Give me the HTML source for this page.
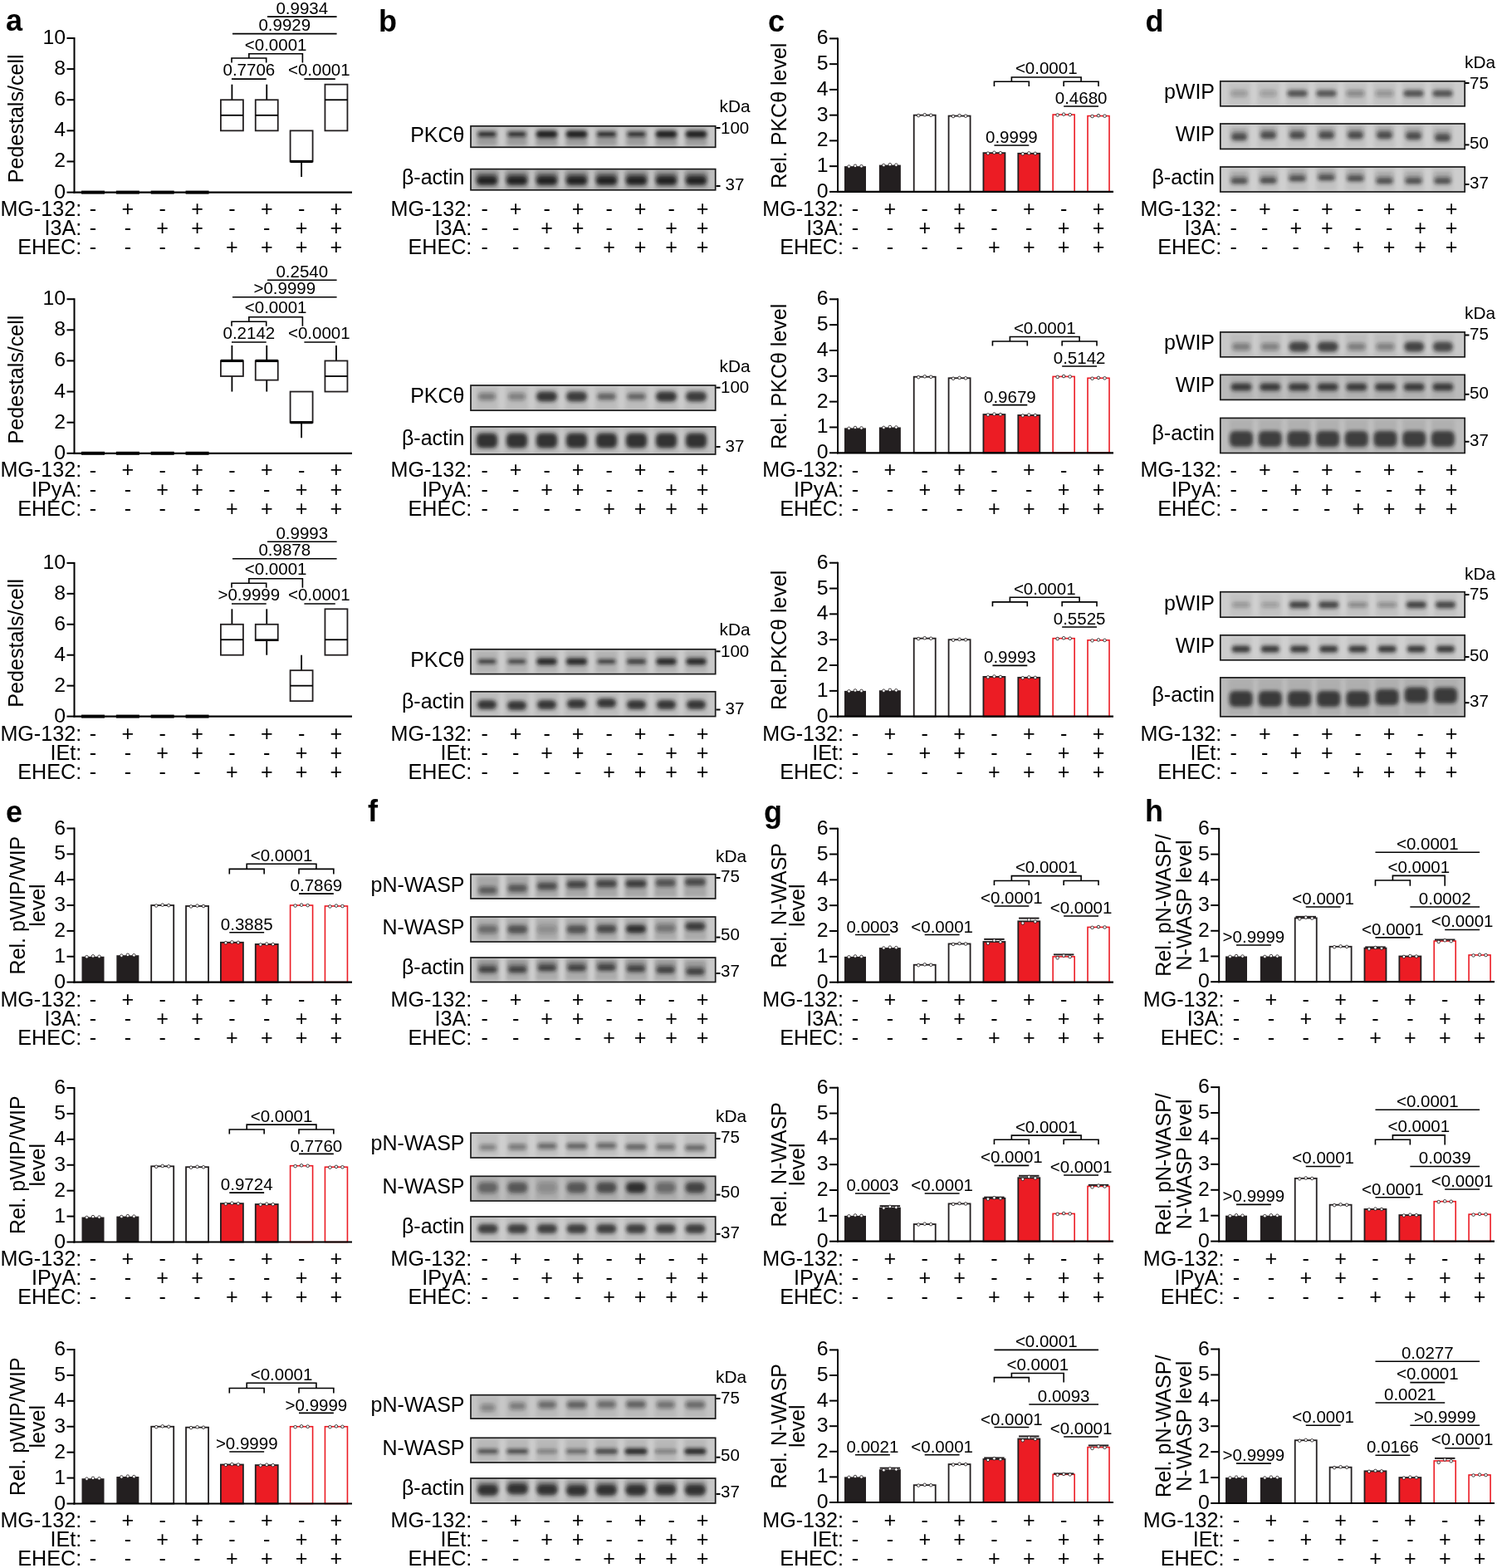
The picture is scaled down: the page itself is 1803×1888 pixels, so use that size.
<!DOCTYPE html>
<html><head><meta charset="utf-8"><title>Figure</title>
<style>html,body{margin:0;padding:0;background:#fff;}svg{display:block;}</style>
</head><body>
<svg width="1803" height="1888" viewBox="0 0 1803 1888" font-family='"Liberation Sans", Arial, Helvetica, sans-serif'>
<defs><filter id="bl" x="-20%" y="-60%" width="140%" height="220%"><feGaussianBlur stdDeviation="1.9"/></filter><filter id="bl2" x="-20%" y="-60%" width="140%" height="220%"><feGaussianBlur stdDeviation="2.4"/></filter><filter id="bl3" x="-5%" y="-20%" width="110%" height="140%"><feGaussianBlur stdDeviation="2"/></filter><filter id="bl4" x="-20%" y="-60%" width="140%" height="220%"><feGaussianBlur stdDeviation="2.2"/></filter></defs>
<rect width="1803" height="1888" fill="#fff"/>
<text x="7" y="37" font-size="36" font-weight="bold">a</text>
<text x="456" y="38" font-size="36" font-weight="bold">b</text>
<text x="925" y="38" font-size="36" font-weight="bold">c</text>
<text x="1379.5" y="38" font-size="36" font-weight="bold">d</text>
<text x="7" y="990" font-size="36" font-weight="bold">e</text>
<text x="443" y="989" font-size="36" font-weight="bold">f</text>
<text x="920" y="990" font-size="36" font-weight="bold">g</text>
<text x="1379" y="989" font-size="36" font-weight="bold">h</text>
<line x1="98" y1="231.6" x2="126" y2="231.6" stroke="#000" stroke-width="4"/>
<line x1="139.85" y1="231.6" x2="167.85" y2="231.6" stroke="#000" stroke-width="4"/>
<line x1="181.7" y1="231.6" x2="209.7" y2="231.6" stroke="#000" stroke-width="4"/>
<line x1="223.55" y1="231.6" x2="251.55" y2="231.6" stroke="#000" stroke-width="4"/>
<line x1="80.5" y1="231.6" x2="89.5" y2="231.6" stroke="#000" stroke-width="2"/>
<text x="79" y="238.6" font-size="24.8" text-anchor="end">0</text>
<line x1="80.5" y1="194.48" x2="89.5" y2="194.48" stroke="#000" stroke-width="2"/>
<text x="79" y="201.48" font-size="24.8" text-anchor="end">2</text>
<line x1="80.5" y1="157.36" x2="89.5" y2="157.36" stroke="#000" stroke-width="2"/>
<text x="79" y="164.36" font-size="24.8" text-anchor="end">4</text>
<line x1="80.5" y1="120.24" x2="89.5" y2="120.24" stroke="#000" stroke-width="2"/>
<text x="79" y="127.24" font-size="24.8" text-anchor="end">6</text>
<line x1="80.5" y1="83.12" x2="89.5" y2="83.12" stroke="#000" stroke-width="2"/>
<text x="79" y="90.12" font-size="24.8" text-anchor="end">8</text>
<line x1="80.5" y1="46" x2="89.5" y2="46" stroke="#000" stroke-width="2"/>
<text x="79" y="53" font-size="24.8" text-anchor="end">10</text>
<line x1="89.5" y1="45" x2="89.5" y2="232.6" stroke="#000" stroke-width="2"/>
<line x1="88.5" y1="231.6" x2="424" y2="231.6" stroke="#000" stroke-width="2.2"/>
<line x1="279.4" y1="120.24" x2="279.4" y2="101.68" stroke="#000" stroke-width="1.8"/>
<rect x="265.9" y="120.24" width="27" height="37.12" fill="#fff" stroke="#231f20" stroke-width="1.8"/>
<line x1="265.9" y1="138.8" x2="292.9" y2="138.8" stroke="#000" stroke-width="1.8"/>
<line x1="321.25" y1="120.24" x2="321.25" y2="101.68" stroke="#000" stroke-width="1.8"/>
<rect x="307.75" y="120.24" width="27" height="37.12" fill="#fff" stroke="#231f20" stroke-width="1.8"/>
<line x1="307.75" y1="138.8" x2="334.75" y2="138.8" stroke="#000" stroke-width="1.8"/>
<line x1="363.1" y1="194.48" x2="363.1" y2="213.04" stroke="#000" stroke-width="1.8"/>
<rect x="349.6" y="157.36" width="27" height="37.12" fill="#fff" stroke="#231f20" stroke-width="1.8"/>
<line x1="349.6" y1="194.48" x2="376.6" y2="194.48" stroke="#000" stroke-width="3.2"/>
<rect x="391.45" y="101.68" width="27" height="55.68" fill="#fff" stroke="#231f20" stroke-width="1.8"/>
<line x1="391.45" y1="120.24" x2="418.45" y2="120.24" stroke="#000" stroke-width="1.8"/>
<text transform="translate(28.3 142.8) rotate(-90)" text-anchor="middle" font-size="25.1">Pedestals/cell</text>
<text x="98.2" y="259.6" font-size="25.15" text-anchor="end">MG-132:</text>
<text x="112" y="259.9" font-size="25.15" text-anchor="middle">-</text>
<text x="153.85" y="259.6" font-size="25.15" text-anchor="middle">+</text>
<text x="195.7" y="259.9" font-size="25.15" text-anchor="middle">-</text>
<text x="237.55" y="259.6" font-size="25.15" text-anchor="middle">+</text>
<text x="279.4" y="259.9" font-size="25.15" text-anchor="middle">-</text>
<text x="321.25" y="259.6" font-size="25.15" text-anchor="middle">+</text>
<text x="363.1" y="259.9" font-size="25.15" text-anchor="middle">-</text>
<text x="404.95" y="259.6" font-size="25.15" text-anchor="middle">+</text>
<text x="98.2" y="282.6" font-size="25.15" text-anchor="end">I3A:</text>
<text x="112" y="282.9" font-size="25.15" text-anchor="middle">-</text>
<text x="153.85" y="282.9" font-size="25.15" text-anchor="middle">-</text>
<text x="195.7" y="282.6" font-size="25.15" text-anchor="middle">+</text>
<text x="237.55" y="282.6" font-size="25.15" text-anchor="middle">+</text>
<text x="279.4" y="282.9" font-size="25.15" text-anchor="middle">-</text>
<text x="321.25" y="282.9" font-size="25.15" text-anchor="middle">-</text>
<text x="363.1" y="282.6" font-size="25.15" text-anchor="middle">+</text>
<text x="404.95" y="282.6" font-size="25.15" text-anchor="middle">+</text>
<text x="98.2" y="305.9" font-size="25.15" text-anchor="end">EHEC:</text>
<text x="112" y="306.2" font-size="25.15" text-anchor="middle">-</text>
<text x="153.85" y="306.2" font-size="25.15" text-anchor="middle">-</text>
<text x="195.7" y="306.2" font-size="25.15" text-anchor="middle">-</text>
<text x="237.55" y="306.2" font-size="25.15" text-anchor="middle">-</text>
<text x="279.4" y="305.9" font-size="25.15" text-anchor="middle">+</text>
<text x="321.25" y="305.9" font-size="25.15" text-anchor="middle">+</text>
<text x="363.1" y="305.9" font-size="25.15" text-anchor="middle">+</text>
<text x="404.95" y="305.9" font-size="25.15" text-anchor="middle">+</text>
<line x1="322" y1="20.1" x2="405.6" y2="20.1" stroke="#000" stroke-width="1.6"/>
<text x="363.8" y="17" font-size="20.5" text-anchor="middle">0.9934</text>
<line x1="280" y1="40.6" x2="405.6" y2="40.6" stroke="#000" stroke-width="1.6"/>
<text x="342.8" y="37.4" font-size="20.5" text-anchor="middle">0.9929</text>
<path d="M279 75.5 V70 H320.7 V75.5" stroke="#000" stroke-width="1.6" fill="none"/>
<path d="M299.85 70 V64.76 H364.4 V75.5" stroke="#000" stroke-width="1.6" fill="none"/>
<text x="332.12" y="60.6" font-size="20.5" text-anchor="middle">&lt;0.0001</text>
<line x1="279" y1="95.1" x2="320.7" y2="95.1" stroke="#000" stroke-width="1.6"/>
<text x="299.85" y="91.2" font-size="20.5" text-anchor="middle">0.7706</text>
<line x1="366.4" y1="95.1" x2="403.8" y2="95.1" stroke="#000" stroke-width="1.6"/>
<text x="384.3" y="91.2" font-size="20.5" text-anchor="middle">&lt;0.0001</text>
<line x1="98" y1="545.8" x2="126" y2="545.8" stroke="#000" stroke-width="4"/>
<line x1="139.85" y1="545.8" x2="167.85" y2="545.8" stroke="#000" stroke-width="4"/>
<line x1="181.7" y1="545.8" x2="209.7" y2="545.8" stroke="#000" stroke-width="4"/>
<line x1="223.55" y1="545.8" x2="251.55" y2="545.8" stroke="#000" stroke-width="4"/>
<line x1="80.5" y1="545.8" x2="89.5" y2="545.8" stroke="#000" stroke-width="2"/>
<text x="79" y="552.8" font-size="24.8" text-anchor="end">0</text>
<line x1="80.5" y1="508.68" x2="89.5" y2="508.68" stroke="#000" stroke-width="2"/>
<text x="79" y="515.68" font-size="24.8" text-anchor="end">2</text>
<line x1="80.5" y1="471.56" x2="89.5" y2="471.56" stroke="#000" stroke-width="2"/>
<text x="79" y="478.56" font-size="24.8" text-anchor="end">4</text>
<line x1="80.5" y1="434.44" x2="89.5" y2="434.44" stroke="#000" stroke-width="2"/>
<text x="79" y="441.44" font-size="24.8" text-anchor="end">6</text>
<line x1="80.5" y1="397.32" x2="89.5" y2="397.32" stroke="#000" stroke-width="2"/>
<text x="79" y="404.32" font-size="24.8" text-anchor="end">8</text>
<line x1="80.5" y1="360.2" x2="89.5" y2="360.2" stroke="#000" stroke-width="2"/>
<text x="79" y="367.2" font-size="24.8" text-anchor="end">10</text>
<line x1="89.5" y1="359.2" x2="89.5" y2="546.8" stroke="#000" stroke-width="2"/>
<line x1="88.5" y1="545.8" x2="424" y2="545.8" stroke="#000" stroke-width="2.2"/>
<line x1="279.4" y1="434.44" x2="279.4" y2="415.88" stroke="#000" stroke-width="1.8"/>
<line x1="279.4" y1="453" x2="279.4" y2="471.56" stroke="#000" stroke-width="1.8"/>
<rect x="265.9" y="434.44" width="27" height="18.56" fill="#fff" stroke="#231f20" stroke-width="1.8"/>
<line x1="265.9" y1="434.44" x2="292.9" y2="434.44" stroke="#000" stroke-width="3.2"/>
<line x1="321.25" y1="434.44" x2="321.25" y2="415.88" stroke="#000" stroke-width="1.8"/>
<line x1="321.25" y1="457.64" x2="321.25" y2="471.56" stroke="#000" stroke-width="1.8"/>
<rect x="307.75" y="434.44" width="27" height="23.2" fill="#fff" stroke="#231f20" stroke-width="1.8"/>
<line x1="307.75" y1="434.44" x2="334.75" y2="434.44" stroke="#000" stroke-width="3.2"/>
<line x1="363.1" y1="508.68" x2="363.1" y2="527.24" stroke="#000" stroke-width="1.8"/>
<rect x="349.6" y="471.56" width="27" height="37.12" fill="#fff" stroke="#231f20" stroke-width="1.8"/>
<line x1="349.6" y1="508.68" x2="376.6" y2="508.68" stroke="#000" stroke-width="3.2"/>
<line x1="404.95" y1="434.44" x2="404.95" y2="415.88" stroke="#000" stroke-width="1.8"/>
<rect x="391.45" y="434.44" width="27" height="37.12" fill="#fff" stroke="#231f20" stroke-width="1.8"/>
<line x1="391.45" y1="453" x2="418.45" y2="453" stroke="#000" stroke-width="1.8"/>
<text transform="translate(28.3 457) rotate(-90)" text-anchor="middle" font-size="25.1">Pedestals/cell</text>
<text x="98.2" y="574.3" font-size="25.15" text-anchor="end">MG-132:</text>
<text x="112" y="574.6" font-size="25.15" text-anchor="middle">-</text>
<text x="153.85" y="574.3" font-size="25.15" text-anchor="middle">+</text>
<text x="195.7" y="574.6" font-size="25.15" text-anchor="middle">-</text>
<text x="237.55" y="574.3" font-size="25.15" text-anchor="middle">+</text>
<text x="279.4" y="574.6" font-size="25.15" text-anchor="middle">-</text>
<text x="321.25" y="574.3" font-size="25.15" text-anchor="middle">+</text>
<text x="363.1" y="574.6" font-size="25.15" text-anchor="middle">-</text>
<text x="404.95" y="574.3" font-size="25.15" text-anchor="middle">+</text>
<text x="98.2" y="597.5" font-size="25.15" text-anchor="end">IPyA:</text>
<text x="112" y="597.8" font-size="25.15" text-anchor="middle">-</text>
<text x="153.85" y="597.8" font-size="25.15" text-anchor="middle">-</text>
<text x="195.7" y="597.5" font-size="25.15" text-anchor="middle">+</text>
<text x="237.55" y="597.5" font-size="25.15" text-anchor="middle">+</text>
<text x="279.4" y="597.8" font-size="25.15" text-anchor="middle">-</text>
<text x="321.25" y="597.8" font-size="25.15" text-anchor="middle">-</text>
<text x="363.1" y="597.5" font-size="25.15" text-anchor="middle">+</text>
<text x="404.95" y="597.5" font-size="25.15" text-anchor="middle">+</text>
<text x="98.2" y="620.8" font-size="25.15" text-anchor="end">EHEC:</text>
<text x="112" y="621.1" font-size="25.15" text-anchor="middle">-</text>
<text x="153.85" y="621.1" font-size="25.15" text-anchor="middle">-</text>
<text x="195.7" y="621.1" font-size="25.15" text-anchor="middle">-</text>
<text x="237.55" y="621.1" font-size="25.15" text-anchor="middle">-</text>
<text x="279.4" y="620.8" font-size="25.15" text-anchor="middle">+</text>
<text x="321.25" y="620.8" font-size="25.15" text-anchor="middle">+</text>
<text x="363.1" y="620.8" font-size="25.15" text-anchor="middle">+</text>
<text x="404.95" y="620.8" font-size="25.15" text-anchor="middle">+</text>
<line x1="322" y1="337.3" x2="405.6" y2="337.3" stroke="#000" stroke-width="1.6"/>
<text x="363.8" y="333.5" font-size="20.5" text-anchor="middle">0.2540</text>
<line x1="280" y1="357.8" x2="405.6" y2="357.8" stroke="#000" stroke-width="1.6"/>
<text x="342.8" y="353.9" font-size="20.5" text-anchor="middle">&gt;0.9999</text>
<path d="M279 392.7 V387.2 H320.7 V392.7" stroke="#000" stroke-width="1.6" fill="none"/>
<path d="M299.85 387.2 V381.68 H364.4 V392.7" stroke="#000" stroke-width="1.6" fill="none"/>
<text x="332.12" y="377.1" font-size="20.5" text-anchor="middle">&lt;0.0001</text>
<line x1="279" y1="411.95" x2="320.7" y2="411.95" stroke="#000" stroke-width="1.6"/>
<text x="299.85" y="407.7" font-size="20.5" text-anchor="middle">0.2142</text>
<line x1="366.4" y1="411.95" x2="403.8" y2="411.95" stroke="#000" stroke-width="1.6"/>
<text x="384.3" y="407.7" font-size="20.5" text-anchor="middle">&lt;0.0001</text>
<line x1="98" y1="862.6" x2="126" y2="862.6" stroke="#000" stroke-width="4"/>
<line x1="139.85" y1="862.6" x2="167.85" y2="862.6" stroke="#000" stroke-width="4"/>
<line x1="181.7" y1="862.6" x2="209.7" y2="862.6" stroke="#000" stroke-width="4"/>
<line x1="223.55" y1="862.6" x2="251.55" y2="862.6" stroke="#000" stroke-width="4"/>
<line x1="80.5" y1="862.6" x2="89.5" y2="862.6" stroke="#000" stroke-width="2"/>
<text x="79" y="869.6" font-size="24.8" text-anchor="end">0</text>
<line x1="80.5" y1="825.66" x2="89.5" y2="825.66" stroke="#000" stroke-width="2"/>
<text x="79" y="832.66" font-size="24.8" text-anchor="end">2</text>
<line x1="80.5" y1="788.72" x2="89.5" y2="788.72" stroke="#000" stroke-width="2"/>
<text x="79" y="795.72" font-size="24.8" text-anchor="end">4</text>
<line x1="80.5" y1="751.78" x2="89.5" y2="751.78" stroke="#000" stroke-width="2"/>
<text x="79" y="758.78" font-size="24.8" text-anchor="end">6</text>
<line x1="80.5" y1="714.84" x2="89.5" y2="714.84" stroke="#000" stroke-width="2"/>
<text x="79" y="721.84" font-size="24.8" text-anchor="end">8</text>
<line x1="80.5" y1="677.9" x2="89.5" y2="677.9" stroke="#000" stroke-width="2"/>
<text x="79" y="684.9" font-size="24.8" text-anchor="end">10</text>
<line x1="89.5" y1="676.9" x2="89.5" y2="863.6" stroke="#000" stroke-width="2"/>
<line x1="88.5" y1="862.6" x2="424" y2="862.6" stroke="#000" stroke-width="2.2"/>
<line x1="279.4" y1="751.78" x2="279.4" y2="733.31" stroke="#000" stroke-width="1.8"/>
<rect x="265.9" y="751.78" width="27" height="36.94" fill="#fff" stroke="#231f20" stroke-width="1.8"/>
<line x1="265.9" y1="770.25" x2="292.9" y2="770.25" stroke="#000" stroke-width="1.8"/>
<line x1="321.25" y1="751.78" x2="321.25" y2="733.31" stroke="#000" stroke-width="1.8"/>
<line x1="321.25" y1="771.17" x2="321.25" y2="788.72" stroke="#000" stroke-width="1.8"/>
<rect x="307.75" y="751.78" width="27" height="19.39" fill="#fff" stroke="#231f20" stroke-width="1.8"/>
<line x1="307.75" y1="770.25" x2="334.75" y2="770.25" stroke="#000" stroke-width="1.8"/>
<line x1="363.1" y1="807.19" x2="363.1" y2="788.72" stroke="#000" stroke-width="1.8"/>
<rect x="349.6" y="807.19" width="27" height="36.94" fill="#fff" stroke="#231f20" stroke-width="1.8"/>
<line x1="349.6" y1="825.66" x2="376.6" y2="825.66" stroke="#000" stroke-width="1.8"/>
<rect x="391.45" y="733.31" width="27" height="55.41" fill="#fff" stroke="#231f20" stroke-width="1.8"/>
<line x1="391.45" y1="770.25" x2="418.45" y2="770.25" stroke="#000" stroke-width="1.8"/>
<text transform="translate(28.3 774.25) rotate(-90)" text-anchor="middle" font-size="25.1">Pedestals/cell</text>
<text x="98.2" y="891.8" font-size="25.15" text-anchor="end">MG-132:</text>
<text x="112" y="892.1" font-size="25.15" text-anchor="middle">-</text>
<text x="153.85" y="891.8" font-size="25.15" text-anchor="middle">+</text>
<text x="195.7" y="892.1" font-size="25.15" text-anchor="middle">-</text>
<text x="237.55" y="891.8" font-size="25.15" text-anchor="middle">+</text>
<text x="279.4" y="892.1" font-size="25.15" text-anchor="middle">-</text>
<text x="321.25" y="891.8" font-size="25.15" text-anchor="middle">+</text>
<text x="363.1" y="892.1" font-size="25.15" text-anchor="middle">-</text>
<text x="404.95" y="891.8" font-size="25.15" text-anchor="middle">+</text>
<text x="98.2" y="914.8" font-size="25.15" text-anchor="end">IEt:</text>
<text x="112" y="915.1" font-size="25.15" text-anchor="middle">-</text>
<text x="153.85" y="915.1" font-size="25.15" text-anchor="middle">-</text>
<text x="195.7" y="914.8" font-size="25.15" text-anchor="middle">+</text>
<text x="237.55" y="914.8" font-size="25.15" text-anchor="middle">+</text>
<text x="279.4" y="915.1" font-size="25.15" text-anchor="middle">-</text>
<text x="321.25" y="915.1" font-size="25.15" text-anchor="middle">-</text>
<text x="363.1" y="914.8" font-size="25.15" text-anchor="middle">+</text>
<text x="404.95" y="914.8" font-size="25.15" text-anchor="middle">+</text>
<text x="98.2" y="937.9" font-size="25.15" text-anchor="end">EHEC:</text>
<text x="112" y="938.2" font-size="25.15" text-anchor="middle">-</text>
<text x="153.85" y="938.2" font-size="25.15" text-anchor="middle">-</text>
<text x="195.7" y="938.2" font-size="25.15" text-anchor="middle">-</text>
<text x="237.55" y="938.2" font-size="25.15" text-anchor="middle">-</text>
<text x="279.4" y="937.9" font-size="25.15" text-anchor="middle">+</text>
<text x="321.25" y="937.9" font-size="25.15" text-anchor="middle">+</text>
<text x="363.1" y="937.9" font-size="25.15" text-anchor="middle">+</text>
<text x="404.95" y="937.9" font-size="25.15" text-anchor="middle">+</text>
<line x1="322" y1="652.3" x2="405.6" y2="652.3" stroke="#000" stroke-width="1.6"/>
<text x="363.8" y="648.5" font-size="20.5" text-anchor="middle">0.9993</text>
<line x1="280" y1="672.8" x2="405.6" y2="672.8" stroke="#000" stroke-width="1.6"/>
<text x="342.8" y="668.9" font-size="20.5" text-anchor="middle">0.9878</text>
<path d="M279 707.7 V702.2 H320.7 V707.7" stroke="#000" stroke-width="1.6" fill="none"/>
<path d="M299.85 702.2 V696.68 H364.4 V707.7" stroke="#000" stroke-width="1.6" fill="none"/>
<text x="332.12" y="692.1" font-size="20.5" text-anchor="middle">&lt;0.0001</text>
<line x1="279" y1="726.95" x2="320.7" y2="726.95" stroke="#000" stroke-width="1.6"/>
<text x="299.85" y="722.7" font-size="20.5" text-anchor="middle">&gt;0.9999</text>
<line x1="366.4" y1="726.95" x2="403.8" y2="726.95" stroke="#000" stroke-width="1.6"/>
<text x="384.3" y="722.7" font-size="20.5" text-anchor="middle">&lt;0.0001</text>
<rect x="1017" y="200.15" width="26" height="30.75" fill="#231f20" stroke="none" stroke-width="0"/>
<circle cx="1022.5" cy="200.61" r="1.8" fill="#fff" stroke="#231f20" stroke-width="0.85"/>
<circle cx="1030" cy="199.77" r="1.8" fill="#fff" stroke="#231f20" stroke-width="0.85"/>
<circle cx="1037.5" cy="200.23" r="1.8" fill="#fff" stroke="#231f20" stroke-width="0.85"/>
<rect x="1058.86" y="198.61" width="26" height="32.29" fill="#231f20" stroke="none" stroke-width="0"/>
<circle cx="1064.36" cy="199.07" r="1.8" fill="#fff" stroke="#231f20" stroke-width="0.85"/>
<circle cx="1071.86" cy="198.23" r="1.8" fill="#fff" stroke="#231f20" stroke-width="0.85"/>
<circle cx="1079.36" cy="198.69" r="1.8" fill="#fff" stroke="#231f20" stroke-width="0.85"/>
<rect x="1100.72" y="138.65" width="26" height="92.25" fill="#fff" stroke="#231f20" stroke-width="1.8"/>
<circle cx="1106.22" cy="139.11" r="1.8" fill="#fff" stroke="#231f20" stroke-width="0.85"/>
<circle cx="1113.72" cy="138.27" r="1.8" fill="#fff" stroke="#231f20" stroke-width="0.85"/>
<circle cx="1121.22" cy="138.73" r="1.8" fill="#fff" stroke="#231f20" stroke-width="0.85"/>
<rect x="1142.58" y="139.57" width="26" height="91.33" fill="#fff" stroke="#231f20" stroke-width="1.8"/>
<circle cx="1148.08" cy="140.03" r="1.8" fill="#fff" stroke="#231f20" stroke-width="0.85"/>
<circle cx="1155.58" cy="139.19" r="1.8" fill="#fff" stroke="#231f20" stroke-width="0.85"/>
<circle cx="1163.08" cy="139.65" r="1.8" fill="#fff" stroke="#231f20" stroke-width="0.85"/>
<rect x="1184.44" y="184.16" width="26" height="46.74" fill="#ec1c24" stroke="#231f20" stroke-width="1.8"/>
<circle cx="1189.94" cy="184.62" r="1.8" fill="#fff" stroke="#231f20" stroke-width="0.85"/>
<circle cx="1197.44" cy="183.78" r="1.8" fill="#fff" stroke="#231f20" stroke-width="0.85"/>
<circle cx="1204.94" cy="184.24" r="1.8" fill="#fff" stroke="#231f20" stroke-width="0.85"/>
<rect x="1226.3" y="184.78" width="26" height="46.12" fill="#ec1c24" stroke="#231f20" stroke-width="1.8"/>
<circle cx="1231.8" cy="185.24" r="1.8" fill="#fff" stroke="#231f20" stroke-width="0.85"/>
<circle cx="1239.3" cy="184.39" r="1.8" fill="#fff" stroke="#231f20" stroke-width="0.85"/>
<circle cx="1246.8" cy="184.85" r="1.8" fill="#fff" stroke="#231f20" stroke-width="0.85"/>
<rect x="1268.16" y="138.04" width="26" height="92.86" fill="#fff" stroke="#ec1c24" stroke-width="1.6"/>
<circle cx="1273.66" cy="138.5" r="1.8" fill="#fff" stroke="#231f20" stroke-width="0.85"/>
<circle cx="1281.16" cy="137.65" r="1.8" fill="#fff" stroke="#231f20" stroke-width="0.85"/>
<circle cx="1288.66" cy="138.11" r="1.8" fill="#fff" stroke="#231f20" stroke-width="0.85"/>
<rect x="1310.02" y="139.57" width="26" height="91.33" fill="#fff" stroke="#ec1c24" stroke-width="1.6"/>
<circle cx="1315.52" cy="140.03" r="1.8" fill="#fff" stroke="#231f20" stroke-width="0.85"/>
<circle cx="1323.02" cy="139.19" r="1.8" fill="#fff" stroke="#231f20" stroke-width="0.85"/>
<circle cx="1330.52" cy="139.65" r="1.8" fill="#fff" stroke="#231f20" stroke-width="0.85"/>
<line x1="999" y1="230.9" x2="1009" y2="230.9" stroke="#000" stroke-width="2"/>
<text x="997.5" y="237.9" font-size="24.8" text-anchor="end">0</text>
<line x1="999" y1="200.15" x2="1009" y2="200.15" stroke="#000" stroke-width="2"/>
<text x="997.5" y="207.15" font-size="24.8" text-anchor="end">1</text>
<line x1="999" y1="169.4" x2="1009" y2="169.4" stroke="#000" stroke-width="2"/>
<text x="997.5" y="176.4" font-size="24.8" text-anchor="end">2</text>
<line x1="999" y1="138.65" x2="1009" y2="138.65" stroke="#000" stroke-width="2"/>
<text x="997.5" y="145.65" font-size="24.8" text-anchor="end">3</text>
<line x1="999" y1="107.9" x2="1009" y2="107.9" stroke="#000" stroke-width="2"/>
<text x="997.5" y="114.9" font-size="24.8" text-anchor="end">4</text>
<line x1="999" y1="77.15" x2="1009" y2="77.15" stroke="#000" stroke-width="2"/>
<text x="997.5" y="84.15" font-size="24.8" text-anchor="end">5</text>
<line x1="999" y1="46.4" x2="1009" y2="46.4" stroke="#000" stroke-width="2"/>
<text x="997.5" y="53.4" font-size="24.8" text-anchor="end">6</text>
<line x1="1009" y1="45.4" x2="1009" y2="231.9" stroke="#000" stroke-width="2"/>
<line x1="1008" y1="230.9" x2="1341" y2="230.9" stroke="#000" stroke-width="2.2"/>
<text transform="translate(947.2 139.15) rotate(-90)" text-anchor="middle" font-size="25">Rel. PKCθ level</text>
<text x="1016" y="259.6" font-size="25.15" text-anchor="end">MG-132:</text>
<text x="1030" y="259.9" font-size="25.15" text-anchor="middle">-</text>
<text x="1071.86" y="259.6" font-size="25.15" text-anchor="middle">+</text>
<text x="1113.72" y="259.9" font-size="25.15" text-anchor="middle">-</text>
<text x="1155.58" y="259.6" font-size="25.15" text-anchor="middle">+</text>
<text x="1197.44" y="259.9" font-size="25.15" text-anchor="middle">-</text>
<text x="1239.3" y="259.6" font-size="25.15" text-anchor="middle">+</text>
<text x="1281.16" y="259.9" font-size="25.15" text-anchor="middle">-</text>
<text x="1323.02" y="259.6" font-size="25.15" text-anchor="middle">+</text>
<text x="1016" y="282.6" font-size="25.15" text-anchor="end">I3A:</text>
<text x="1030" y="282.9" font-size="25.15" text-anchor="middle">-</text>
<text x="1071.86" y="282.9" font-size="25.15" text-anchor="middle">-</text>
<text x="1113.72" y="282.6" font-size="25.15" text-anchor="middle">+</text>
<text x="1155.58" y="282.6" font-size="25.15" text-anchor="middle">+</text>
<text x="1197.44" y="282.9" font-size="25.15" text-anchor="middle">-</text>
<text x="1239.3" y="282.9" font-size="25.15" text-anchor="middle">-</text>
<text x="1281.16" y="282.6" font-size="25.15" text-anchor="middle">+</text>
<text x="1323.02" y="282.6" font-size="25.15" text-anchor="middle">+</text>
<text x="1016" y="305.9" font-size="25.15" text-anchor="end">EHEC:</text>
<text x="1030" y="306.2" font-size="25.15" text-anchor="middle">-</text>
<text x="1071.86" y="306.2" font-size="25.15" text-anchor="middle">-</text>
<text x="1113.72" y="306.2" font-size="25.15" text-anchor="middle">-</text>
<text x="1155.58" y="306.2" font-size="25.15" text-anchor="middle">-</text>
<text x="1197.44" y="305.9" font-size="25.15" text-anchor="middle">+</text>
<text x="1239.3" y="305.9" font-size="25.15" text-anchor="middle">+</text>
<text x="1281.16" y="305.9" font-size="25.15" text-anchor="middle">+</text>
<text x="1323.02" y="305.9" font-size="25.15" text-anchor="middle">+</text>
<path d="M1197.44 104 V98.2 H1239.3 V104" stroke="#000" stroke-width="1.6" fill="none"/>
<path d="M1281.16 104 V98.2 H1323.02 V104" stroke="#000" stroke-width="1.6" fill="none"/>
<path d="M1218.37 98.2 V93 H1302.09 V98.2" stroke="#000" stroke-width="1.6" fill="none"/>
<text x="1260.23" y="89.3" font-size="20.5" text-anchor="middle">&lt;0.0001</text>
<line x1="1281.16" y1="128" x2="1323.02" y2="128" stroke="#000" stroke-width="1.6"/>
<text x="1302.09" y="125" font-size="20.5" text-anchor="middle">0.4680</text>
<line x1="1197.44" y1="175" x2="1239.3" y2="175" stroke="#000" stroke-width="1.6"/>
<text x="1218.37" y="172" font-size="20.5" text-anchor="middle">0.9999</text>
<rect x="1017" y="515.39" width="26" height="29.91" fill="#231f20" stroke="none" stroke-width="0"/>
<circle cx="1022.5" cy="515.85" r="1.8" fill="#fff" stroke="#231f20" stroke-width="0.85"/>
<circle cx="1030" cy="515.01" r="1.8" fill="#fff" stroke="#231f20" stroke-width="0.85"/>
<circle cx="1037.5" cy="515.47" r="1.8" fill="#fff" stroke="#231f20" stroke-width="0.85"/>
<rect x="1058.86" y="514.47" width="26" height="30.83" fill="#231f20" stroke="none" stroke-width="0"/>
<circle cx="1064.36" cy="514.93" r="1.8" fill="#fff" stroke="#231f20" stroke-width="0.85"/>
<circle cx="1071.86" cy="514.08" r="1.8" fill="#fff" stroke="#231f20" stroke-width="0.85"/>
<circle cx="1079.36" cy="514.54" r="1.8" fill="#fff" stroke="#231f20" stroke-width="0.85"/>
<rect x="1100.72" y="453.72" width="26" height="91.57" fill="#fff" stroke="#231f20" stroke-width="1.8"/>
<circle cx="1106.22" cy="454.19" r="1.8" fill="#fff" stroke="#231f20" stroke-width="0.85"/>
<circle cx="1113.72" cy="453.34" r="1.8" fill="#fff" stroke="#231f20" stroke-width="0.85"/>
<circle cx="1121.22" cy="453.8" r="1.8" fill="#fff" stroke="#231f20" stroke-width="0.85"/>
<rect x="1142.58" y="455.27" width="26" height="90.03" fill="#fff" stroke="#231f20" stroke-width="1.8"/>
<circle cx="1148.08" cy="455.73" r="1.8" fill="#fff" stroke="#231f20" stroke-width="0.85"/>
<circle cx="1155.58" cy="454.88" r="1.8" fill="#fff" stroke="#231f20" stroke-width="0.85"/>
<circle cx="1163.08" cy="455.34" r="1.8" fill="#fff" stroke="#231f20" stroke-width="0.85"/>
<rect x="1184.44" y="499.05" width="26" height="46.25" fill="#ec1c24" stroke="#231f20" stroke-width="1.8"/>
<circle cx="1189.94" cy="499.51" r="1.8" fill="#fff" stroke="#231f20" stroke-width="0.85"/>
<circle cx="1197.44" cy="498.66" r="1.8" fill="#fff" stroke="#231f20" stroke-width="0.85"/>
<circle cx="1204.94" cy="499.13" r="1.8" fill="#fff" stroke="#231f20" stroke-width="0.85"/>
<rect x="1226.3" y="499.97" width="26" height="45.32" fill="#ec1c24" stroke="#231f20" stroke-width="1.8"/>
<circle cx="1231.8" cy="500.44" r="1.8" fill="#fff" stroke="#231f20" stroke-width="0.85"/>
<circle cx="1239.3" cy="499.59" r="1.8" fill="#fff" stroke="#231f20" stroke-width="0.85"/>
<circle cx="1246.8" cy="500.05" r="1.8" fill="#fff" stroke="#231f20" stroke-width="0.85"/>
<rect x="1268.16" y="453.42" width="26" height="91.88" fill="#fff" stroke="#ec1c24" stroke-width="1.6"/>
<circle cx="1273.66" cy="453.88" r="1.8" fill="#fff" stroke="#231f20" stroke-width="0.85"/>
<circle cx="1281.16" cy="453.03" r="1.8" fill="#fff" stroke="#231f20" stroke-width="0.85"/>
<circle cx="1288.66" cy="453.49" r="1.8" fill="#fff" stroke="#231f20" stroke-width="0.85"/>
<rect x="1310.02" y="455.27" width="26" height="90.03" fill="#fff" stroke="#ec1c24" stroke-width="1.6"/>
<circle cx="1315.52" cy="455.73" r="1.8" fill="#fff" stroke="#231f20" stroke-width="0.85"/>
<circle cx="1323.02" cy="454.88" r="1.8" fill="#fff" stroke="#231f20" stroke-width="0.85"/>
<circle cx="1330.52" cy="455.34" r="1.8" fill="#fff" stroke="#231f20" stroke-width="0.85"/>
<line x1="999" y1="545.3" x2="1009" y2="545.3" stroke="#000" stroke-width="2"/>
<text x="997.5" y="552.3" font-size="24.8" text-anchor="end">0</text>
<line x1="999" y1="514.47" x2="1009" y2="514.47" stroke="#000" stroke-width="2"/>
<text x="997.5" y="521.47" font-size="24.8" text-anchor="end">1</text>
<line x1="999" y1="483.63" x2="1009" y2="483.63" stroke="#000" stroke-width="2"/>
<text x="997.5" y="490.63" font-size="24.8" text-anchor="end">2</text>
<line x1="999" y1="452.8" x2="1009" y2="452.8" stroke="#000" stroke-width="2"/>
<text x="997.5" y="459.8" font-size="24.8" text-anchor="end">3</text>
<line x1="999" y1="421.97" x2="1009" y2="421.97" stroke="#000" stroke-width="2"/>
<text x="997.5" y="428.97" font-size="24.8" text-anchor="end">4</text>
<line x1="999" y1="391.13" x2="1009" y2="391.13" stroke="#000" stroke-width="2"/>
<text x="997.5" y="398.13" font-size="24.8" text-anchor="end">5</text>
<line x1="999" y1="360.3" x2="1009" y2="360.3" stroke="#000" stroke-width="2"/>
<text x="997.5" y="367.3" font-size="24.8" text-anchor="end">6</text>
<line x1="1009" y1="359.3" x2="1009" y2="546.3" stroke="#000" stroke-width="2"/>
<line x1="1008" y1="545.3" x2="1341" y2="545.3" stroke="#000" stroke-width="2.2"/>
<text transform="translate(947.2 453.3) rotate(-90)" text-anchor="middle" font-size="25">Rel. PKCθ level</text>
<text x="1016" y="574.3" font-size="25.15" text-anchor="end">MG-132:</text>
<text x="1030" y="574.6" font-size="25.15" text-anchor="middle">-</text>
<text x="1071.86" y="574.3" font-size="25.15" text-anchor="middle">+</text>
<text x="1113.72" y="574.6" font-size="25.15" text-anchor="middle">-</text>
<text x="1155.58" y="574.3" font-size="25.15" text-anchor="middle">+</text>
<text x="1197.44" y="574.6" font-size="25.15" text-anchor="middle">-</text>
<text x="1239.3" y="574.3" font-size="25.15" text-anchor="middle">+</text>
<text x="1281.16" y="574.6" font-size="25.15" text-anchor="middle">-</text>
<text x="1323.02" y="574.3" font-size="25.15" text-anchor="middle">+</text>
<text x="1016" y="597.5" font-size="25.15" text-anchor="end">IPyA:</text>
<text x="1030" y="597.8" font-size="25.15" text-anchor="middle">-</text>
<text x="1071.86" y="597.8" font-size="25.15" text-anchor="middle">-</text>
<text x="1113.72" y="597.5" font-size="25.15" text-anchor="middle">+</text>
<text x="1155.58" y="597.5" font-size="25.15" text-anchor="middle">+</text>
<text x="1197.44" y="597.8" font-size="25.15" text-anchor="middle">-</text>
<text x="1239.3" y="597.8" font-size="25.15" text-anchor="middle">-</text>
<text x="1281.16" y="597.5" font-size="25.15" text-anchor="middle">+</text>
<text x="1323.02" y="597.5" font-size="25.15" text-anchor="middle">+</text>
<text x="1016" y="620.8" font-size="25.15" text-anchor="end">EHEC:</text>
<text x="1030" y="621.1" font-size="25.15" text-anchor="middle">-</text>
<text x="1071.86" y="621.1" font-size="25.15" text-anchor="middle">-</text>
<text x="1113.72" y="621.1" font-size="25.15" text-anchor="middle">-</text>
<text x="1155.58" y="621.1" font-size="25.15" text-anchor="middle">-</text>
<text x="1197.44" y="620.8" font-size="25.15" text-anchor="middle">+</text>
<text x="1239.3" y="620.8" font-size="25.15" text-anchor="middle">+</text>
<text x="1281.16" y="620.8" font-size="25.15" text-anchor="middle">+</text>
<text x="1323.02" y="620.8" font-size="25.15" text-anchor="middle">+</text>
<path d="M1195.44 416.4 V411 H1237.3 V416.4" stroke="#000" stroke-width="1.6" fill="none"/>
<path d="M1279.16 416.4 V411 H1321.02 V416.4" stroke="#000" stroke-width="1.6" fill="none"/>
<path d="M1216.37 411 V405.5 H1300.09 V411" stroke="#000" stroke-width="1.6" fill="none"/>
<text x="1258.23" y="401.8" font-size="20.5" text-anchor="middle">&lt;0.0001</text>
<line x1="1279.16" y1="441" x2="1321.02" y2="441" stroke="#000" stroke-width="1.6"/>
<text x="1300.09" y="438" font-size="20.5" text-anchor="middle">0.5142</text>
<line x1="1195.44" y1="487.6" x2="1237.3" y2="487.6" stroke="#000" stroke-width="1.6"/>
<text x="1216.37" y="484.6" font-size="20.5" text-anchor="middle">0.9679</text>
<rect x="1017" y="831.87" width="26" height="30.83" fill="#231f20" stroke="none" stroke-width="0"/>
<circle cx="1022.5" cy="832.33" r="1.8" fill="#fff" stroke="#231f20" stroke-width="0.85"/>
<circle cx="1030" cy="831.48" r="1.8" fill="#fff" stroke="#231f20" stroke-width="0.85"/>
<circle cx="1037.5" cy="831.94" r="1.8" fill="#fff" stroke="#231f20" stroke-width="0.85"/>
<rect x="1058.86" y="831.25" width="26" height="31.45" fill="#231f20" stroke="none" stroke-width="0"/>
<circle cx="1064.36" cy="831.71" r="1.8" fill="#fff" stroke="#231f20" stroke-width="0.85"/>
<circle cx="1071.86" cy="830.86" r="1.8" fill="#fff" stroke="#231f20" stroke-width="0.85"/>
<circle cx="1079.36" cy="831.33" r="1.8" fill="#fff" stroke="#231f20" stroke-width="0.85"/>
<rect x="1100.72" y="768.66" width="26" height="94.04" fill="#fff" stroke="#231f20" stroke-width="1.8"/>
<circle cx="1106.22" cy="769.12" r="1.8" fill="#fff" stroke="#231f20" stroke-width="0.85"/>
<circle cx="1113.72" cy="768.27" r="1.8" fill="#fff" stroke="#231f20" stroke-width="0.85"/>
<circle cx="1121.22" cy="768.74" r="1.8" fill="#fff" stroke="#231f20" stroke-width="0.85"/>
<rect x="1142.58" y="770.2" width="26" height="92.5" fill="#fff" stroke="#231f20" stroke-width="1.8"/>
<circle cx="1148.08" cy="770.66" r="1.8" fill="#fff" stroke="#231f20" stroke-width="0.85"/>
<circle cx="1155.58" cy="769.81" r="1.8" fill="#fff" stroke="#231f20" stroke-width="0.85"/>
<circle cx="1163.08" cy="770.28" r="1.8" fill="#fff" stroke="#231f20" stroke-width="0.85"/>
<rect x="1184.44" y="814.91" width="26" height="47.79" fill="#ec1c24" stroke="#231f20" stroke-width="1.8"/>
<circle cx="1189.94" cy="815.37" r="1.8" fill="#fff" stroke="#231f20" stroke-width="0.85"/>
<circle cx="1197.44" cy="814.52" r="1.8" fill="#fff" stroke="#231f20" stroke-width="0.85"/>
<circle cx="1204.94" cy="814.99" r="1.8" fill="#fff" stroke="#231f20" stroke-width="0.85"/>
<rect x="1226.3" y="815.83" width="26" height="46.87" fill="#ec1c24" stroke="#231f20" stroke-width="1.8"/>
<circle cx="1231.8" cy="816.3" r="1.8" fill="#fff" stroke="#231f20" stroke-width="0.85"/>
<circle cx="1239.3" cy="815.45" r="1.8" fill="#fff" stroke="#231f20" stroke-width="0.85"/>
<circle cx="1246.8" cy="815.91" r="1.8" fill="#fff" stroke="#231f20" stroke-width="0.85"/>
<rect x="1268.16" y="768.66" width="26" height="94.04" fill="#fff" stroke="#ec1c24" stroke-width="1.6"/>
<circle cx="1273.66" cy="769.12" r="1.8" fill="#fff" stroke="#231f20" stroke-width="0.85"/>
<circle cx="1281.16" cy="768.27" r="1.8" fill="#fff" stroke="#231f20" stroke-width="0.85"/>
<circle cx="1288.66" cy="768.74" r="1.8" fill="#fff" stroke="#231f20" stroke-width="0.85"/>
<rect x="1310.02" y="770.82" width="26" height="91.88" fill="#fff" stroke="#ec1c24" stroke-width="1.6"/>
<circle cx="1315.52" cy="771.28" r="1.8" fill="#fff" stroke="#231f20" stroke-width="0.85"/>
<circle cx="1323.02" cy="770.43" r="1.8" fill="#fff" stroke="#231f20" stroke-width="0.85"/>
<circle cx="1330.52" cy="770.89" r="1.8" fill="#fff" stroke="#231f20" stroke-width="0.85"/>
<line x1="999" y1="862.7" x2="1009" y2="862.7" stroke="#000" stroke-width="2"/>
<text x="997.5" y="869.7" font-size="24.8" text-anchor="end">0</text>
<line x1="999" y1="831.87" x2="1009" y2="831.87" stroke="#000" stroke-width="2"/>
<text x="997.5" y="838.87" font-size="24.8" text-anchor="end">1</text>
<line x1="999" y1="801.03" x2="1009" y2="801.03" stroke="#000" stroke-width="2"/>
<text x="997.5" y="808.03" font-size="24.8" text-anchor="end">2</text>
<line x1="999" y1="770.2" x2="1009" y2="770.2" stroke="#000" stroke-width="2"/>
<text x="997.5" y="777.2" font-size="24.8" text-anchor="end">3</text>
<line x1="999" y1="739.37" x2="1009" y2="739.37" stroke="#000" stroke-width="2"/>
<text x="997.5" y="746.37" font-size="24.8" text-anchor="end">4</text>
<line x1="999" y1="708.53" x2="1009" y2="708.53" stroke="#000" stroke-width="2"/>
<text x="997.5" y="715.53" font-size="24.8" text-anchor="end">5</text>
<line x1="999" y1="677.7" x2="1009" y2="677.7" stroke="#000" stroke-width="2"/>
<text x="997.5" y="684.7" font-size="24.8" text-anchor="end">6</text>
<line x1="1009" y1="676.7" x2="1009" y2="863.7" stroke="#000" stroke-width="2"/>
<line x1="1008" y1="862.7" x2="1341" y2="862.7" stroke="#000" stroke-width="2.2"/>
<text transform="translate(947.2 770.7) rotate(-90)" text-anchor="middle" font-size="25">Rel.PKCθ level</text>
<text x="1016" y="891.8" font-size="25.15" text-anchor="end">MG-132:</text>
<text x="1030" y="892.1" font-size="25.15" text-anchor="middle">-</text>
<text x="1071.86" y="891.8" font-size="25.15" text-anchor="middle">+</text>
<text x="1113.72" y="892.1" font-size="25.15" text-anchor="middle">-</text>
<text x="1155.58" y="891.8" font-size="25.15" text-anchor="middle">+</text>
<text x="1197.44" y="892.1" font-size="25.15" text-anchor="middle">-</text>
<text x="1239.3" y="891.8" font-size="25.15" text-anchor="middle">+</text>
<text x="1281.16" y="892.1" font-size="25.15" text-anchor="middle">-</text>
<text x="1323.02" y="891.8" font-size="25.15" text-anchor="middle">+</text>
<text x="1016" y="914.8" font-size="25.15" text-anchor="end">IEt:</text>
<text x="1030" y="915.1" font-size="25.15" text-anchor="middle">-</text>
<text x="1071.86" y="915.1" font-size="25.15" text-anchor="middle">-</text>
<text x="1113.72" y="914.8" font-size="25.15" text-anchor="middle">+</text>
<text x="1155.58" y="914.8" font-size="25.15" text-anchor="middle">+</text>
<text x="1197.44" y="915.1" font-size="25.15" text-anchor="middle">-</text>
<text x="1239.3" y="915.1" font-size="25.15" text-anchor="middle">-</text>
<text x="1281.16" y="914.8" font-size="25.15" text-anchor="middle">+</text>
<text x="1323.02" y="914.8" font-size="25.15" text-anchor="middle">+</text>
<text x="1016" y="937.9" font-size="25.15" text-anchor="end">EHEC:</text>
<text x="1030" y="938.2" font-size="25.15" text-anchor="middle">-</text>
<text x="1071.86" y="938.2" font-size="25.15" text-anchor="middle">-</text>
<text x="1113.72" y="938.2" font-size="25.15" text-anchor="middle">-</text>
<text x="1155.58" y="938.2" font-size="25.15" text-anchor="middle">-</text>
<text x="1197.44" y="937.9" font-size="25.15" text-anchor="middle">+</text>
<text x="1239.3" y="937.9" font-size="25.15" text-anchor="middle">+</text>
<text x="1281.16" y="937.9" font-size="25.15" text-anchor="middle">+</text>
<text x="1323.02" y="937.9" font-size="25.15" text-anchor="middle">+</text>
<path d="M1195.44 730.3 V724.9 H1237.3 V730.3" stroke="#000" stroke-width="1.6" fill="none"/>
<path d="M1279.16 730.3 V724.9 H1321.02 V730.3" stroke="#000" stroke-width="1.6" fill="none"/>
<path d="M1216.37 724.9 V719.3 H1300.09 V724.9" stroke="#000" stroke-width="1.6" fill="none"/>
<text x="1258.23" y="715.6" font-size="20.5" text-anchor="middle">&lt;0.0001</text>
<line x1="1279.16" y1="755" x2="1321.02" y2="755" stroke="#000" stroke-width="1.6"/>
<text x="1300.09" y="752" font-size="20.5" text-anchor="middle">0.5525</text>
<line x1="1195.44" y1="801.4" x2="1237.3" y2="801.4" stroke="#000" stroke-width="1.6"/>
<text x="1216.37" y="798.4" font-size="20.5" text-anchor="middle">0.9993</text>
<rect x="98.5" y="1151.75" width="27" height="30.85" fill="#231f20" stroke="none" stroke-width="0"/>
<circle cx="104.5" cy="1152.21" r="1.8" fill="#fff" stroke="#231f20" stroke-width="0.85"/>
<circle cx="112" cy="1151.36" r="1.8" fill="#fff" stroke="#231f20" stroke-width="0.85"/>
<circle cx="119.5" cy="1151.83" r="1.8" fill="#fff" stroke="#231f20" stroke-width="0.85"/>
<rect x="140.35" y="1150.21" width="27" height="32.39" fill="#231f20" stroke="none" stroke-width="0"/>
<circle cx="146.35" cy="1150.67" r="1.8" fill="#fff" stroke="#231f20" stroke-width="0.85"/>
<circle cx="153.85" cy="1149.82" r="1.8" fill="#fff" stroke="#231f20" stroke-width="0.85"/>
<circle cx="161.35" cy="1150.28" r="1.8" fill="#fff" stroke="#231f20" stroke-width="0.85"/>
<rect x="182.2" y="1090.05" width="27" height="92.55" fill="#fff" stroke="#231f20" stroke-width="1.8"/>
<circle cx="188.2" cy="1090.51" r="1.8" fill="#fff" stroke="#231f20" stroke-width="0.85"/>
<circle cx="195.7" cy="1089.66" r="1.8" fill="#fff" stroke="#231f20" stroke-width="0.85"/>
<circle cx="203.2" cy="1090.13" r="1.8" fill="#fff" stroke="#231f20" stroke-width="0.85"/>
<rect x="224.05" y="1090.98" width="27" height="91.62" fill="#fff" stroke="#231f20" stroke-width="1.8"/>
<circle cx="230.05" cy="1091.44" r="1.8" fill="#fff" stroke="#231f20" stroke-width="0.85"/>
<circle cx="237.55" cy="1090.59" r="1.8" fill="#fff" stroke="#231f20" stroke-width="0.85"/>
<circle cx="245.05" cy="1091.05" r="1.8" fill="#fff" stroke="#231f20" stroke-width="0.85"/>
<rect x="265.9" y="1134.78" width="27" height="47.82" fill="#ec1c24" stroke="#231f20" stroke-width="1.8"/>
<circle cx="271.9" cy="1135.25" r="1.8" fill="#fff" stroke="#231f20" stroke-width="0.85"/>
<circle cx="279.4" cy="1134.4" r="1.8" fill="#fff" stroke="#231f20" stroke-width="0.85"/>
<circle cx="286.9" cy="1134.86" r="1.8" fill="#fff" stroke="#231f20" stroke-width="0.85"/>
<rect x="307.75" y="1136.94" width="27" height="45.66" fill="#ec1c24" stroke="#231f20" stroke-width="1.8"/>
<circle cx="313.75" cy="1137.4" r="1.8" fill="#fff" stroke="#231f20" stroke-width="0.85"/>
<circle cx="321.25" cy="1136.56" r="1.8" fill="#fff" stroke="#231f20" stroke-width="0.85"/>
<circle cx="328.75" cy="1137.02" r="1.8" fill="#fff" stroke="#231f20" stroke-width="0.85"/>
<rect x="349.6" y="1090.05" width="27" height="92.55" fill="#fff" stroke="#ec1c24" stroke-width="1.6"/>
<circle cx="355.6" cy="1090.51" r="1.8" fill="#fff" stroke="#231f20" stroke-width="0.85"/>
<circle cx="363.1" cy="1089.66" r="1.8" fill="#fff" stroke="#231f20" stroke-width="0.85"/>
<circle cx="370.6" cy="1090.13" r="1.8" fill="#fff" stroke="#231f20" stroke-width="0.85"/>
<rect x="391.45" y="1090.98" width="27" height="91.62" fill="#fff" stroke="#ec1c24" stroke-width="1.6"/>
<circle cx="397.45" cy="1091.44" r="1.8" fill="#fff" stroke="#231f20" stroke-width="0.85"/>
<circle cx="404.95" cy="1090.59" r="1.8" fill="#fff" stroke="#231f20" stroke-width="0.85"/>
<circle cx="412.45" cy="1091.05" r="1.8" fill="#fff" stroke="#231f20" stroke-width="0.85"/>
<line x1="80.5" y1="1182.6" x2="89.5" y2="1182.6" stroke="#000" stroke-width="2"/>
<text x="79" y="1189.6" font-size="24.8" text-anchor="end">0</text>
<line x1="80.5" y1="1151.75" x2="89.5" y2="1151.75" stroke="#000" stroke-width="2"/>
<text x="79" y="1158.75" font-size="24.8" text-anchor="end">1</text>
<line x1="80.5" y1="1120.9" x2="89.5" y2="1120.9" stroke="#000" stroke-width="2"/>
<text x="79" y="1127.9" font-size="24.8" text-anchor="end">2</text>
<line x1="80.5" y1="1090.05" x2="89.5" y2="1090.05" stroke="#000" stroke-width="2"/>
<text x="79" y="1097.05" font-size="24.8" text-anchor="end">3</text>
<line x1="80.5" y1="1059.2" x2="89.5" y2="1059.2" stroke="#000" stroke-width="2"/>
<text x="79" y="1066.2" font-size="24.8" text-anchor="end">4</text>
<line x1="80.5" y1="1028.35" x2="89.5" y2="1028.35" stroke="#000" stroke-width="2"/>
<text x="79" y="1035.35" font-size="24.8" text-anchor="end">5</text>
<line x1="80.5" y1="997.5" x2="89.5" y2="997.5" stroke="#000" stroke-width="2"/>
<text x="79" y="1004.5" font-size="24.8" text-anchor="end">6</text>
<line x1="89.5" y1="996.5" x2="89.5" y2="1183.6" stroke="#000" stroke-width="2"/>
<line x1="88.5" y1="1182.6" x2="424" y2="1182.6" stroke="#000" stroke-width="2.2"/>
<text transform="translate(30 1090.05) rotate(-90)" text-anchor="middle" font-size="25">Rel. pWIP/WIP</text>
<text transform="translate(53.7 1090.05) rotate(-90)" text-anchor="middle" font-size="25">level</text>
<text x="98.2" y="1211.5" font-size="25.15" text-anchor="end">MG-132:</text>
<text x="112" y="1211.8" font-size="25.15" text-anchor="middle">-</text>
<text x="153.85" y="1211.5" font-size="25.15" text-anchor="middle">+</text>
<text x="195.7" y="1211.8" font-size="25.15" text-anchor="middle">-</text>
<text x="237.55" y="1211.5" font-size="25.15" text-anchor="middle">+</text>
<text x="279.4" y="1211.8" font-size="25.15" text-anchor="middle">-</text>
<text x="321.25" y="1211.5" font-size="25.15" text-anchor="middle">+</text>
<text x="363.1" y="1211.8" font-size="25.15" text-anchor="middle">-</text>
<text x="404.95" y="1211.5" font-size="25.15" text-anchor="middle">+</text>
<text x="98.2" y="1234.6" font-size="25.15" text-anchor="end">I3A:</text>
<text x="112" y="1234.9" font-size="25.15" text-anchor="middle">-</text>
<text x="153.85" y="1234.9" font-size="25.15" text-anchor="middle">-</text>
<text x="195.7" y="1234.6" font-size="25.15" text-anchor="middle">+</text>
<text x="237.55" y="1234.6" font-size="25.15" text-anchor="middle">+</text>
<text x="279.4" y="1234.9" font-size="25.15" text-anchor="middle">-</text>
<text x="321.25" y="1234.9" font-size="25.15" text-anchor="middle">-</text>
<text x="363.1" y="1234.6" font-size="25.15" text-anchor="middle">+</text>
<text x="404.95" y="1234.6" font-size="25.15" text-anchor="middle">+</text>
<text x="98.2" y="1257.8" font-size="25.15" text-anchor="end">EHEC:</text>
<text x="112" y="1258.1" font-size="25.15" text-anchor="middle">-</text>
<text x="153.85" y="1258.1" font-size="25.15" text-anchor="middle">-</text>
<text x="195.7" y="1258.1" font-size="25.15" text-anchor="middle">-</text>
<text x="237.55" y="1258.1" font-size="25.15" text-anchor="middle">-</text>
<text x="279.4" y="1257.8" font-size="25.15" text-anchor="middle">+</text>
<text x="321.25" y="1257.8" font-size="25.15" text-anchor="middle">+</text>
<text x="363.1" y="1257.8" font-size="25.15" text-anchor="middle">+</text>
<text x="404.95" y="1257.8" font-size="25.15" text-anchor="middle">+</text>
<path d="M276.3 1052.5 V1046.4 H318.15 V1052.5" stroke="#000" stroke-width="1.6" fill="none"/>
<path d="M360 1052.5 V1046.4 H401.85 V1052.5" stroke="#000" stroke-width="1.6" fill="none"/>
<path d="M297.22 1046.4 V1040.3 H380.92 V1046.4" stroke="#000" stroke-width="1.6" fill="none"/>
<text x="339.07" y="1037.1" font-size="20.5" text-anchor="middle">&lt;0.0001</text>
<line x1="360" y1="1076.1" x2="401.85" y2="1076.1" stroke="#000" stroke-width="1.6"/>
<text x="380.92" y="1073.2" font-size="20.5" text-anchor="middle">0.7869</text>
<line x1="276.3" y1="1122.8" x2="318.15" y2="1122.8" stroke="#000" stroke-width="1.6"/>
<text x="297.22" y="1119.6" font-size="20.5" text-anchor="middle">0.3885</text>
<rect x="98.5" y="1465.51" width="27" height="29.99" fill="#231f20" stroke="none" stroke-width="0"/>
<circle cx="104.5" cy="1465.97" r="1.8" fill="#fff" stroke="#231f20" stroke-width="0.85"/>
<circle cx="112" cy="1465.12" r="1.8" fill="#fff" stroke="#231f20" stroke-width="0.85"/>
<circle cx="119.5" cy="1465.59" r="1.8" fill="#fff" stroke="#231f20" stroke-width="0.85"/>
<rect x="140.35" y="1464.58" width="27" height="30.92" fill="#231f20" stroke="none" stroke-width="0"/>
<circle cx="146.35" cy="1465.05" r="1.8" fill="#fff" stroke="#231f20" stroke-width="0.85"/>
<circle cx="153.85" cy="1464.2" r="1.8" fill="#fff" stroke="#231f20" stroke-width="0.85"/>
<circle cx="161.35" cy="1464.66" r="1.8" fill="#fff" stroke="#231f20" stroke-width="0.85"/>
<rect x="182.2" y="1404.3" width="27" height="91.2" fill="#fff" stroke="#231f20" stroke-width="1.8"/>
<circle cx="188.2" cy="1404.76" r="1.8" fill="#fff" stroke="#231f20" stroke-width="0.85"/>
<circle cx="195.7" cy="1403.91" r="1.8" fill="#fff" stroke="#231f20" stroke-width="0.85"/>
<circle cx="203.2" cy="1404.37" r="1.8" fill="#fff" stroke="#231f20" stroke-width="0.85"/>
<rect x="224.05" y="1405.22" width="27" height="90.28" fill="#fff" stroke="#231f20" stroke-width="1.8"/>
<circle cx="230.05" cy="1405.69" r="1.8" fill="#fff" stroke="#231f20" stroke-width="0.85"/>
<circle cx="237.55" cy="1404.84" r="1.8" fill="#fff" stroke="#231f20" stroke-width="0.85"/>
<circle cx="245.05" cy="1405.3" r="1.8" fill="#fff" stroke="#231f20" stroke-width="0.85"/>
<rect x="265.9" y="1449.12" width="27" height="46.38" fill="#ec1c24" stroke="#231f20" stroke-width="1.8"/>
<circle cx="271.9" cy="1449.59" r="1.8" fill="#fff" stroke="#231f20" stroke-width="0.85"/>
<circle cx="279.4" cy="1448.74" r="1.8" fill="#fff" stroke="#231f20" stroke-width="0.85"/>
<circle cx="286.9" cy="1449.2" r="1.8" fill="#fff" stroke="#231f20" stroke-width="0.85"/>
<rect x="307.75" y="1450.05" width="27" height="45.45" fill="#ec1c24" stroke="#231f20" stroke-width="1.8"/>
<circle cx="313.75" cy="1450.52" r="1.8" fill="#fff" stroke="#231f20" stroke-width="0.85"/>
<circle cx="321.25" cy="1449.67" r="1.8" fill="#fff" stroke="#231f20" stroke-width="0.85"/>
<circle cx="328.75" cy="1450.13" r="1.8" fill="#fff" stroke="#231f20" stroke-width="0.85"/>
<rect x="349.6" y="1403.68" width="27" height="91.82" fill="#fff" stroke="#ec1c24" stroke-width="1.6"/>
<circle cx="355.6" cy="1404.14" r="1.8" fill="#fff" stroke="#231f20" stroke-width="0.85"/>
<circle cx="363.1" cy="1403.29" r="1.8" fill="#fff" stroke="#231f20" stroke-width="0.85"/>
<circle cx="370.6" cy="1403.75" r="1.8" fill="#fff" stroke="#231f20" stroke-width="0.85"/>
<rect x="391.45" y="1405.22" width="27" height="90.28" fill="#fff" stroke="#ec1c24" stroke-width="1.6"/>
<circle cx="397.45" cy="1405.69" r="1.8" fill="#fff" stroke="#231f20" stroke-width="0.85"/>
<circle cx="404.95" cy="1404.84" r="1.8" fill="#fff" stroke="#231f20" stroke-width="0.85"/>
<circle cx="412.45" cy="1405.3" r="1.8" fill="#fff" stroke="#231f20" stroke-width="0.85"/>
<line x1="80.5" y1="1495.5" x2="89.5" y2="1495.5" stroke="#000" stroke-width="2"/>
<text x="79" y="1502.5" font-size="24.8" text-anchor="end">0</text>
<line x1="80.5" y1="1464.58" x2="89.5" y2="1464.58" stroke="#000" stroke-width="2"/>
<text x="79" y="1471.58" font-size="24.8" text-anchor="end">1</text>
<line x1="80.5" y1="1433.67" x2="89.5" y2="1433.67" stroke="#000" stroke-width="2"/>
<text x="79" y="1440.67" font-size="24.8" text-anchor="end">2</text>
<line x1="80.5" y1="1402.75" x2="89.5" y2="1402.75" stroke="#000" stroke-width="2"/>
<text x="79" y="1409.75" font-size="24.8" text-anchor="end">3</text>
<line x1="80.5" y1="1371.83" x2="89.5" y2="1371.83" stroke="#000" stroke-width="2"/>
<text x="79" y="1378.83" font-size="24.8" text-anchor="end">4</text>
<line x1="80.5" y1="1340.92" x2="89.5" y2="1340.92" stroke="#000" stroke-width="2"/>
<text x="79" y="1347.92" font-size="24.8" text-anchor="end">5</text>
<line x1="80.5" y1="1310" x2="89.5" y2="1310" stroke="#000" stroke-width="2"/>
<text x="79" y="1317" font-size="24.8" text-anchor="end">6</text>
<line x1="89.5" y1="1309" x2="89.5" y2="1496.5" stroke="#000" stroke-width="2"/>
<line x1="88.5" y1="1495.5" x2="424" y2="1495.5" stroke="#000" stroke-width="2.2"/>
<text transform="translate(30 1402.75) rotate(-90)" text-anchor="middle" font-size="25">Rel. pWIP/WIP</text>
<text transform="translate(53.7 1402.75) rotate(-90)" text-anchor="middle" font-size="25">level</text>
<text x="98.2" y="1523.8" font-size="25.15" text-anchor="end">MG-132:</text>
<text x="112" y="1524.1" font-size="25.15" text-anchor="middle">-</text>
<text x="153.85" y="1523.8" font-size="25.15" text-anchor="middle">+</text>
<text x="195.7" y="1524.1" font-size="25.15" text-anchor="middle">-</text>
<text x="237.55" y="1523.8" font-size="25.15" text-anchor="middle">+</text>
<text x="279.4" y="1524.1" font-size="25.15" text-anchor="middle">-</text>
<text x="321.25" y="1523.8" font-size="25.15" text-anchor="middle">+</text>
<text x="363.1" y="1524.1" font-size="25.15" text-anchor="middle">-</text>
<text x="404.95" y="1523.8" font-size="25.15" text-anchor="middle">+</text>
<text x="98.2" y="1546.8" font-size="25.15" text-anchor="end">IPyA:</text>
<text x="112" y="1547.1" font-size="25.15" text-anchor="middle">-</text>
<text x="153.85" y="1547.1" font-size="25.15" text-anchor="middle">-</text>
<text x="195.7" y="1546.8" font-size="25.15" text-anchor="middle">+</text>
<text x="237.55" y="1546.8" font-size="25.15" text-anchor="middle">+</text>
<text x="279.4" y="1547.1" font-size="25.15" text-anchor="middle">-</text>
<text x="321.25" y="1547.1" font-size="25.15" text-anchor="middle">-</text>
<text x="363.1" y="1546.8" font-size="25.15" text-anchor="middle">+</text>
<text x="404.95" y="1546.8" font-size="25.15" text-anchor="middle">+</text>
<text x="98.2" y="1569.9" font-size="25.15" text-anchor="end">EHEC:</text>
<text x="112" y="1570.2" font-size="25.15" text-anchor="middle">-</text>
<text x="153.85" y="1570.2" font-size="25.15" text-anchor="middle">-</text>
<text x="195.7" y="1570.2" font-size="25.15" text-anchor="middle">-</text>
<text x="237.55" y="1570.2" font-size="25.15" text-anchor="middle">-</text>
<text x="279.4" y="1569.9" font-size="25.15" text-anchor="middle">+</text>
<text x="321.25" y="1569.9" font-size="25.15" text-anchor="middle">+</text>
<text x="363.1" y="1569.9" font-size="25.15" text-anchor="middle">+</text>
<text x="404.95" y="1569.9" font-size="25.15" text-anchor="middle">+</text>
<path d="M276.3 1365.4 V1360 H318.15 V1365.4" stroke="#000" stroke-width="1.6" fill="none"/>
<path d="M360 1365.4 V1360 H401.85 V1365.4" stroke="#000" stroke-width="1.6" fill="none"/>
<path d="M297.22 1360 V1354.1 H380.92 V1360" stroke="#000" stroke-width="1.6" fill="none"/>
<text x="339.07" y="1350.9" font-size="20.5" text-anchor="middle">&lt;0.0001</text>
<line x1="360" y1="1389.4" x2="401.85" y2="1389.4" stroke="#000" stroke-width="1.6"/>
<text x="380.92" y="1386.5" font-size="20.5" text-anchor="middle">0.7760</text>
<line x1="276.3" y1="1436.1" x2="318.15" y2="1436.1" stroke="#000" stroke-width="1.6"/>
<text x="297.22" y="1432.9" font-size="20.5" text-anchor="middle">0.9724</text>
<rect x="98.5" y="1780.2" width="27" height="30.3" fill="#231f20" stroke="none" stroke-width="0"/>
<circle cx="104.5" cy="1780.67" r="1.8" fill="#fff" stroke="#231f20" stroke-width="0.85"/>
<circle cx="112" cy="1779.82" r="1.8" fill="#fff" stroke="#231f20" stroke-width="0.85"/>
<circle cx="119.5" cy="1780.28" r="1.8" fill="#fff" stroke="#231f20" stroke-width="0.85"/>
<rect x="140.35" y="1778.04" width="27" height="32.46" fill="#231f20" stroke="none" stroke-width="0"/>
<circle cx="146.35" cy="1778.5" r="1.8" fill="#fff" stroke="#231f20" stroke-width="0.85"/>
<circle cx="153.85" cy="1777.65" r="1.8" fill="#fff" stroke="#231f20" stroke-width="0.85"/>
<circle cx="161.35" cy="1778.11" r="1.8" fill="#fff" stroke="#231f20" stroke-width="0.85"/>
<rect x="182.2" y="1717.75" width="27" height="92.75" fill="#fff" stroke="#231f20" stroke-width="1.8"/>
<circle cx="188.2" cy="1718.21" r="1.8" fill="#fff" stroke="#231f20" stroke-width="0.85"/>
<circle cx="195.7" cy="1717.36" r="1.8" fill="#fff" stroke="#231f20" stroke-width="0.85"/>
<circle cx="203.2" cy="1717.83" r="1.8" fill="#fff" stroke="#231f20" stroke-width="0.85"/>
<rect x="224.05" y="1718.68" width="27" height="91.82" fill="#fff" stroke="#231f20" stroke-width="1.8"/>
<circle cx="230.05" cy="1719.14" r="1.8" fill="#fff" stroke="#231f20" stroke-width="0.85"/>
<circle cx="237.55" cy="1718.29" r="1.8" fill="#fff" stroke="#231f20" stroke-width="0.85"/>
<circle cx="245.05" cy="1718.75" r="1.8" fill="#fff" stroke="#231f20" stroke-width="0.85"/>
<rect x="265.9" y="1763.51" width="27" height="46.99" fill="#ec1c24" stroke="#231f20" stroke-width="1.8"/>
<circle cx="271.9" cy="1763.97" r="1.8" fill="#fff" stroke="#231f20" stroke-width="0.85"/>
<circle cx="279.4" cy="1763.12" r="1.8" fill="#fff" stroke="#231f20" stroke-width="0.85"/>
<circle cx="286.9" cy="1763.58" r="1.8" fill="#fff" stroke="#231f20" stroke-width="0.85"/>
<rect x="307.75" y="1764.12" width="27" height="46.38" fill="#ec1c24" stroke="#231f20" stroke-width="1.8"/>
<circle cx="313.75" cy="1764.59" r="1.8" fill="#fff" stroke="#231f20" stroke-width="0.85"/>
<circle cx="321.25" cy="1763.74" r="1.8" fill="#fff" stroke="#231f20" stroke-width="0.85"/>
<circle cx="328.75" cy="1764.2" r="1.8" fill="#fff" stroke="#231f20" stroke-width="0.85"/>
<rect x="349.6" y="1717.75" width="27" height="92.75" fill="#fff" stroke="#ec1c24" stroke-width="1.6"/>
<circle cx="355.6" cy="1718.21" r="1.8" fill="#fff" stroke="#231f20" stroke-width="0.85"/>
<circle cx="363.1" cy="1717.36" r="1.8" fill="#fff" stroke="#231f20" stroke-width="0.85"/>
<circle cx="370.6" cy="1717.83" r="1.8" fill="#fff" stroke="#231f20" stroke-width="0.85"/>
<rect x="391.45" y="1717.75" width="27" height="92.75" fill="#fff" stroke="#ec1c24" stroke-width="1.6"/>
<circle cx="397.45" cy="1718.21" r="1.8" fill="#fff" stroke="#231f20" stroke-width="0.85"/>
<circle cx="404.95" cy="1717.36" r="1.8" fill="#fff" stroke="#231f20" stroke-width="0.85"/>
<circle cx="412.45" cy="1717.83" r="1.8" fill="#fff" stroke="#231f20" stroke-width="0.85"/>
<line x1="80.5" y1="1810.5" x2="89.5" y2="1810.5" stroke="#000" stroke-width="2"/>
<text x="79" y="1817.5" font-size="24.8" text-anchor="end">0</text>
<line x1="80.5" y1="1779.58" x2="89.5" y2="1779.58" stroke="#000" stroke-width="2"/>
<text x="79" y="1786.58" font-size="24.8" text-anchor="end">1</text>
<line x1="80.5" y1="1748.67" x2="89.5" y2="1748.67" stroke="#000" stroke-width="2"/>
<text x="79" y="1755.67" font-size="24.8" text-anchor="end">2</text>
<line x1="80.5" y1="1717.75" x2="89.5" y2="1717.75" stroke="#000" stroke-width="2"/>
<text x="79" y="1724.75" font-size="24.8" text-anchor="end">3</text>
<line x1="80.5" y1="1686.83" x2="89.5" y2="1686.83" stroke="#000" stroke-width="2"/>
<text x="79" y="1693.83" font-size="24.8" text-anchor="end">4</text>
<line x1="80.5" y1="1655.92" x2="89.5" y2="1655.92" stroke="#000" stroke-width="2"/>
<text x="79" y="1662.92" font-size="24.8" text-anchor="end">5</text>
<line x1="80.5" y1="1625" x2="89.5" y2="1625" stroke="#000" stroke-width="2"/>
<text x="79" y="1632" font-size="24.8" text-anchor="end">6</text>
<line x1="89.5" y1="1624" x2="89.5" y2="1811.5" stroke="#000" stroke-width="2"/>
<line x1="88.5" y1="1810.5" x2="424" y2="1810.5" stroke="#000" stroke-width="2.2"/>
<text transform="translate(30 1717.75) rotate(-90)" text-anchor="middle" font-size="25">Rel. pWIP/WIP</text>
<text transform="translate(53.7 1717.75) rotate(-90)" text-anchor="middle" font-size="25">level</text>
<text x="98.2" y="1838.8" font-size="25.15" text-anchor="end">MG-132:</text>
<text x="112" y="1839.1" font-size="25.15" text-anchor="middle">-</text>
<text x="153.85" y="1838.8" font-size="25.15" text-anchor="middle">+</text>
<text x="195.7" y="1839.1" font-size="25.15" text-anchor="middle">-</text>
<text x="237.55" y="1838.8" font-size="25.15" text-anchor="middle">+</text>
<text x="279.4" y="1839.1" font-size="25.15" text-anchor="middle">-</text>
<text x="321.25" y="1838.8" font-size="25.15" text-anchor="middle">+</text>
<text x="363.1" y="1839.1" font-size="25.15" text-anchor="middle">-</text>
<text x="404.95" y="1838.8" font-size="25.15" text-anchor="middle">+</text>
<text x="98.2" y="1861.7" font-size="25.15" text-anchor="end">IEt:</text>
<text x="112" y="1862" font-size="25.15" text-anchor="middle">-</text>
<text x="153.85" y="1862" font-size="25.15" text-anchor="middle">-</text>
<text x="195.7" y="1861.7" font-size="25.15" text-anchor="middle">+</text>
<text x="237.55" y="1861.7" font-size="25.15" text-anchor="middle">+</text>
<text x="279.4" y="1862" font-size="25.15" text-anchor="middle">-</text>
<text x="321.25" y="1862" font-size="25.15" text-anchor="middle">-</text>
<text x="363.1" y="1861.7" font-size="25.15" text-anchor="middle">+</text>
<text x="404.95" y="1861.7" font-size="25.15" text-anchor="middle">+</text>
<text x="98.2" y="1885" font-size="25.15" text-anchor="end">EHEC:</text>
<text x="112" y="1885.3" font-size="25.15" text-anchor="middle">-</text>
<text x="153.85" y="1885.3" font-size="25.15" text-anchor="middle">-</text>
<text x="195.7" y="1885.3" font-size="25.15" text-anchor="middle">-</text>
<text x="237.55" y="1885.3" font-size="25.15" text-anchor="middle">-</text>
<text x="279.4" y="1885" font-size="25.15" text-anchor="middle">+</text>
<text x="321.25" y="1885" font-size="25.15" text-anchor="middle">+</text>
<text x="363.1" y="1885" font-size="25.15" text-anchor="middle">+</text>
<text x="404.95" y="1885" font-size="25.15" text-anchor="middle">+</text>
<path d="M276.3 1677.5 V1671.5 H318.15 V1677.5" stroke="#000" stroke-width="1.6" fill="none"/>
<path d="M360 1677.5 V1671.5 H401.85 V1677.5" stroke="#000" stroke-width="1.6" fill="none"/>
<path d="M297.22 1671.5 V1665.3 H380.92 V1671.5" stroke="#000" stroke-width="1.6" fill="none"/>
<text x="339.07" y="1662.1" font-size="20.5" text-anchor="middle">&lt;0.0001</text>
<line x1="360" y1="1701.4" x2="401.85" y2="1701.4" stroke="#000" stroke-width="1.6"/>
<text x="380.92" y="1698.5" font-size="20.5" text-anchor="middle">&gt;0.9999</text>
<line x1="276.3" y1="1748" x2="318.15" y2="1748" stroke="#000" stroke-width="1.6"/>
<text x="297.22" y="1744.8" font-size="20.5" text-anchor="middle">&gt;0.9999</text>
<rect x="1017" y="1151.87" width="26" height="30.83" fill="#231f20" stroke="none" stroke-width="0"/>
<circle cx="1022.5" cy="1152.33" r="1.8" fill="#fff" stroke="#231f20" stroke-width="0.85"/>
<circle cx="1030" cy="1151.48" r="1.8" fill="#fff" stroke="#231f20" stroke-width="0.85"/>
<circle cx="1037.5" cy="1151.94" r="1.8" fill="#fff" stroke="#231f20" stroke-width="0.85"/>
<rect x="1058.86" y="1141.08" width="26" height="41.62" fill="#231f20" stroke="none" stroke-width="0"/>
<circle cx="1064.36" cy="1141.54" r="1.8" fill="#fff" stroke="#231f20" stroke-width="0.85"/>
<circle cx="1071.86" cy="1140.69" r="1.8" fill="#fff" stroke="#231f20" stroke-width="0.85"/>
<circle cx="1079.36" cy="1141.15" r="1.8" fill="#fff" stroke="#231f20" stroke-width="0.85"/>
<rect x="1100.72" y="1161.73" width="26" height="20.97" fill="#fff" stroke="#231f20" stroke-width="1.8"/>
<circle cx="1106.22" cy="1162.2" r="1.8" fill="#fff" stroke="#231f20" stroke-width="0.85"/>
<circle cx="1113.72" cy="1161.35" r="1.8" fill="#fff" stroke="#231f20" stroke-width="0.85"/>
<circle cx="1121.22" cy="1161.81" r="1.8" fill="#fff" stroke="#231f20" stroke-width="0.85"/>
<rect x="1142.58" y="1136.45" width="26" height="46.25" fill="#fff" stroke="#231f20" stroke-width="1.8"/>
<circle cx="1148.08" cy="1136.91" r="1.8" fill="#fff" stroke="#231f20" stroke-width="0.85"/>
<circle cx="1155.58" cy="1136.06" r="1.8" fill="#fff" stroke="#231f20" stroke-width="0.85"/>
<circle cx="1163.08" cy="1136.53" r="1.8" fill="#fff" stroke="#231f20" stroke-width="0.85"/>
<rect x="1184.44" y="1133.98" width="26" height="48.72" fill="#ec1c24" stroke="#231f20" stroke-width="1.8"/>
<line x1="1197.44" y1="1133.98" x2="1197.44" y2="1130.9" stroke="#231f20" stroke-width="1.5"/>
<line x1="1185.22" y1="1130.9" x2="1209.66" y2="1130.9" stroke="#231f20" stroke-width="2"/>
<circle cx="1189.94" cy="1135.83" r="1.8" fill="#fff" stroke="#231f20" stroke-width="0.85"/>
<circle cx="1197.44" cy="1132.44" r="1.8" fill="#fff" stroke="#231f20" stroke-width="0.85"/>
<circle cx="1204.94" cy="1134.29" r="1.8" fill="#fff" stroke="#231f20" stroke-width="0.85"/>
<rect x="1226.3" y="1109.32" width="26" height="73.38" fill="#ec1c24" stroke="#231f20" stroke-width="1.8"/>
<line x1="1239.3" y1="1109.32" x2="1239.3" y2="1105.62" stroke="#231f20" stroke-width="1.5"/>
<line x1="1227.08" y1="1105.62" x2="1251.52" y2="1105.62" stroke="#231f20" stroke-width="2"/>
<circle cx="1231.8" cy="1111.54" r="1.8" fill="#fff" stroke="#231f20" stroke-width="0.85"/>
<circle cx="1239.3" cy="1107.47" r="1.8" fill="#fff" stroke="#231f20" stroke-width="0.85"/>
<circle cx="1246.8" cy="1109.69" r="1.8" fill="#fff" stroke="#231f20" stroke-width="0.85"/>
<rect x="1268.16" y="1151.87" width="26" height="30.83" fill="#fff" stroke="#ec1c24" stroke-width="1.6"/>
<line x1="1281.16" y1="1151.87" x2="1281.16" y2="1149.4" stroke="#231f20" stroke-width="1.5"/>
<line x1="1268.94" y1="1149.4" x2="1293.38" y2="1149.4" stroke="#231f20" stroke-width="2"/>
<circle cx="1273.66" cy="1153.35" r="1.8" fill="#fff" stroke="#231f20" stroke-width="0.85"/>
<circle cx="1281.16" cy="1150.63" r="1.8" fill="#fff" stroke="#231f20" stroke-width="0.85"/>
<circle cx="1288.66" cy="1152.11" r="1.8" fill="#fff" stroke="#231f20" stroke-width="0.85"/>
<rect x="1310.02" y="1116.41" width="26" height="66.29" fill="#fff" stroke="#ec1c24" stroke-width="1.6"/>
<circle cx="1315.52" cy="1116.87" r="1.8" fill="#fff" stroke="#231f20" stroke-width="0.85"/>
<circle cx="1323.02" cy="1116.02" r="1.8" fill="#fff" stroke="#231f20" stroke-width="0.85"/>
<circle cx="1330.52" cy="1116.49" r="1.8" fill="#fff" stroke="#231f20" stroke-width="0.85"/>
<line x1="999" y1="1182.7" x2="1009" y2="1182.7" stroke="#000" stroke-width="2"/>
<text x="997.5" y="1189.7" font-size="24.8" text-anchor="end">0</text>
<line x1="999" y1="1151.87" x2="1009" y2="1151.87" stroke="#000" stroke-width="2"/>
<text x="997.5" y="1158.87" font-size="24.8" text-anchor="end">1</text>
<line x1="999" y1="1121.03" x2="1009" y2="1121.03" stroke="#000" stroke-width="2"/>
<text x="997.5" y="1128.03" font-size="24.8" text-anchor="end">2</text>
<line x1="999" y1="1090.2" x2="1009" y2="1090.2" stroke="#000" stroke-width="2"/>
<text x="997.5" y="1097.2" font-size="24.8" text-anchor="end">3</text>
<line x1="999" y1="1059.37" x2="1009" y2="1059.37" stroke="#000" stroke-width="2"/>
<text x="997.5" y="1066.37" font-size="24.8" text-anchor="end">4</text>
<line x1="999" y1="1028.53" x2="1009" y2="1028.53" stroke="#000" stroke-width="2"/>
<text x="997.5" y="1035.53" font-size="24.8" text-anchor="end">5</text>
<line x1="999" y1="997.7" x2="1009" y2="997.7" stroke="#000" stroke-width="2"/>
<text x="997.5" y="1004.7" font-size="24.8" text-anchor="end">6</text>
<line x1="1009" y1="996.7" x2="1009" y2="1183.7" stroke="#000" stroke-width="2"/>
<line x1="1008" y1="1182.7" x2="1341" y2="1182.7" stroke="#000" stroke-width="2.2"/>
<text transform="translate(947.2 1090.2) rotate(-90)" text-anchor="middle" font-size="25">Rel. N-WASP</text>
<text transform="translate(968.9 1090.2) rotate(-90)" text-anchor="middle" font-size="25">level</text>
<text x="1016" y="1211.5" font-size="25.15" text-anchor="end">MG-132:</text>
<text x="1030" y="1211.8" font-size="25.15" text-anchor="middle">-</text>
<text x="1071.86" y="1211.5" font-size="25.15" text-anchor="middle">+</text>
<text x="1113.72" y="1211.8" font-size="25.15" text-anchor="middle">-</text>
<text x="1155.58" y="1211.5" font-size="25.15" text-anchor="middle">+</text>
<text x="1197.44" y="1211.8" font-size="25.15" text-anchor="middle">-</text>
<text x="1239.3" y="1211.5" font-size="25.15" text-anchor="middle">+</text>
<text x="1281.16" y="1211.8" font-size="25.15" text-anchor="middle">-</text>
<text x="1323.02" y="1211.5" font-size="25.15" text-anchor="middle">+</text>
<text x="1016" y="1234.6" font-size="25.15" text-anchor="end">I3A:</text>
<text x="1030" y="1234.9" font-size="25.15" text-anchor="middle">-</text>
<text x="1071.86" y="1234.9" font-size="25.15" text-anchor="middle">-</text>
<text x="1113.72" y="1234.6" font-size="25.15" text-anchor="middle">+</text>
<text x="1155.58" y="1234.6" font-size="25.15" text-anchor="middle">+</text>
<text x="1197.44" y="1234.9" font-size="25.15" text-anchor="middle">-</text>
<text x="1239.3" y="1234.9" font-size="25.15" text-anchor="middle">-</text>
<text x="1281.16" y="1234.6" font-size="25.15" text-anchor="middle">+</text>
<text x="1323.02" y="1234.6" font-size="25.15" text-anchor="middle">+</text>
<text x="1016" y="1257.8" font-size="25.15" text-anchor="end">EHEC:</text>
<text x="1030" y="1258.1" font-size="25.15" text-anchor="middle">-</text>
<text x="1071.86" y="1258.1" font-size="25.15" text-anchor="middle">-</text>
<text x="1113.72" y="1258.1" font-size="25.15" text-anchor="middle">-</text>
<text x="1155.58" y="1258.1" font-size="25.15" text-anchor="middle">-</text>
<text x="1197.44" y="1257.8" font-size="25.15" text-anchor="middle">+</text>
<text x="1239.3" y="1257.8" font-size="25.15" text-anchor="middle">+</text>
<text x="1281.16" y="1257.8" font-size="25.15" text-anchor="middle">+</text>
<text x="1323.02" y="1257.8" font-size="25.15" text-anchor="middle">+</text>
<rect x="1017" y="1463.87" width="26" height="30.83" fill="#231f20" stroke="none" stroke-width="0"/>
<circle cx="1022.5" cy="1464.33" r="1.8" fill="#fff" stroke="#231f20" stroke-width="0.85"/>
<circle cx="1030" cy="1463.48" r="1.8" fill="#fff" stroke="#231f20" stroke-width="0.85"/>
<circle cx="1037.5" cy="1463.94" r="1.8" fill="#fff" stroke="#231f20" stroke-width="0.85"/>
<rect x="1058.86" y="1453.69" width="26" height="41.01" fill="#231f20" stroke="none" stroke-width="0"/>
<line x1="1071.86" y1="1453.69" x2="1071.86" y2="1452.15" stroke="#231f20" stroke-width="1.5"/>
<line x1="1059.64" y1="1452.15" x2="1084.08" y2="1452.15" stroke="#231f20" stroke-width="2"/>
<circle cx="1064.36" cy="1454.62" r="1.8" fill="#fff" stroke="#231f20" stroke-width="0.85"/>
<circle cx="1071.86" cy="1452.92" r="1.8" fill="#fff" stroke="#231f20" stroke-width="0.85"/>
<circle cx="1079.36" cy="1453.85" r="1.8" fill="#fff" stroke="#231f20" stroke-width="0.85"/>
<rect x="1100.72" y="1474.04" width="26" height="20.66" fill="#fff" stroke="#231f20" stroke-width="1.8"/>
<circle cx="1106.22" cy="1474.5" r="1.8" fill="#fff" stroke="#231f20" stroke-width="0.85"/>
<circle cx="1113.72" cy="1473.66" r="1.8" fill="#fff" stroke="#231f20" stroke-width="0.85"/>
<circle cx="1121.22" cy="1474.12" r="1.8" fill="#fff" stroke="#231f20" stroke-width="0.85"/>
<rect x="1142.58" y="1449.38" width="26" height="45.33" fill="#fff" stroke="#231f20" stroke-width="1.8"/>
<circle cx="1148.08" cy="1449.84" r="1.8" fill="#fff" stroke="#231f20" stroke-width="0.85"/>
<circle cx="1155.58" cy="1448.99" r="1.8" fill="#fff" stroke="#231f20" stroke-width="0.85"/>
<circle cx="1163.08" cy="1449.45" r="1.8" fill="#fff" stroke="#231f20" stroke-width="0.85"/>
<rect x="1184.44" y="1442.9" width="26" height="51.8" fill="#ec1c24" stroke="#231f20" stroke-width="1.8"/>
<line x1="1197.44" y1="1442.9" x2="1197.44" y2="1441.67" stroke="#231f20" stroke-width="1.5"/>
<line x1="1185.22" y1="1441.67" x2="1209.66" y2="1441.67" stroke="#231f20" stroke-width="2"/>
<circle cx="1189.94" cy="1443.64" r="1.8" fill="#fff" stroke="#231f20" stroke-width="0.85"/>
<circle cx="1197.44" cy="1442.28" r="1.8" fill="#fff" stroke="#231f20" stroke-width="0.85"/>
<circle cx="1204.94" cy="1443.02" r="1.8" fill="#fff" stroke="#231f20" stroke-width="0.85"/>
<rect x="1226.3" y="1418.23" width="26" height="76.47" fill="#ec1c24" stroke="#231f20" stroke-width="1.8"/>
<line x1="1239.3" y1="1418.23" x2="1239.3" y2="1415.77" stroke="#231f20" stroke-width="1.5"/>
<line x1="1227.08" y1="1415.77" x2="1251.52" y2="1415.77" stroke="#231f20" stroke-width="2"/>
<circle cx="1231.8" cy="1419.71" r="1.8" fill="#fff" stroke="#231f20" stroke-width="0.85"/>
<circle cx="1239.3" cy="1417" r="1.8" fill="#fff" stroke="#231f20" stroke-width="0.85"/>
<circle cx="1246.8" cy="1418.48" r="1.8" fill="#fff" stroke="#231f20" stroke-width="0.85"/>
<rect x="1268.16" y="1461.4" width="26" height="33.3" fill="#fff" stroke="#ec1c24" stroke-width="1.6"/>
<circle cx="1273.66" cy="1461.86" r="1.8" fill="#fff" stroke="#231f20" stroke-width="0.85"/>
<circle cx="1281.16" cy="1461.01" r="1.8" fill="#fff" stroke="#231f20" stroke-width="0.85"/>
<circle cx="1288.66" cy="1461.48" r="1.8" fill="#fff" stroke="#231f20" stroke-width="0.85"/>
<rect x="1310.02" y="1428.41" width="26" height="66.29" fill="#fff" stroke="#ec1c24" stroke-width="1.6"/>
<line x1="1323.02" y1="1428.41" x2="1323.02" y2="1426.87" stroke="#231f20" stroke-width="1.5"/>
<line x1="1310.8" y1="1426.87" x2="1335.24" y2="1426.87" stroke="#231f20" stroke-width="2"/>
<circle cx="1315.52" cy="1429.33" r="1.8" fill="#fff" stroke="#231f20" stroke-width="0.85"/>
<circle cx="1323.02" cy="1427.64" r="1.8" fill="#fff" stroke="#231f20" stroke-width="0.85"/>
<circle cx="1330.52" cy="1428.56" r="1.8" fill="#fff" stroke="#231f20" stroke-width="0.85"/>
<line x1="999" y1="1494.7" x2="1009" y2="1494.7" stroke="#000" stroke-width="2"/>
<text x="997.5" y="1501.7" font-size="24.8" text-anchor="end">0</text>
<line x1="999" y1="1463.87" x2="1009" y2="1463.87" stroke="#000" stroke-width="2"/>
<text x="997.5" y="1470.87" font-size="24.8" text-anchor="end">1</text>
<line x1="999" y1="1433.03" x2="1009" y2="1433.03" stroke="#000" stroke-width="2"/>
<text x="997.5" y="1440.03" font-size="24.8" text-anchor="end">2</text>
<line x1="999" y1="1402.2" x2="1009" y2="1402.2" stroke="#000" stroke-width="2"/>
<text x="997.5" y="1409.2" font-size="24.8" text-anchor="end">3</text>
<line x1="999" y1="1371.37" x2="1009" y2="1371.37" stroke="#000" stroke-width="2"/>
<text x="997.5" y="1378.37" font-size="24.8" text-anchor="end">4</text>
<line x1="999" y1="1340.53" x2="1009" y2="1340.53" stroke="#000" stroke-width="2"/>
<text x="997.5" y="1347.53" font-size="24.8" text-anchor="end">5</text>
<line x1="999" y1="1309.7" x2="1009" y2="1309.7" stroke="#000" stroke-width="2"/>
<text x="997.5" y="1316.7" font-size="24.8" text-anchor="end">6</text>
<line x1="1009" y1="1308.7" x2="1009" y2="1495.7" stroke="#000" stroke-width="2"/>
<line x1="1008" y1="1494.7" x2="1341" y2="1494.7" stroke="#000" stroke-width="2.2"/>
<text transform="translate(947.2 1402.2) rotate(-90)" text-anchor="middle" font-size="25">Rel. N-WASP</text>
<text transform="translate(968.9 1402.2) rotate(-90)" text-anchor="middle" font-size="25">level</text>
<text x="1016" y="1523.8" font-size="25.15" text-anchor="end">MG-132:</text>
<text x="1030" y="1524.1" font-size="25.15" text-anchor="middle">-</text>
<text x="1071.86" y="1523.8" font-size="25.15" text-anchor="middle">+</text>
<text x="1113.72" y="1524.1" font-size="25.15" text-anchor="middle">-</text>
<text x="1155.58" y="1523.8" font-size="25.15" text-anchor="middle">+</text>
<text x="1197.44" y="1524.1" font-size="25.15" text-anchor="middle">-</text>
<text x="1239.3" y="1523.8" font-size="25.15" text-anchor="middle">+</text>
<text x="1281.16" y="1524.1" font-size="25.15" text-anchor="middle">-</text>
<text x="1323.02" y="1523.8" font-size="25.15" text-anchor="middle">+</text>
<text x="1016" y="1546.8" font-size="25.15" text-anchor="end">IPyA:</text>
<text x="1030" y="1547.1" font-size="25.15" text-anchor="middle">-</text>
<text x="1071.86" y="1547.1" font-size="25.15" text-anchor="middle">-</text>
<text x="1113.72" y="1546.8" font-size="25.15" text-anchor="middle">+</text>
<text x="1155.58" y="1546.8" font-size="25.15" text-anchor="middle">+</text>
<text x="1197.44" y="1547.1" font-size="25.15" text-anchor="middle">-</text>
<text x="1239.3" y="1547.1" font-size="25.15" text-anchor="middle">-</text>
<text x="1281.16" y="1546.8" font-size="25.15" text-anchor="middle">+</text>
<text x="1323.02" y="1546.8" font-size="25.15" text-anchor="middle">+</text>
<text x="1016" y="1569.9" font-size="25.15" text-anchor="end">EHEC:</text>
<text x="1030" y="1570.2" font-size="25.15" text-anchor="middle">-</text>
<text x="1071.86" y="1570.2" font-size="25.15" text-anchor="middle">-</text>
<text x="1113.72" y="1570.2" font-size="25.15" text-anchor="middle">-</text>
<text x="1155.58" y="1570.2" font-size="25.15" text-anchor="middle">-</text>
<text x="1197.44" y="1569.9" font-size="25.15" text-anchor="middle">+</text>
<text x="1239.3" y="1569.9" font-size="25.15" text-anchor="middle">+</text>
<text x="1281.16" y="1569.9" font-size="25.15" text-anchor="middle">+</text>
<text x="1323.02" y="1569.9" font-size="25.15" text-anchor="middle">+</text>
<rect x="1017" y="1778.4" width="26" height="30.6" fill="#231f20" stroke="none" stroke-width="0"/>
<circle cx="1022.5" cy="1778.86" r="1.8" fill="#fff" stroke="#231f20" stroke-width="0.85"/>
<circle cx="1030" cy="1778.02" r="1.8" fill="#fff" stroke="#231f20" stroke-width="0.85"/>
<circle cx="1037.5" cy="1778.48" r="1.8" fill="#fff" stroke="#231f20" stroke-width="0.85"/>
<rect x="1058.86" y="1769.22" width="26" height="39.78" fill="#231f20" stroke="none" stroke-width="0"/>
<line x1="1071.86" y1="1769.22" x2="1071.86" y2="1767.69" stroke="#231f20" stroke-width="1.5"/>
<line x1="1059.64" y1="1767.69" x2="1084.08" y2="1767.69" stroke="#231f20" stroke-width="2"/>
<circle cx="1064.36" cy="1770.14" r="1.8" fill="#fff" stroke="#231f20" stroke-width="0.85"/>
<circle cx="1071.86" cy="1768.45" r="1.8" fill="#fff" stroke="#231f20" stroke-width="0.85"/>
<circle cx="1079.36" cy="1769.37" r="1.8" fill="#fff" stroke="#231f20" stroke-width="0.85"/>
<rect x="1100.72" y="1788.19" width="26" height="20.81" fill="#fff" stroke="#231f20" stroke-width="1.8"/>
<circle cx="1106.22" cy="1788.65" r="1.8" fill="#fff" stroke="#231f20" stroke-width="0.85"/>
<circle cx="1113.72" cy="1787.81" r="1.8" fill="#fff" stroke="#231f20" stroke-width="0.85"/>
<circle cx="1121.22" cy="1788.27" r="1.8" fill="#fff" stroke="#231f20" stroke-width="0.85"/>
<rect x="1142.58" y="1763.1" width="26" height="45.9" fill="#fff" stroke="#231f20" stroke-width="1.8"/>
<circle cx="1148.08" cy="1763.56" r="1.8" fill="#fff" stroke="#231f20" stroke-width="0.85"/>
<circle cx="1155.58" cy="1762.72" r="1.8" fill="#fff" stroke="#231f20" stroke-width="0.85"/>
<circle cx="1163.08" cy="1763.18" r="1.8" fill="#fff" stroke="#231f20" stroke-width="0.85"/>
<rect x="1184.44" y="1756.98" width="26" height="52.02" fill="#ec1c24" stroke="#231f20" stroke-width="1.8"/>
<line x1="1197.44" y1="1756.98" x2="1197.44" y2="1755.45" stroke="#231f20" stroke-width="1.5"/>
<line x1="1185.22" y1="1755.45" x2="1209.66" y2="1755.45" stroke="#231f20" stroke-width="2"/>
<circle cx="1189.94" cy="1757.9" r="1.8" fill="#fff" stroke="#231f20" stroke-width="0.85"/>
<circle cx="1197.44" cy="1756.22" r="1.8" fill="#fff" stroke="#231f20" stroke-width="0.85"/>
<circle cx="1204.94" cy="1757.13" r="1.8" fill="#fff" stroke="#231f20" stroke-width="0.85"/>
<rect x="1226.3" y="1732.5" width="26" height="76.5" fill="#ec1c24" stroke="#231f20" stroke-width="1.8"/>
<line x1="1239.3" y1="1732.5" x2="1239.3" y2="1729.44" stroke="#231f20" stroke-width="1.5"/>
<line x1="1227.08" y1="1729.44" x2="1251.52" y2="1729.44" stroke="#231f20" stroke-width="2"/>
<circle cx="1231.8" cy="1734.34" r="1.8" fill="#fff" stroke="#231f20" stroke-width="0.85"/>
<circle cx="1239.3" cy="1730.97" r="1.8" fill="#fff" stroke="#231f20" stroke-width="0.85"/>
<circle cx="1246.8" cy="1732.81" r="1.8" fill="#fff" stroke="#231f20" stroke-width="0.85"/>
<rect x="1268.16" y="1775.34" width="26" height="33.66" fill="#fff" stroke="#ec1c24" stroke-width="1.6"/>
<line x1="1281.16" y1="1775.34" x2="1281.16" y2="1774.42" stroke="#231f20" stroke-width="1.5"/>
<line x1="1268.94" y1="1774.42" x2="1293.38" y2="1774.42" stroke="#231f20" stroke-width="2"/>
<circle cx="1273.66" cy="1775.89" r="1.8" fill="#fff" stroke="#231f20" stroke-width="0.85"/>
<circle cx="1281.16" cy="1774.88" r="1.8" fill="#fff" stroke="#231f20" stroke-width="0.85"/>
<circle cx="1288.66" cy="1775.43" r="1.8" fill="#fff" stroke="#231f20" stroke-width="0.85"/>
<rect x="1310.02" y="1742.6" width="26" height="66.4" fill="#fff" stroke="#ec1c24" stroke-width="1.6"/>
<line x1="1323.02" y1="1742.6" x2="1323.02" y2="1740.46" stroke="#231f20" stroke-width="1.5"/>
<line x1="1310.8" y1="1740.46" x2="1335.24" y2="1740.46" stroke="#231f20" stroke-width="2"/>
<circle cx="1315.52" cy="1743.88" r="1.8" fill="#fff" stroke="#231f20" stroke-width="0.85"/>
<circle cx="1323.02" cy="1741.53" r="1.8" fill="#fff" stroke="#231f20" stroke-width="0.85"/>
<circle cx="1330.52" cy="1742.81" r="1.8" fill="#fff" stroke="#231f20" stroke-width="0.85"/>
<line x1="999" y1="1809" x2="1009" y2="1809" stroke="#000" stroke-width="2"/>
<text x="997.5" y="1816" font-size="24.8" text-anchor="end">0</text>
<line x1="999" y1="1778.4" x2="1009" y2="1778.4" stroke="#000" stroke-width="2"/>
<text x="997.5" y="1785.4" font-size="24.8" text-anchor="end">1</text>
<line x1="999" y1="1747.8" x2="1009" y2="1747.8" stroke="#000" stroke-width="2"/>
<text x="997.5" y="1754.8" font-size="24.8" text-anchor="end">2</text>
<line x1="999" y1="1717.2" x2="1009" y2="1717.2" stroke="#000" stroke-width="2"/>
<text x="997.5" y="1724.2" font-size="24.8" text-anchor="end">3</text>
<line x1="999" y1="1686.6" x2="1009" y2="1686.6" stroke="#000" stroke-width="2"/>
<text x="997.5" y="1693.6" font-size="24.8" text-anchor="end">4</text>
<line x1="999" y1="1656" x2="1009" y2="1656" stroke="#000" stroke-width="2"/>
<text x="997.5" y="1663" font-size="24.8" text-anchor="end">5</text>
<line x1="999" y1="1625.4" x2="1009" y2="1625.4" stroke="#000" stroke-width="2"/>
<text x="997.5" y="1632.4" font-size="24.8" text-anchor="end">6</text>
<line x1="1009" y1="1624.4" x2="1009" y2="1810" stroke="#000" stroke-width="2"/>
<line x1="1008" y1="1809" x2="1341" y2="1809" stroke="#000" stroke-width="2.2"/>
<text transform="translate(947.2 1717.2) rotate(-90)" text-anchor="middle" font-size="25">Rel. N-WASP</text>
<text transform="translate(968.9 1717.2) rotate(-90)" text-anchor="middle" font-size="25">level</text>
<text x="1016" y="1838.8" font-size="25.15" text-anchor="end">MG-132:</text>
<text x="1030" y="1839.1" font-size="25.15" text-anchor="middle">-</text>
<text x="1071.86" y="1838.8" font-size="25.15" text-anchor="middle">+</text>
<text x="1113.72" y="1839.1" font-size="25.15" text-anchor="middle">-</text>
<text x="1155.58" y="1838.8" font-size="25.15" text-anchor="middle">+</text>
<text x="1197.44" y="1839.1" font-size="25.15" text-anchor="middle">-</text>
<text x="1239.3" y="1838.8" font-size="25.15" text-anchor="middle">+</text>
<text x="1281.16" y="1839.1" font-size="25.15" text-anchor="middle">-</text>
<text x="1323.02" y="1838.8" font-size="25.15" text-anchor="middle">+</text>
<text x="1016" y="1861.7" font-size="25.15" text-anchor="end">IEt:</text>
<text x="1030" y="1862" font-size="25.15" text-anchor="middle">-</text>
<text x="1071.86" y="1862" font-size="25.15" text-anchor="middle">-</text>
<text x="1113.72" y="1861.7" font-size="25.15" text-anchor="middle">+</text>
<text x="1155.58" y="1861.7" font-size="25.15" text-anchor="middle">+</text>
<text x="1197.44" y="1862" font-size="25.15" text-anchor="middle">-</text>
<text x="1239.3" y="1862" font-size="25.15" text-anchor="middle">-</text>
<text x="1281.16" y="1861.7" font-size="25.15" text-anchor="middle">+</text>
<text x="1323.02" y="1861.7" font-size="25.15" text-anchor="middle">+</text>
<text x="1016" y="1885" font-size="25.15" text-anchor="end">EHEC:</text>
<text x="1030" y="1885.3" font-size="25.15" text-anchor="middle">-</text>
<text x="1071.86" y="1885.3" font-size="25.15" text-anchor="middle">-</text>
<text x="1113.72" y="1885.3" font-size="25.15" text-anchor="middle">-</text>
<text x="1155.58" y="1885.3" font-size="25.15" text-anchor="middle">-</text>
<text x="1197.44" y="1885" font-size="25.15" text-anchor="middle">+</text>
<text x="1239.3" y="1885" font-size="25.15" text-anchor="middle">+</text>
<text x="1281.16" y="1885" font-size="25.15" text-anchor="middle">+</text>
<text x="1323.02" y="1885" font-size="25.15" text-anchor="middle">+</text>
<path d="M1197.44 1066 V1060.5 H1239.3 V1066" stroke="#000" stroke-width="1.6" fill="none"/>
<path d="M1281.16 1066 V1060.5 H1323.02 V1066" stroke="#000" stroke-width="1.6" fill="none"/>
<path d="M1218.37 1060.5 V1054.6 H1302.09 V1060.5" stroke="#000" stroke-width="1.6" fill="none"/>
<text x="1260.23" y="1051" font-size="20.5" text-anchor="middle">&lt;0.0001</text>
<line x1="1197.44" y1="1091" x2="1239.3" y2="1091" stroke="#000" stroke-width="1.6"/>
<text x="1218.37" y="1088" font-size="20.5" text-anchor="middle">&lt;0.0001</text>
<line x1="1281.16" y1="1103" x2="1323.02" y2="1103" stroke="#000" stroke-width="1.6"/>
<text x="1302.09" y="1100" font-size="20.5" text-anchor="middle">&lt;0.0001</text>
<line x1="1030" y1="1125.5" x2="1071.86" y2="1125.5" stroke="#000" stroke-width="1.6"/>
<text x="1050.93" y="1122.5" font-size="20.5" text-anchor="middle">0.0003</text>
<line x1="1113.72" y1="1125.5" x2="1155.58" y2="1125.5" stroke="#000" stroke-width="1.6"/>
<text x="1134.65" y="1122.5" font-size="20.5" text-anchor="middle">&lt;0.0001</text>
<path d="M1197.44 1377.9 V1372.2 H1239.3 V1377.9" stroke="#000" stroke-width="1.6" fill="none"/>
<path d="M1281.16 1377.9 V1372.2 H1323.02 V1377.9" stroke="#000" stroke-width="1.6" fill="none"/>
<path d="M1218.37 1372.2 V1367.1 H1302.09 V1372.2" stroke="#000" stroke-width="1.6" fill="none"/>
<text x="1260.23" y="1363.5" font-size="20.5" text-anchor="middle">&lt;0.0001</text>
<line x1="1197.44" y1="1403.4" x2="1239.3" y2="1403.4" stroke="#000" stroke-width="1.6"/>
<text x="1218.37" y="1400.3" font-size="20.5" text-anchor="middle">&lt;0.0001</text>
<line x1="1281.16" y1="1415" x2="1323.02" y2="1415" stroke="#000" stroke-width="1.6"/>
<text x="1302.09" y="1412" font-size="20.5" text-anchor="middle">&lt;0.0001</text>
<line x1="1030" y1="1437" x2="1071.86" y2="1437" stroke="#000" stroke-width="1.6"/>
<text x="1050.93" y="1434" font-size="20.5" text-anchor="middle">0.0003</text>
<line x1="1113.72" y1="1437" x2="1155.58" y2="1437" stroke="#000" stroke-width="1.6"/>
<text x="1134.65" y="1434" font-size="20.5" text-anchor="middle">&lt;0.0001</text>
<line x1="1197.44" y1="1625.4" x2="1323.02" y2="1625.4" stroke="#000" stroke-width="1.6"/>
<text x="1260.23" y="1622" font-size="20.5" text-anchor="middle">&lt;0.0001</text>
<path d="M1197.44 1664.4 V1658.6 H1239.3 V1664.4" stroke="#000" stroke-width="1.6" fill="none"/>
<path d="M1218.37 1658.6 V1653.5 H1281.16 V1664.4" stroke="#000" stroke-width="1.6" fill="none"/>
<text x="1249.76" y="1650" font-size="20.5" text-anchor="middle">&lt;0.0001</text>
<line x1="1239.3" y1="1691" x2="1323.02" y2="1691" stroke="#000" stroke-width="1.6"/>
<text x="1281.16" y="1687.5" font-size="20.5" text-anchor="middle">0.0093</text>
<line x1="1197.44" y1="1718.5" x2="1239.3" y2="1718.5" stroke="#000" stroke-width="1.6"/>
<text x="1218.37" y="1715.5" font-size="20.5" text-anchor="middle">&lt;0.0001</text>
<line x1="1281.16" y1="1730" x2="1323.02" y2="1730" stroke="#000" stroke-width="1.6"/>
<text x="1302.09" y="1727" font-size="20.5" text-anchor="middle">&lt;0.0001</text>
<line x1="1030" y1="1751.7" x2="1071.86" y2="1751.7" stroke="#000" stroke-width="1.6"/>
<text x="1050.93" y="1748.7" font-size="20.5" text-anchor="middle">0.0021</text>
<line x1="1113.72" y1="1751.7" x2="1155.58" y2="1751.7" stroke="#000" stroke-width="1.6"/>
<text x="1134.65" y="1748.7" font-size="20.5" text-anchor="middle">&lt;0.0001</text>
<rect x="1476" y="1151.48" width="26" height="30.72" fill="#231f20" stroke="none" stroke-width="0"/>
<circle cx="1481.5" cy="1151.94" r="1.8" fill="#fff" stroke="#231f20" stroke-width="0.85"/>
<circle cx="1489" cy="1151.1" r="1.8" fill="#fff" stroke="#231f20" stroke-width="0.85"/>
<circle cx="1496.5" cy="1151.56" r="1.8" fill="#fff" stroke="#231f20" stroke-width="0.85"/>
<rect x="1517.87" y="1151.48" width="26" height="30.72" fill="#231f20" stroke="none" stroke-width="0"/>
<circle cx="1523.37" cy="1151.94" r="1.8" fill="#fff" stroke="#231f20" stroke-width="0.85"/>
<circle cx="1530.87" cy="1151.1" r="1.8" fill="#fff" stroke="#231f20" stroke-width="0.85"/>
<circle cx="1538.37" cy="1151.56" r="1.8" fill="#fff" stroke="#231f20" stroke-width="0.85"/>
<rect x="1559.74" y="1105.41" width="26" height="76.79" fill="#fff" stroke="#231f20" stroke-width="1.8"/>
<line x1="1572.74" y1="1105.41" x2="1572.74" y2="1103.87" stroke="#231f20" stroke-width="1.5"/>
<line x1="1560.52" y1="1103.87" x2="1584.96" y2="1103.87" stroke="#231f20" stroke-width="2"/>
<circle cx="1565.24" cy="1106.33" r="1.8" fill="#fff" stroke="#231f20" stroke-width="0.85"/>
<circle cx="1572.74" cy="1104.64" r="1.8" fill="#fff" stroke="#231f20" stroke-width="0.85"/>
<circle cx="1580.24" cy="1105.56" r="1.8" fill="#fff" stroke="#231f20" stroke-width="0.85"/>
<rect x="1601.61" y="1139.81" width="26" height="42.39" fill="#fff" stroke="#231f20" stroke-width="1.8"/>
<circle cx="1607.11" cy="1140.27" r="1.8" fill="#fff" stroke="#231f20" stroke-width="0.85"/>
<circle cx="1614.61" cy="1139.43" r="1.8" fill="#fff" stroke="#231f20" stroke-width="0.85"/>
<circle cx="1622.11" cy="1139.89" r="1.8" fill="#fff" stroke="#231f20" stroke-width="0.85"/>
<rect x="1643.48" y="1141.65" width="26" height="40.55" fill="#ec1c24" stroke="#231f20" stroke-width="1.8"/>
<line x1="1656.48" y1="1141.65" x2="1656.48" y2="1140.43" stroke="#231f20" stroke-width="1.5"/>
<line x1="1644.26" y1="1140.43" x2="1668.7" y2="1140.43" stroke="#231f20" stroke-width="2"/>
<circle cx="1648.98" cy="1142.39" r="1.8" fill="#fff" stroke="#231f20" stroke-width="0.85"/>
<circle cx="1656.48" cy="1141.04" r="1.8" fill="#fff" stroke="#231f20" stroke-width="0.85"/>
<circle cx="1663.98" cy="1141.78" r="1.8" fill="#fff" stroke="#231f20" stroke-width="0.85"/>
<rect x="1685.35" y="1151.48" width="26" height="30.72" fill="#ec1c24" stroke="#231f20" stroke-width="1.8"/>
<circle cx="1690.85" cy="1151.94" r="1.8" fill="#fff" stroke="#231f20" stroke-width="0.85"/>
<circle cx="1698.35" cy="1151.1" r="1.8" fill="#fff" stroke="#231f20" stroke-width="0.85"/>
<circle cx="1705.85" cy="1151.56" r="1.8" fill="#fff" stroke="#231f20" stroke-width="0.85"/>
<rect x="1727.22" y="1133.05" width="26" height="49.15" fill="#fff" stroke="#ec1c24" stroke-width="1.6"/>
<line x1="1740.22" y1="1133.05" x2="1740.22" y2="1131.52" stroke="#231f20" stroke-width="1.5"/>
<line x1="1728" y1="1131.52" x2="1752.44" y2="1131.52" stroke="#231f20" stroke-width="2"/>
<circle cx="1732.72" cy="1133.97" r="1.8" fill="#fff" stroke="#231f20" stroke-width="0.85"/>
<circle cx="1740.22" cy="1132.29" r="1.8" fill="#fff" stroke="#231f20" stroke-width="0.85"/>
<circle cx="1747.72" cy="1133.21" r="1.8" fill="#fff" stroke="#231f20" stroke-width="0.85"/>
<rect x="1769.09" y="1149.95" width="26" height="32.25" fill="#fff" stroke="#ec1c24" stroke-width="1.6"/>
<circle cx="1774.59" cy="1150.41" r="1.8" fill="#fff" stroke="#231f20" stroke-width="0.85"/>
<circle cx="1782.09" cy="1149.56" r="1.8" fill="#fff" stroke="#231f20" stroke-width="0.85"/>
<circle cx="1789.59" cy="1150.02" r="1.8" fill="#fff" stroke="#231f20" stroke-width="0.85"/>
<line x1="1458.2" y1="1182.2" x2="1468.2" y2="1182.2" stroke="#000" stroke-width="2"/>
<text x="1456.7" y="1189.2" font-size="24.8" text-anchor="end">0</text>
<line x1="1458.2" y1="1151.48" x2="1468.2" y2="1151.48" stroke="#000" stroke-width="2"/>
<text x="1456.7" y="1158.48" font-size="24.8" text-anchor="end">1</text>
<line x1="1458.2" y1="1120.77" x2="1468.2" y2="1120.77" stroke="#000" stroke-width="2"/>
<text x="1456.7" y="1127.77" font-size="24.8" text-anchor="end">2</text>
<line x1="1458.2" y1="1090.05" x2="1468.2" y2="1090.05" stroke="#000" stroke-width="2"/>
<text x="1456.7" y="1097.05" font-size="24.8" text-anchor="end">3</text>
<line x1="1458.2" y1="1059.33" x2="1468.2" y2="1059.33" stroke="#000" stroke-width="2"/>
<text x="1456.7" y="1066.33" font-size="24.8" text-anchor="end">4</text>
<line x1="1458.2" y1="1028.62" x2="1468.2" y2="1028.62" stroke="#000" stroke-width="2"/>
<text x="1456.7" y="1035.62" font-size="24.8" text-anchor="end">5</text>
<line x1="1458.2" y1="997.9" x2="1468.2" y2="997.9" stroke="#000" stroke-width="2"/>
<text x="1456.7" y="1004.9" font-size="24.8" text-anchor="end">6</text>
<line x1="1468.2" y1="996.9" x2="1468.2" y2="1183.2" stroke="#000" stroke-width="2"/>
<line x1="1467.2" y1="1182.2" x2="1800" y2="1182.2" stroke="#000" stroke-width="2.2"/>
<text transform="translate(1410.4 1090.05) rotate(-90)" text-anchor="middle" font-size="25">Rel. pN-WASP/</text>
<text transform="translate(1435 1090.05) rotate(-90)" text-anchor="middle" font-size="25">N-WASP level</text>
<text x="1474.5" y="1211.5" font-size="25.15" text-anchor="end">MG-132:</text>
<text x="1489" y="1211.8" font-size="25.15" text-anchor="middle">-</text>
<text x="1530.87" y="1211.5" font-size="25.15" text-anchor="middle">+</text>
<text x="1572.74" y="1211.8" font-size="25.15" text-anchor="middle">-</text>
<text x="1614.61" y="1211.5" font-size="25.15" text-anchor="middle">+</text>
<text x="1656.48" y="1211.8" font-size="25.15" text-anchor="middle">-</text>
<text x="1698.35" y="1211.5" font-size="25.15" text-anchor="middle">+</text>
<text x="1740.22" y="1211.8" font-size="25.15" text-anchor="middle">-</text>
<text x="1782.09" y="1211.5" font-size="25.15" text-anchor="middle">+</text>
<text x="1474.5" y="1234.6" font-size="25.15" text-anchor="end">I3A:</text>
<text x="1489" y="1234.9" font-size="25.15" text-anchor="middle">-</text>
<text x="1530.87" y="1234.9" font-size="25.15" text-anchor="middle">-</text>
<text x="1572.74" y="1234.6" font-size="25.15" text-anchor="middle">+</text>
<text x="1614.61" y="1234.6" font-size="25.15" text-anchor="middle">+</text>
<text x="1656.48" y="1234.9" font-size="25.15" text-anchor="middle">-</text>
<text x="1698.35" y="1234.9" font-size="25.15" text-anchor="middle">-</text>
<text x="1740.22" y="1234.6" font-size="25.15" text-anchor="middle">+</text>
<text x="1782.09" y="1234.6" font-size="25.15" text-anchor="middle">+</text>
<text x="1474.5" y="1257.8" font-size="25.15" text-anchor="end">EHEC:</text>
<text x="1489" y="1258.1" font-size="25.15" text-anchor="middle">-</text>
<text x="1530.87" y="1258.1" font-size="25.15" text-anchor="middle">-</text>
<text x="1572.74" y="1258.1" font-size="25.15" text-anchor="middle">-</text>
<text x="1614.61" y="1258.1" font-size="25.15" text-anchor="middle">-</text>
<text x="1656.48" y="1257.8" font-size="25.15" text-anchor="middle">+</text>
<text x="1698.35" y="1257.8" font-size="25.15" text-anchor="middle">+</text>
<text x="1740.22" y="1257.8" font-size="25.15" text-anchor="middle">+</text>
<text x="1782.09" y="1257.8" font-size="25.15" text-anchor="middle">+</text>
<rect x="1476" y="1463.68" width="26" height="30.92" fill="#231f20" stroke="none" stroke-width="0"/>
<circle cx="1481.5" cy="1464.15" r="1.8" fill="#fff" stroke="#231f20" stroke-width="0.85"/>
<circle cx="1489" cy="1463.3" r="1.8" fill="#fff" stroke="#231f20" stroke-width="0.85"/>
<circle cx="1496.5" cy="1463.76" r="1.8" fill="#fff" stroke="#231f20" stroke-width="0.85"/>
<rect x="1517.87" y="1463.68" width="26" height="30.92" fill="#231f20" stroke="none" stroke-width="0"/>
<circle cx="1523.37" cy="1464.15" r="1.8" fill="#fff" stroke="#231f20" stroke-width="0.85"/>
<circle cx="1530.87" cy="1463.3" r="1.8" fill="#fff" stroke="#231f20" stroke-width="0.85"/>
<circle cx="1538.37" cy="1463.76" r="1.8" fill="#fff" stroke="#231f20" stroke-width="0.85"/>
<rect x="1559.74" y="1418.85" width="26" height="75.75" fill="#fff" stroke="#231f20" stroke-width="1.8"/>
<circle cx="1565.24" cy="1419.32" r="1.8" fill="#fff" stroke="#231f20" stroke-width="0.85"/>
<circle cx="1572.74" cy="1418.47" r="1.8" fill="#fff" stroke="#231f20" stroke-width="0.85"/>
<circle cx="1580.24" cy="1418.93" r="1.8" fill="#fff" stroke="#231f20" stroke-width="0.85"/>
<rect x="1601.61" y="1450.7" width="26" height="43.9" fill="#fff" stroke="#231f20" stroke-width="1.8"/>
<circle cx="1607.11" cy="1451.16" r="1.8" fill="#fff" stroke="#231f20" stroke-width="0.85"/>
<circle cx="1614.61" cy="1450.31" r="1.8" fill="#fff" stroke="#231f20" stroke-width="0.85"/>
<circle cx="1622.11" cy="1450.78" r="1.8" fill="#fff" stroke="#231f20" stroke-width="0.85"/>
<rect x="1643.48" y="1455.95" width="26" height="38.65" fill="#ec1c24" stroke="#231f20" stroke-width="1.8"/>
<circle cx="1648.98" cy="1456.42" r="1.8" fill="#fff" stroke="#231f20" stroke-width="0.85"/>
<circle cx="1656.48" cy="1455.57" r="1.8" fill="#fff" stroke="#231f20" stroke-width="0.85"/>
<circle cx="1663.98" cy="1456.03" r="1.8" fill="#fff" stroke="#231f20" stroke-width="0.85"/>
<rect x="1685.35" y="1463.06" width="26" height="31.54" fill="#ec1c24" stroke="#231f20" stroke-width="1.8"/>
<circle cx="1690.85" cy="1463.53" r="1.8" fill="#fff" stroke="#231f20" stroke-width="0.85"/>
<circle cx="1698.35" cy="1462.68" r="1.8" fill="#fff" stroke="#231f20" stroke-width="0.85"/>
<circle cx="1705.85" cy="1463.14" r="1.8" fill="#fff" stroke="#231f20" stroke-width="0.85"/>
<rect x="1727.22" y="1446.68" width="26" height="47.92" fill="#fff" stroke="#ec1c24" stroke-width="1.6"/>
<circle cx="1732.72" cy="1447.14" r="1.8" fill="#fff" stroke="#231f20" stroke-width="0.85"/>
<circle cx="1740.22" cy="1446.29" r="1.8" fill="#fff" stroke="#231f20" stroke-width="0.85"/>
<circle cx="1747.72" cy="1446.76" r="1.8" fill="#fff" stroke="#231f20" stroke-width="0.85"/>
<rect x="1769.09" y="1462.14" width="26" height="32.46" fill="#fff" stroke="#ec1c24" stroke-width="1.6"/>
<circle cx="1774.59" cy="1462.6" r="1.8" fill="#fff" stroke="#231f20" stroke-width="0.85"/>
<circle cx="1782.09" cy="1461.75" r="1.8" fill="#fff" stroke="#231f20" stroke-width="0.85"/>
<circle cx="1789.59" cy="1462.21" r="1.8" fill="#fff" stroke="#231f20" stroke-width="0.85"/>
<line x1="1458.2" y1="1494.6" x2="1468.2" y2="1494.6" stroke="#000" stroke-width="2"/>
<text x="1456.7" y="1501.6" font-size="24.8" text-anchor="end">0</text>
<line x1="1458.2" y1="1463.68" x2="1468.2" y2="1463.68" stroke="#000" stroke-width="2"/>
<text x="1456.7" y="1470.68" font-size="24.8" text-anchor="end">1</text>
<line x1="1458.2" y1="1432.77" x2="1468.2" y2="1432.77" stroke="#000" stroke-width="2"/>
<text x="1456.7" y="1439.77" font-size="24.8" text-anchor="end">2</text>
<line x1="1458.2" y1="1401.85" x2="1468.2" y2="1401.85" stroke="#000" stroke-width="2"/>
<text x="1456.7" y="1408.85" font-size="24.8" text-anchor="end">3</text>
<line x1="1458.2" y1="1370.93" x2="1468.2" y2="1370.93" stroke="#000" stroke-width="2"/>
<text x="1456.7" y="1377.93" font-size="24.8" text-anchor="end">4</text>
<line x1="1458.2" y1="1340.02" x2="1468.2" y2="1340.02" stroke="#000" stroke-width="2"/>
<text x="1456.7" y="1347.02" font-size="24.8" text-anchor="end">5</text>
<line x1="1458.2" y1="1309.1" x2="1468.2" y2="1309.1" stroke="#000" stroke-width="2"/>
<text x="1456.7" y="1316.1" font-size="24.8" text-anchor="end">6</text>
<line x1="1468.2" y1="1308.1" x2="1468.2" y2="1495.6" stroke="#000" stroke-width="2"/>
<line x1="1467.2" y1="1494.6" x2="1800" y2="1494.6" stroke="#000" stroke-width="2.2"/>
<text transform="translate(1410.4 1401.85) rotate(-90)" text-anchor="middle" font-size="25">Rel. pN-WASP/</text>
<text transform="translate(1435 1401.85) rotate(-90)" text-anchor="middle" font-size="25">N-WASP level</text>
<text x="1474.5" y="1523.8" font-size="25.15" text-anchor="end">MG-132:</text>
<text x="1489" y="1524.1" font-size="25.15" text-anchor="middle">-</text>
<text x="1530.87" y="1523.8" font-size="25.15" text-anchor="middle">+</text>
<text x="1572.74" y="1524.1" font-size="25.15" text-anchor="middle">-</text>
<text x="1614.61" y="1523.8" font-size="25.15" text-anchor="middle">+</text>
<text x="1656.48" y="1524.1" font-size="25.15" text-anchor="middle">-</text>
<text x="1698.35" y="1523.8" font-size="25.15" text-anchor="middle">+</text>
<text x="1740.22" y="1524.1" font-size="25.15" text-anchor="middle">-</text>
<text x="1782.09" y="1523.8" font-size="25.15" text-anchor="middle">+</text>
<text x="1474.5" y="1546.8" font-size="25.15" text-anchor="end">IPyA:</text>
<text x="1489" y="1547.1" font-size="25.15" text-anchor="middle">-</text>
<text x="1530.87" y="1547.1" font-size="25.15" text-anchor="middle">-</text>
<text x="1572.74" y="1546.8" font-size="25.15" text-anchor="middle">+</text>
<text x="1614.61" y="1546.8" font-size="25.15" text-anchor="middle">+</text>
<text x="1656.48" y="1547.1" font-size="25.15" text-anchor="middle">-</text>
<text x="1698.35" y="1547.1" font-size="25.15" text-anchor="middle">-</text>
<text x="1740.22" y="1546.8" font-size="25.15" text-anchor="middle">+</text>
<text x="1782.09" y="1546.8" font-size="25.15" text-anchor="middle">+</text>
<text x="1474.5" y="1569.9" font-size="25.15" text-anchor="end">EHEC:</text>
<text x="1489" y="1570.2" font-size="25.15" text-anchor="middle">-</text>
<text x="1530.87" y="1570.2" font-size="25.15" text-anchor="middle">-</text>
<text x="1572.74" y="1570.2" font-size="25.15" text-anchor="middle">-</text>
<text x="1614.61" y="1570.2" font-size="25.15" text-anchor="middle">-</text>
<text x="1656.48" y="1569.9" font-size="25.15" text-anchor="middle">+</text>
<text x="1698.35" y="1569.9" font-size="25.15" text-anchor="middle">+</text>
<text x="1740.22" y="1569.9" font-size="25.15" text-anchor="middle">+</text>
<text x="1782.09" y="1569.9" font-size="25.15" text-anchor="middle">+</text>
<rect x="1476" y="1779.08" width="26" height="30.92" fill="#231f20" stroke="none" stroke-width="0"/>
<circle cx="1481.5" cy="1779.55" r="1.8" fill="#fff" stroke="#231f20" stroke-width="0.85"/>
<circle cx="1489" cy="1778.7" r="1.8" fill="#fff" stroke="#231f20" stroke-width="0.85"/>
<circle cx="1496.5" cy="1779.16" r="1.8" fill="#fff" stroke="#231f20" stroke-width="0.85"/>
<rect x="1517.87" y="1779.08" width="26" height="30.92" fill="#231f20" stroke="none" stroke-width="0"/>
<circle cx="1523.37" cy="1779.55" r="1.8" fill="#fff" stroke="#231f20" stroke-width="0.85"/>
<circle cx="1530.87" cy="1778.7" r="1.8" fill="#fff" stroke="#231f20" stroke-width="0.85"/>
<circle cx="1538.37" cy="1779.16" r="1.8" fill="#fff" stroke="#231f20" stroke-width="0.85"/>
<rect x="1559.74" y="1734.25" width="26" height="75.75" fill="#fff" stroke="#231f20" stroke-width="1.8"/>
<circle cx="1565.24" cy="1734.72" r="1.8" fill="#fff" stroke="#231f20" stroke-width="0.85"/>
<circle cx="1572.74" cy="1733.87" r="1.8" fill="#fff" stroke="#231f20" stroke-width="0.85"/>
<circle cx="1580.24" cy="1734.33" r="1.8" fill="#fff" stroke="#231f20" stroke-width="0.85"/>
<rect x="1601.61" y="1766.72" width="26" height="43.28" fill="#fff" stroke="#231f20" stroke-width="1.8"/>
<circle cx="1607.11" cy="1767.18" r="1.8" fill="#fff" stroke="#231f20" stroke-width="0.85"/>
<circle cx="1614.61" cy="1766.33" r="1.8" fill="#fff" stroke="#231f20" stroke-width="0.85"/>
<circle cx="1622.11" cy="1766.79" r="1.8" fill="#fff" stroke="#231f20" stroke-width="0.85"/>
<rect x="1643.48" y="1771.35" width="26" height="38.65" fill="#ec1c24" stroke="#231f20" stroke-width="1.8"/>
<circle cx="1648.98" cy="1771.82" r="1.8" fill="#fff" stroke="#231f20" stroke-width="0.85"/>
<circle cx="1656.48" cy="1770.97" r="1.8" fill="#fff" stroke="#231f20" stroke-width="0.85"/>
<circle cx="1663.98" cy="1771.43" r="1.8" fill="#fff" stroke="#231f20" stroke-width="0.85"/>
<rect x="1685.35" y="1779.08" width="26" height="30.92" fill="#ec1c24" stroke="#231f20" stroke-width="1.8"/>
<circle cx="1690.85" cy="1779.55" r="1.8" fill="#fff" stroke="#231f20" stroke-width="0.85"/>
<circle cx="1698.35" cy="1778.7" r="1.8" fill="#fff" stroke="#231f20" stroke-width="0.85"/>
<circle cx="1705.85" cy="1779.16" r="1.8" fill="#fff" stroke="#231f20" stroke-width="0.85"/>
<rect x="1727.22" y="1758.99" width="26" height="51.01" fill="#fff" stroke="#ec1c24" stroke-width="1.6"/>
<line x1="1740.22" y1="1758.99" x2="1740.22" y2="1755.9" stroke="#231f20" stroke-width="1.5"/>
<line x1="1728" y1="1755.9" x2="1752.44" y2="1755.9" stroke="#231f20" stroke-width="2"/>
<circle cx="1732.72" cy="1760.84" r="1.8" fill="#fff" stroke="#231f20" stroke-width="0.85"/>
<circle cx="1740.22" cy="1757.44" r="1.8" fill="#fff" stroke="#231f20" stroke-width="0.85"/>
<circle cx="1747.72" cy="1759.3" r="1.8" fill="#fff" stroke="#231f20" stroke-width="0.85"/>
<rect x="1769.09" y="1775.99" width="26" height="34.01" fill="#fff" stroke="#ec1c24" stroke-width="1.6"/>
<circle cx="1774.59" cy="1776.46" r="1.8" fill="#fff" stroke="#231f20" stroke-width="0.85"/>
<circle cx="1782.09" cy="1775.61" r="1.8" fill="#fff" stroke="#231f20" stroke-width="0.85"/>
<circle cx="1789.59" cy="1776.07" r="1.8" fill="#fff" stroke="#231f20" stroke-width="0.85"/>
<line x1="1458.2" y1="1810" x2="1468.2" y2="1810" stroke="#000" stroke-width="2"/>
<text x="1456.7" y="1817" font-size="24.8" text-anchor="end">0</text>
<line x1="1458.2" y1="1779.08" x2="1468.2" y2="1779.08" stroke="#000" stroke-width="2"/>
<text x="1456.7" y="1786.08" font-size="24.8" text-anchor="end">1</text>
<line x1="1458.2" y1="1748.17" x2="1468.2" y2="1748.17" stroke="#000" stroke-width="2"/>
<text x="1456.7" y="1755.17" font-size="24.8" text-anchor="end">2</text>
<line x1="1458.2" y1="1717.25" x2="1468.2" y2="1717.25" stroke="#000" stroke-width="2"/>
<text x="1456.7" y="1724.25" font-size="24.8" text-anchor="end">3</text>
<line x1="1458.2" y1="1686.33" x2="1468.2" y2="1686.33" stroke="#000" stroke-width="2"/>
<text x="1456.7" y="1693.33" font-size="24.8" text-anchor="end">4</text>
<line x1="1458.2" y1="1655.42" x2="1468.2" y2="1655.42" stroke="#000" stroke-width="2"/>
<text x="1456.7" y="1662.42" font-size="24.8" text-anchor="end">5</text>
<line x1="1458.2" y1="1624.5" x2="1468.2" y2="1624.5" stroke="#000" stroke-width="2"/>
<text x="1456.7" y="1631.5" font-size="24.8" text-anchor="end">6</text>
<line x1="1468.2" y1="1623.5" x2="1468.2" y2="1811" stroke="#000" stroke-width="2"/>
<line x1="1467.2" y1="1810" x2="1800" y2="1810" stroke="#000" stroke-width="2.2"/>
<text transform="translate(1410.4 1717.25) rotate(-90)" text-anchor="middle" font-size="25">Rel. pN-WASP/</text>
<text transform="translate(1435 1717.25) rotate(-90)" text-anchor="middle" font-size="25">N-WASP level</text>
<text x="1474.5" y="1838.8" font-size="25.15" text-anchor="end">MG-132:</text>
<text x="1489" y="1839.1" font-size="25.15" text-anchor="middle">-</text>
<text x="1530.87" y="1838.8" font-size="25.15" text-anchor="middle">+</text>
<text x="1572.74" y="1839.1" font-size="25.15" text-anchor="middle">-</text>
<text x="1614.61" y="1838.8" font-size="25.15" text-anchor="middle">+</text>
<text x="1656.48" y="1839.1" font-size="25.15" text-anchor="middle">-</text>
<text x="1698.35" y="1838.8" font-size="25.15" text-anchor="middle">+</text>
<text x="1740.22" y="1839.1" font-size="25.15" text-anchor="middle">-</text>
<text x="1782.09" y="1838.8" font-size="25.15" text-anchor="middle">+</text>
<text x="1474.5" y="1861.7" font-size="25.15" text-anchor="end">IEt:</text>
<text x="1489" y="1862" font-size="25.15" text-anchor="middle">-</text>
<text x="1530.87" y="1862" font-size="25.15" text-anchor="middle">-</text>
<text x="1572.74" y="1861.7" font-size="25.15" text-anchor="middle">+</text>
<text x="1614.61" y="1861.7" font-size="25.15" text-anchor="middle">+</text>
<text x="1656.48" y="1862" font-size="25.15" text-anchor="middle">-</text>
<text x="1698.35" y="1862" font-size="25.15" text-anchor="middle">-</text>
<text x="1740.22" y="1861.7" font-size="25.15" text-anchor="middle">+</text>
<text x="1782.09" y="1861.7" font-size="25.15" text-anchor="middle">+</text>
<text x="1474.5" y="1885" font-size="25.15" text-anchor="end">EHEC:</text>
<text x="1489" y="1885.3" font-size="25.15" text-anchor="middle">-</text>
<text x="1530.87" y="1885.3" font-size="25.15" text-anchor="middle">-</text>
<text x="1572.74" y="1885.3" font-size="25.15" text-anchor="middle">-</text>
<text x="1614.61" y="1885.3" font-size="25.15" text-anchor="middle">-</text>
<text x="1656.48" y="1885" font-size="25.15" text-anchor="middle">+</text>
<text x="1698.35" y="1885" font-size="25.15" text-anchor="middle">+</text>
<text x="1740.22" y="1885" font-size="25.15" text-anchor="middle">+</text>
<text x="1782.09" y="1885" font-size="25.15" text-anchor="middle">+</text>
<line x1="1656.48" y1="1026.2" x2="1782.09" y2="1026.2" stroke="#000" stroke-width="1.6"/>
<text x="1719.28" y="1022.5" font-size="20.5" text-anchor="middle">&lt;0.0001</text>
<path d="M1656.48 1066.7 V1060 H1698.35 V1066.7" stroke="#000" stroke-width="1.6" fill="none"/>
<path d="M1677.41 1060 V1054.4 H1740.22 V1066.7" stroke="#000" stroke-width="1.6" fill="none"/>
<text x="1708.82" y="1050.7" font-size="20.5" text-anchor="middle">&lt;0.0001</text>
<line x1="1698.35" y1="1092" x2="1782.09" y2="1092" stroke="#000" stroke-width="1.6"/>
<text x="1740.22" y="1088.8" font-size="20.5" text-anchor="middle">0.0002</text>
<line x1="1572.74" y1="1092" x2="1614.61" y2="1092" stroke="#000" stroke-width="1.6"/>
<text x="1593.67" y="1088.8" font-size="20.5" text-anchor="middle">&lt;0.0001</text>
<line x1="1740.22" y1="1119.5" x2="1782.09" y2="1119.5" stroke="#000" stroke-width="1.6"/>
<text x="1761.15" y="1116.3" font-size="20.5" text-anchor="middle">&lt;0.0001</text>
<line x1="1656.48" y1="1128.9" x2="1698.35" y2="1128.9" stroke="#000" stroke-width="1.6"/>
<text x="1677.41" y="1125.7" font-size="20.5" text-anchor="middle">&lt;0.0001</text>
<line x1="1489" y1="1138" x2="1530.87" y2="1138" stroke="#000" stroke-width="1.6"/>
<text x="1509.93" y="1134.8" font-size="20.5" text-anchor="middle">&gt;0.9999</text>
<line x1="1656.48" y1="1336.2" x2="1782.09" y2="1336.2" stroke="#000" stroke-width="1.6"/>
<text x="1719.28" y="1332.5" font-size="20.5" text-anchor="middle">&lt;0.0001</text>
<path d="M1656.48 1378.4 V1372.3 H1698.35 V1378.4" stroke="#000" stroke-width="1.6" fill="none"/>
<path d="M1677.41 1372.3 V1366.9 H1740.22 V1378.4" stroke="#000" stroke-width="1.6" fill="none"/>
<text x="1708.82" y="1363.2" font-size="20.5" text-anchor="middle">&lt;0.0001</text>
<line x1="1698.35" y1="1404.5" x2="1782.09" y2="1404.5" stroke="#000" stroke-width="1.6"/>
<text x="1740.22" y="1401.3" font-size="20.5" text-anchor="middle">0.0039</text>
<line x1="1572.74" y1="1404.5" x2="1614.61" y2="1404.5" stroke="#000" stroke-width="1.6"/>
<text x="1593.67" y="1401.3" font-size="20.5" text-anchor="middle">&lt;0.0001</text>
<line x1="1740.22" y1="1432" x2="1782.09" y2="1432" stroke="#000" stroke-width="1.6"/>
<text x="1761.15" y="1428.8" font-size="20.5" text-anchor="middle">&lt;0.0001</text>
<line x1="1656.48" y1="1441.8" x2="1698.35" y2="1441.8" stroke="#000" stroke-width="1.6"/>
<text x="1677.41" y="1438.6" font-size="20.5" text-anchor="middle">&lt;0.0001</text>
<line x1="1489" y1="1450.4" x2="1530.87" y2="1450.4" stroke="#000" stroke-width="1.6"/>
<text x="1509.93" y="1447.2" font-size="20.5" text-anchor="middle">&gt;0.9999</text>
<line x1="1656.48" y1="1639.3" x2="1782.09" y2="1639.3" stroke="#000" stroke-width="1.6"/>
<text x="1719.28" y="1635.8" font-size="20.5" text-anchor="middle">0.0277</text>
<line x1="1698.35" y1="1664.6" x2="1740.22" y2="1664.6" stroke="#000" stroke-width="1.6"/>
<text x="1719.28" y="1661.4" font-size="20.5" text-anchor="middle">&lt;0.0001</text>
<line x1="1656.48" y1="1689" x2="1740.22" y2="1689" stroke="#000" stroke-width="1.6"/>
<text x="1698.35" y="1685.8" font-size="20.5" text-anchor="middle">0.0021</text>
<line x1="1698.35" y1="1716.2" x2="1782.09" y2="1716.2" stroke="#000" stroke-width="1.6"/>
<text x="1740.22" y="1712.8" font-size="20.5" text-anchor="middle">&gt;0.9999</text>
<line x1="1572.74" y1="1716.2" x2="1614.61" y2="1716.2" stroke="#000" stroke-width="1.6"/>
<text x="1593.67" y="1712.8" font-size="20.5" text-anchor="middle">&lt;0.0001</text>
<line x1="1740.22" y1="1743.7" x2="1782.09" y2="1743.7" stroke="#000" stroke-width="1.6"/>
<text x="1761.15" y="1740.3" font-size="20.5" text-anchor="middle">&lt;0.0001</text>
<line x1="1656.48" y1="1752.3" x2="1698.35" y2="1752.3" stroke="#000" stroke-width="1.6"/>
<text x="1677.41" y="1749.3" font-size="20.5" text-anchor="middle">0.0166</text>
<line x1="1489" y1="1762.1" x2="1530.87" y2="1762.1" stroke="#000" stroke-width="1.6"/>
<text x="1509.93" y="1758.8" font-size="20.5" text-anchor="middle">&gt;0.9999</text>
<rect x="567" y="151.8" width="294.7" height="25.5" fill="#c6c6c6" stroke="none" stroke-width="0"/>
<g filter="url(#bl3)" opacity="0.1">
<rect x="573.5" y="153.8" width="26" height="21.5" fill="#000" stroke="none" stroke-width="0"/>
<rect x="609.5" y="153.8" width="26" height="21.5" fill="#000" stroke="none" stroke-width="0"/>
<rect x="645.5" y="153.8" width="26" height="21.5" fill="#000" stroke="none" stroke-width="0"/>
<rect x="681.5" y="153.8" width="26" height="21.5" fill="#000" stroke="none" stroke-width="0"/>
<rect x="717.5" y="153.8" width="26" height="21.5" fill="#000" stroke="none" stroke-width="0"/>
<rect x="753.5" y="153.8" width="26" height="21.5" fill="#000" stroke="none" stroke-width="0"/>
<rect x="789.5" y="153.8" width="26" height="21.5" fill="#000" stroke="none" stroke-width="0"/>
<rect x="825.5" y="153.8" width="26" height="21.5" fill="#000" stroke="none" stroke-width="0"/>
</g>
<g filter="url(#bl3)" opacity="0.12">
<rect x="575.5" y="161.5" width="22" height="13.8" fill="#000" stroke="none" stroke-width="0"/>
<rect x="611.5" y="161.5" width="22" height="13.8" fill="#000" stroke="none" stroke-width="0"/>
<rect x="646" y="161.5" width="25" height="13.8" fill="#000" stroke="none" stroke-width="0"/>
<rect x="682" y="161.5" width="25" height="13.8" fill="#000" stroke="none" stroke-width="0"/>
<rect x="719" y="161.5" width="23" height="13.8" fill="#000" stroke="none" stroke-width="0"/>
<rect x="755.5" y="161.5" width="22" height="13.8" fill="#000" stroke="none" stroke-width="0"/>
<rect x="790" y="161.5" width="25" height="13.8" fill="#000" stroke="none" stroke-width="0"/>
<rect x="826" y="161.5" width="25" height="13.8" fill="#000" stroke="none" stroke-width="0"/>
</g>
<g filter="url(#bl3)" opacity="0.1">
<rect x="601.5" y="153.8" width="6" height="21.5" fill="#fff" stroke="none" stroke-width="0"/>
<rect x="637.5" y="153.8" width="6" height="21.5" fill="#fff" stroke="none" stroke-width="0"/>
<rect x="673.5" y="153.8" width="6" height="21.5" fill="#fff" stroke="none" stroke-width="0"/>
<rect x="709.5" y="153.8" width="6" height="21.5" fill="#fff" stroke="none" stroke-width="0"/>
<rect x="745.5" y="153.8" width="6" height="21.5" fill="#fff" stroke="none" stroke-width="0"/>
<rect x="781.5" y="153.8" width="6" height="21.5" fill="#fff" stroke="none" stroke-width="0"/>
<rect x="817.5" y="153.8" width="6" height="21.5" fill="#fff" stroke="none" stroke-width="0"/>
</g>
<g filter="url(#bl)">
<rect x="575.5" y="158.75" width="22" height="5.5" rx="2.75" fill="#1a1a1a" opacity="0.9"/>
<rect x="611.5" y="158.75" width="22" height="5.5" rx="2.75" fill="#1a1a1a" opacity="0.87"/>
<rect x="646" y="157.5" width="25" height="8" rx="4" fill="#1a1a1a" opacity="1"/>
<rect x="682" y="157.5" width="25" height="8" rx="4" fill="#1a1a1a" opacity="1"/>
<rect x="719" y="158.75" width="23" height="5.5" rx="2.75" fill="#1a1a1a" opacity="0.9"/>
<rect x="755.5" y="158.75" width="22" height="5.5" rx="2.75" fill="#1a1a1a" opacity="0.87"/>
<rect x="790" y="157.5" width="25" height="8" rx="4" fill="#1a1a1a" opacity="1"/>
<rect x="826" y="157.5" width="25" height="8" rx="4" fill="#1a1a1a" opacity="1"/>
</g>
<rect x="567" y="151.8" width="294.7" height="25.5" fill="none" stroke="#1a1a1a" stroke-width="1.7"/>
<rect x="567" y="203.6" width="294.7" height="25.2" fill="#bcbcbc" stroke="none" stroke-width="0"/>
<g filter="url(#bl3)" opacity="0.1">
<rect x="572.5" y="205.6" width="28" height="21.2" fill="#000" stroke="none" stroke-width="0"/>
<rect x="608.5" y="205.6" width="28" height="21.2" fill="#000" stroke="none" stroke-width="0"/>
<rect x="644.5" y="205.6" width="28" height="21.2" fill="#000" stroke="none" stroke-width="0"/>
<rect x="680.5" y="205.6" width="28" height="21.2" fill="#000" stroke="none" stroke-width="0"/>
<rect x="716.5" y="205.6" width="28" height="21.2" fill="#000" stroke="none" stroke-width="0"/>
<rect x="752.5" y="205.6" width="28" height="21.2" fill="#000" stroke="none" stroke-width="0"/>
<rect x="788.5" y="205.6" width="28" height="21.2" fill="#000" stroke="none" stroke-width="0"/>
<rect x="824.5" y="205.6" width="28" height="21.2" fill="#000" stroke="none" stroke-width="0"/>
</g>
<g filter="url(#bl3)" opacity="0.06">
<rect x="574" y="217.5" width="25" height="9.3" fill="#000" stroke="none" stroke-width="0"/>
<rect x="610" y="217.5" width="25" height="9.3" fill="#000" stroke="none" stroke-width="0"/>
<rect x="646" y="217.5" width="25" height="9.3" fill="#000" stroke="none" stroke-width="0"/>
<rect x="682" y="217.5" width="25" height="9.3" fill="#000" stroke="none" stroke-width="0"/>
<rect x="718" y="217.5" width="25" height="9.3" fill="#000" stroke="none" stroke-width="0"/>
<rect x="754" y="217.5" width="25" height="9.3" fill="#000" stroke="none" stroke-width="0"/>
<rect x="790" y="217.5" width="25" height="9.3" fill="#000" stroke="none" stroke-width="0"/>
<rect x="826" y="217.5" width="25" height="9.3" fill="#000" stroke="none" stroke-width="0"/>
</g>
<g filter="url(#bl3)" opacity="0.1">
<rect x="601.5" y="205.6" width="6" height="21.2" fill="#fff" stroke="none" stroke-width="0"/>
<rect x="637.5" y="205.6" width="6" height="21.2" fill="#fff" stroke="none" stroke-width="0"/>
<rect x="673.5" y="205.6" width="6" height="21.2" fill="#fff" stroke="none" stroke-width="0"/>
<rect x="709.5" y="205.6" width="6" height="21.2" fill="#fff" stroke="none" stroke-width="0"/>
<rect x="745.5" y="205.6" width="6" height="21.2" fill="#fff" stroke="none" stroke-width="0"/>
<rect x="781.5" y="205.6" width="6" height="21.2" fill="#fff" stroke="none" stroke-width="0"/>
<rect x="817.5" y="205.6" width="6" height="21.2" fill="#fff" stroke="none" stroke-width="0"/>
</g>
<g filter="url(#bl2)">
<rect x="574" y="207.25" width="25" height="10.25" fill="#1a1a1a" stroke="none" stroke-width="0" opacity="0.38"/>
<rect x="610" y="207.25" width="25" height="10.25" fill="#1a1a1a" stroke="none" stroke-width="0" opacity="0.38"/>
<rect x="646" y="207.25" width="25" height="10.25" fill="#1a1a1a" stroke="none" stroke-width="0" opacity="0.38"/>
<rect x="682" y="207.25" width="25" height="10.25" fill="#1a1a1a" stroke="none" stroke-width="0" opacity="0.38"/>
<rect x="718" y="207.25" width="25" height="10.25" fill="#1a1a1a" stroke="none" stroke-width="0" opacity="0.38"/>
<rect x="754" y="207.25" width="25" height="10.25" fill="#1a1a1a" stroke="none" stroke-width="0" opacity="0.38"/>
<rect x="790" y="207.25" width="25" height="10.25" fill="#1a1a1a" stroke="none" stroke-width="0" opacity="0.38"/>
<rect x="826" y="207.25" width="25" height="10.25" fill="#1a1a1a" stroke="none" stroke-width="0" opacity="0.38"/>
</g>
<g filter="url(#bl)">
<rect x="574" y="212.25" width="25" height="10.5" rx="5.25" fill="#1a1a1a" opacity="0.9"/>
<rect x="610" y="212.25" width="25" height="10.5" rx="5.25" fill="#1a1a1a" opacity="0.9"/>
<rect x="646" y="212.25" width="25" height="10.5" rx="5.25" fill="#1a1a1a" opacity="0.9"/>
<rect x="682" y="212.25" width="25" height="10.5" rx="5.25" fill="#1a1a1a" opacity="0.9"/>
<rect x="718" y="212.25" width="25" height="10.5" rx="5.25" fill="#1a1a1a" opacity="0.9"/>
<rect x="754" y="212.25" width="25" height="10.5" rx="5.25" fill="#1a1a1a" opacity="0.9"/>
<rect x="790" y="212.25" width="25" height="10.5" rx="5.25" fill="#1a1a1a" opacity="0.9"/>
<rect x="826" y="212.25" width="25" height="10.5" rx="5.25" fill="#1a1a1a" opacity="0.9"/>
</g>
<rect x="567" y="203.6" width="294.7" height="25.2" fill="none" stroke="#1a1a1a" stroke-width="1.7"/>
<rect x="567" y="464" width="294.7" height="30.2" fill="#c8c8c8" stroke="none" stroke-width="0"/>
<g filter="url(#bl3)" opacity="0.06">
<rect x="573.5" y="466" width="26" height="26.2" fill="#000" stroke="none" stroke-width="0"/>
<rect x="609.5" y="466" width="26" height="26.2" fill="#000" stroke="none" stroke-width="0"/>
<rect x="645.5" y="466" width="26" height="26.2" fill="#000" stroke="none" stroke-width="0"/>
<rect x="681.5" y="466" width="26" height="26.2" fill="#000" stroke="none" stroke-width="0"/>
<rect x="717.5" y="466" width="26" height="26.2" fill="#000" stroke="none" stroke-width="0"/>
<rect x="753.5" y="466" width="26" height="26.2" fill="#000" stroke="none" stroke-width="0"/>
<rect x="789.5" y="466" width="26" height="26.2" fill="#000" stroke="none" stroke-width="0"/>
<rect x="825.5" y="466" width="26" height="26.2" fill="#000" stroke="none" stroke-width="0"/>
</g>
<g filter="url(#bl3)" opacity="0.08">
<rect x="601.5" y="466" width="6" height="26.2" fill="#fff" stroke="none" stroke-width="0"/>
<rect x="637.5" y="466" width="6" height="26.2" fill="#fff" stroke="none" stroke-width="0"/>
<rect x="673.5" y="466" width="6" height="26.2" fill="#fff" stroke="none" stroke-width="0"/>
<rect x="709.5" y="466" width="6" height="26.2" fill="#fff" stroke="none" stroke-width="0"/>
<rect x="745.5" y="466" width="6" height="26.2" fill="#fff" stroke="none" stroke-width="0"/>
<rect x="781.5" y="466" width="6" height="26.2" fill="#fff" stroke="none" stroke-width="0"/>
<rect x="817.5" y="466" width="6" height="26.2" fill="#fff" stroke="none" stroke-width="0"/>
</g>
<g filter="url(#bl)">
<rect x="576" y="473" width="21" height="9" rx="4.5" fill="#1a1a1a" opacity="0.4"/>
<rect x="612" y="473" width="21" height="9" rx="4.5" fill="#1a1a1a" opacity="0.36"/>
<rect x="646" y="471.5" width="25" height="12" rx="6" fill="#1a1a1a" opacity="0.81"/>
<rect x="682" y="471.5" width="25" height="12" rx="6" fill="#1a1a1a" opacity="0.78"/>
<rect x="719.5" y="473.5" width="22" height="8" rx="4" fill="#1a1a1a" opacity="0.57"/>
<rect x="755.5" y="473.5" width="22" height="8" rx="4" fill="#1a1a1a" opacity="0.52"/>
<rect x="790" y="471.5" width="25" height="12" rx="6" fill="#1a1a1a" opacity="0.81"/>
<rect x="826" y="471.5" width="25" height="12" rx="6" fill="#1a1a1a" opacity="0.78"/>
</g>
<rect x="567" y="464" width="294.7" height="30.2" fill="none" stroke="#1a1a1a" stroke-width="1.7"/>
<rect x="567" y="513.9" width="294.7" height="33.1" fill="#c2c2c2" stroke="none" stroke-width="0"/>
<g filter="url(#bl3)" opacity="0.05">
<rect x="572.5" y="515.9" width="28" height="29.1" fill="#000" stroke="none" stroke-width="0"/>
<rect x="608.5" y="515.9" width="28" height="29.1" fill="#000" stroke="none" stroke-width="0"/>
<rect x="644.5" y="515.9" width="28" height="29.1" fill="#000" stroke="none" stroke-width="0"/>
<rect x="680.5" y="515.9" width="28" height="29.1" fill="#000" stroke="none" stroke-width="0"/>
<rect x="716.5" y="515.9" width="28" height="29.1" fill="#000" stroke="none" stroke-width="0"/>
<rect x="752.5" y="515.9" width="28" height="29.1" fill="#000" stroke="none" stroke-width="0"/>
<rect x="788.5" y="515.9" width="28" height="29.1" fill="#000" stroke="none" stroke-width="0"/>
<rect x="824.5" y="515.9" width="28" height="29.1" fill="#000" stroke="none" stroke-width="0"/>
</g>
<g filter="url(#bl3)" opacity="0.08">
<rect x="601.5" y="515.9" width="6" height="29.1" fill="#fff" stroke="none" stroke-width="0"/>
<rect x="637.5" y="515.9" width="6" height="29.1" fill="#fff" stroke="none" stroke-width="0"/>
<rect x="673.5" y="515.9" width="6" height="29.1" fill="#fff" stroke="none" stroke-width="0"/>
<rect x="709.5" y="515.9" width="6" height="29.1" fill="#fff" stroke="none" stroke-width="0"/>
<rect x="745.5" y="515.9" width="6" height="29.1" fill="#fff" stroke="none" stroke-width="0"/>
<rect x="781.5" y="515.9" width="6" height="29.1" fill="#fff" stroke="none" stroke-width="0"/>
<rect x="817.5" y="515.9" width="6" height="29.1" fill="#fff" stroke="none" stroke-width="0"/>
</g>
<g filter="url(#bl)">
<rect x="574" y="521.5" width="25" height="18" rx="6" fill="#1a1a1a" opacity="0.84"/>
<rect x="610" y="521.5" width="25" height="18" rx="6" fill="#1a1a1a" opacity="0.84"/>
<rect x="646" y="521.5" width="25" height="18" rx="6" fill="#1a1a1a" opacity="0.84"/>
<rect x="682" y="521.5" width="25" height="18" rx="6" fill="#1a1a1a" opacity="0.84"/>
<rect x="718" y="521.5" width="25" height="18" rx="6" fill="#1a1a1a" opacity="0.84"/>
<rect x="754" y="521.5" width="25" height="18" rx="6" fill="#1a1a1a" opacity="0.84"/>
<rect x="790" y="521.5" width="25" height="18" rx="6" fill="#1a1a1a" opacity="0.84"/>
<rect x="826" y="521.5" width="25" height="18" rx="6" fill="#1a1a1a" opacity="0.84"/>
</g>
<rect x="567" y="513.9" width="294.7" height="33.1" fill="none" stroke="#1a1a1a" stroke-width="1.7"/>
<rect x="567" y="781.8" width="294.7" height="29.8" fill="#c8c8c8" stroke="none" stroke-width="0"/>
<g filter="url(#bl3)" opacity="0.1">
<rect x="573.5" y="783.8" width="26" height="25.8" fill="#000" stroke="none" stroke-width="0"/>
<rect x="609.5" y="783.8" width="26" height="25.8" fill="#000" stroke="none" stroke-width="0"/>
<rect x="645.5" y="783.8" width="26" height="25.8" fill="#000" stroke="none" stroke-width="0"/>
<rect x="681.5" y="783.8" width="26" height="25.8" fill="#000" stroke="none" stroke-width="0"/>
<rect x="717.5" y="783.8" width="26" height="25.8" fill="#000" stroke="none" stroke-width="0"/>
<rect x="753.5" y="783.8" width="26" height="25.8" fill="#000" stroke="none" stroke-width="0"/>
<rect x="789.5" y="783.8" width="26" height="25.8" fill="#000" stroke="none" stroke-width="0"/>
<rect x="825.5" y="783.8" width="26" height="25.8" fill="#000" stroke="none" stroke-width="0"/>
</g>
<g filter="url(#bl3)" opacity="0.08">
<rect x="601.5" y="783.8" width="6" height="25.8" fill="#fff" stroke="none" stroke-width="0"/>
<rect x="637.5" y="783.8" width="6" height="25.8" fill="#fff" stroke="none" stroke-width="0"/>
<rect x="673.5" y="783.8" width="6" height="25.8" fill="#fff" stroke="none" stroke-width="0"/>
<rect x="709.5" y="783.8" width="6" height="25.8" fill="#fff" stroke="none" stroke-width="0"/>
<rect x="745.5" y="783.8" width="6" height="25.8" fill="#fff" stroke="none" stroke-width="0"/>
<rect x="781.5" y="783.8" width="6" height="25.8" fill="#fff" stroke="none" stroke-width="0"/>
<rect x="817.5" y="783.8" width="6" height="25.8" fill="#fff" stroke="none" stroke-width="0"/>
</g>
<g filter="url(#bl)">
<rect x="575.5" y="794" width="22" height="5" rx="2.5" fill="#1a1a1a" opacity="0.81"/>
<rect x="611.5" y="794" width="22" height="5" rx="2.5" fill="#1a1a1a" opacity="0.76"/>
<rect x="646.5" y="792.5" width="24" height="8" rx="4" fill="#1a1a1a" opacity="0.9"/>
<rect x="682" y="792.5" width="25" height="8" rx="4" fill="#1a1a1a" opacity="0.9"/>
<rect x="719.5" y="794" width="22" height="5" rx="2.5" fill="#1a1a1a" opacity="0.81"/>
<rect x="755" y="793.5" width="23" height="6" rx="3" fill="#1a1a1a" opacity="0.81"/>
<rect x="790.5" y="792.5" width="24" height="8" rx="4" fill="#1a1a1a" opacity="0.9"/>
<rect x="826.5" y="792.5" width="24" height="8" rx="4" fill="#1a1a1a" opacity="0.9"/>
</g>
<rect x="567" y="781.8" width="294.7" height="29.8" fill="none" stroke="#1a1a1a" stroke-width="1.7"/>
<rect x="567" y="832.8" width="294.7" height="29.8" fill="#c6c6c6" stroke="none" stroke-width="0"/>
<g filter="url(#bl3)" opacity="0.05">
<rect x="572.5" y="834.8" width="28" height="25.8" fill="#000" stroke="none" stroke-width="0"/>
<rect x="608.5" y="834.8" width="28" height="25.8" fill="#000" stroke="none" stroke-width="0"/>
<rect x="644.5" y="834.8" width="28" height="25.8" fill="#000" stroke="none" stroke-width="0"/>
<rect x="680.5" y="834.8" width="28" height="25.8" fill="#000" stroke="none" stroke-width="0"/>
<rect x="716.5" y="834.8" width="28" height="25.8" fill="#000" stroke="none" stroke-width="0"/>
<rect x="752.5" y="834.8" width="28" height="25.8" fill="#000" stroke="none" stroke-width="0"/>
<rect x="788.5" y="834.8" width="28" height="25.8" fill="#000" stroke="none" stroke-width="0"/>
<rect x="824.5" y="834.8" width="28" height="25.8" fill="#000" stroke="none" stroke-width="0"/>
</g>
<g filter="url(#bl3)" opacity="0.08">
<rect x="601.5" y="834.8" width="6" height="25.8" fill="#fff" stroke="none" stroke-width="0"/>
<rect x="637.5" y="834.8" width="6" height="25.8" fill="#fff" stroke="none" stroke-width="0"/>
<rect x="673.5" y="834.8" width="6" height="25.8" fill="#fff" stroke="none" stroke-width="0"/>
<rect x="709.5" y="834.8" width="6" height="25.8" fill="#fff" stroke="none" stroke-width="0"/>
<rect x="745.5" y="834.8" width="6" height="25.8" fill="#fff" stroke="none" stroke-width="0"/>
<rect x="781.5" y="834.8" width="6" height="25.8" fill="#fff" stroke="none" stroke-width="0"/>
<rect x="817.5" y="834.8" width="6" height="25.8" fill="#fff" stroke="none" stroke-width="0"/>
</g>
<g filter="url(#bl)">
<rect x="575" y="843" width="23" height="11" rx="5.5" fill="#1a1a1a" opacity="0.81"/>
<rect x="611" y="844" width="23" height="11" rx="5.5" fill="#1a1a1a" opacity="0.81"/>
<rect x="647" y="843" width="23" height="11" rx="5.5" fill="#1a1a1a" opacity="0.81"/>
<rect x="683" y="842" width="23" height="11" rx="5.5" fill="#1a1a1a" opacity="0.81"/>
<rect x="719" y="841" width="23" height="11" rx="5.5" fill="#1a1a1a" opacity="0.81"/>
<rect x="755" y="843" width="23" height="11" rx="5.5" fill="#1a1a1a" opacity="0.81"/>
<rect x="791" y="843" width="23" height="11" rx="5.5" fill="#1a1a1a" opacity="0.81"/>
<rect x="827" y="843" width="23" height="11" rx="5.5" fill="#1a1a1a" opacity="0.81"/>
</g>
<rect x="567" y="832.8" width="294.7" height="29.8" fill="none" stroke="#1a1a1a" stroke-width="1.7"/>
<text x="559.5" y="170.55" font-size="25" text-anchor="end">PKCθ</text>
<text x="559.5" y="221.7" font-size="25" text-anchor="end">β-actin</text>
<text x="866.5" y="135" font-size="20.8">kDa</text>
<line x1="862.5" y1="154" x2="867.5" y2="154" stroke="#000" stroke-width="2"/>
<text x="868" y="161" font-size="20.5">100</text>
<line x1="862.5" y1="224" x2="867.5" y2="224" stroke="#000" stroke-width="2"/>
<text x="873.5" y="228.5" font-size="20.5">37</text>
<text x="568.3" y="259.6" font-size="25.15" text-anchor="end">MG-132:</text>
<text x="583.6" y="259.9" font-size="25.15" text-anchor="middle">-</text>
<text x="621.1" y="259.6" font-size="25.15" text-anchor="middle">+</text>
<text x="658.6" y="259.9" font-size="25.15" text-anchor="middle">-</text>
<text x="696.1" y="259.6" font-size="25.15" text-anchor="middle">+</text>
<text x="733.6" y="259.9" font-size="25.15" text-anchor="middle">-</text>
<text x="771.1" y="259.6" font-size="25.15" text-anchor="middle">+</text>
<text x="808.6" y="259.9" font-size="25.15" text-anchor="middle">-</text>
<text x="846.1" y="259.6" font-size="25.15" text-anchor="middle">+</text>
<text x="568.3" y="282.6" font-size="25.15" text-anchor="end">I3A:</text>
<text x="583.6" y="282.9" font-size="25.15" text-anchor="middle">-</text>
<text x="621.1" y="282.9" font-size="25.15" text-anchor="middle">-</text>
<text x="658.6" y="282.6" font-size="25.15" text-anchor="middle">+</text>
<text x="696.1" y="282.6" font-size="25.15" text-anchor="middle">+</text>
<text x="733.6" y="282.9" font-size="25.15" text-anchor="middle">-</text>
<text x="771.1" y="282.9" font-size="25.15" text-anchor="middle">-</text>
<text x="808.6" y="282.6" font-size="25.15" text-anchor="middle">+</text>
<text x="846.1" y="282.6" font-size="25.15" text-anchor="middle">+</text>
<text x="568.3" y="305.9" font-size="25.15" text-anchor="end">EHEC:</text>
<text x="583.6" y="306.2" font-size="25.15" text-anchor="middle">-</text>
<text x="621.1" y="306.2" font-size="25.15" text-anchor="middle">-</text>
<text x="658.6" y="306.2" font-size="25.15" text-anchor="middle">-</text>
<text x="696.1" y="306.2" font-size="25.15" text-anchor="middle">-</text>
<text x="733.6" y="305.9" font-size="25.15" text-anchor="middle">+</text>
<text x="771.1" y="305.9" font-size="25.15" text-anchor="middle">+</text>
<text x="808.6" y="305.9" font-size="25.15" text-anchor="middle">+</text>
<text x="846.1" y="305.9" font-size="25.15" text-anchor="middle">+</text>
<text x="559.5" y="485.1" font-size="25" text-anchor="end">PKCθ</text>
<text x="559.5" y="535.95" font-size="25" text-anchor="end">β-actin</text>
<text x="866.5" y="447.5" font-size="20.8">kDa</text>
<line x1="862.5" y1="466.7" x2="867.5" y2="466.7" stroke="#000" stroke-width="2"/>
<text x="868" y="473" font-size="20.5">100</text>
<line x1="862.5" y1="538" x2="867.5" y2="538" stroke="#000" stroke-width="2"/>
<text x="873.5" y="544.2" font-size="20.5">37</text>
<text x="568.3" y="574.3" font-size="25.15" text-anchor="end">MG-132:</text>
<text x="583.6" y="574.6" font-size="25.15" text-anchor="middle">-</text>
<text x="621.1" y="574.3" font-size="25.15" text-anchor="middle">+</text>
<text x="658.6" y="574.6" font-size="25.15" text-anchor="middle">-</text>
<text x="696.1" y="574.3" font-size="25.15" text-anchor="middle">+</text>
<text x="733.6" y="574.6" font-size="25.15" text-anchor="middle">-</text>
<text x="771.1" y="574.3" font-size="25.15" text-anchor="middle">+</text>
<text x="808.6" y="574.6" font-size="25.15" text-anchor="middle">-</text>
<text x="846.1" y="574.3" font-size="25.15" text-anchor="middle">+</text>
<text x="568.3" y="597.5" font-size="25.15" text-anchor="end">IPyA:</text>
<text x="583.6" y="597.8" font-size="25.15" text-anchor="middle">-</text>
<text x="621.1" y="597.8" font-size="25.15" text-anchor="middle">-</text>
<text x="658.6" y="597.5" font-size="25.15" text-anchor="middle">+</text>
<text x="696.1" y="597.5" font-size="25.15" text-anchor="middle">+</text>
<text x="733.6" y="597.8" font-size="25.15" text-anchor="middle">-</text>
<text x="771.1" y="597.8" font-size="25.15" text-anchor="middle">-</text>
<text x="808.6" y="597.5" font-size="25.15" text-anchor="middle">+</text>
<text x="846.1" y="597.5" font-size="25.15" text-anchor="middle">+</text>
<text x="568.3" y="620.8" font-size="25.15" text-anchor="end">EHEC:</text>
<text x="583.6" y="621.1" font-size="25.15" text-anchor="middle">-</text>
<text x="621.1" y="621.1" font-size="25.15" text-anchor="middle">-</text>
<text x="658.6" y="621.1" font-size="25.15" text-anchor="middle">-</text>
<text x="696.1" y="621.1" font-size="25.15" text-anchor="middle">-</text>
<text x="733.6" y="620.8" font-size="25.15" text-anchor="middle">+</text>
<text x="771.1" y="620.8" font-size="25.15" text-anchor="middle">+</text>
<text x="808.6" y="620.8" font-size="25.15" text-anchor="middle">+</text>
<text x="846.1" y="620.8" font-size="25.15" text-anchor="middle">+</text>
<text x="559.5" y="802.7" font-size="25" text-anchor="end">PKCθ</text>
<text x="559.5" y="853.2" font-size="25" text-anchor="end">β-actin</text>
<text x="866.5" y="765" font-size="20.8">kDa</text>
<line x1="862.5" y1="784.3" x2="867.5" y2="784.3" stroke="#000" stroke-width="2"/>
<text x="868" y="790.5" font-size="20.5">100</text>
<line x1="862.5" y1="854.5" x2="867.5" y2="854.5" stroke="#000" stroke-width="2"/>
<text x="873.5" y="859.8" font-size="20.5">37</text>
<text x="568.3" y="891.8" font-size="25.15" text-anchor="end">MG-132:</text>
<text x="583.6" y="892.1" font-size="25.15" text-anchor="middle">-</text>
<text x="621.1" y="891.8" font-size="25.15" text-anchor="middle">+</text>
<text x="658.6" y="892.1" font-size="25.15" text-anchor="middle">-</text>
<text x="696.1" y="891.8" font-size="25.15" text-anchor="middle">+</text>
<text x="733.6" y="892.1" font-size="25.15" text-anchor="middle">-</text>
<text x="771.1" y="891.8" font-size="25.15" text-anchor="middle">+</text>
<text x="808.6" y="892.1" font-size="25.15" text-anchor="middle">-</text>
<text x="846.1" y="891.8" font-size="25.15" text-anchor="middle">+</text>
<text x="568.3" y="914.8" font-size="25.15" text-anchor="end">IEt:</text>
<text x="583.6" y="915.1" font-size="25.15" text-anchor="middle">-</text>
<text x="621.1" y="915.1" font-size="25.15" text-anchor="middle">-</text>
<text x="658.6" y="914.8" font-size="25.15" text-anchor="middle">+</text>
<text x="696.1" y="914.8" font-size="25.15" text-anchor="middle">+</text>
<text x="733.6" y="915.1" font-size="25.15" text-anchor="middle">-</text>
<text x="771.1" y="915.1" font-size="25.15" text-anchor="middle">-</text>
<text x="808.6" y="914.8" font-size="25.15" text-anchor="middle">+</text>
<text x="846.1" y="914.8" font-size="25.15" text-anchor="middle">+</text>
<text x="568.3" y="937.9" font-size="25.15" text-anchor="end">EHEC:</text>
<text x="583.6" y="938.2" font-size="25.15" text-anchor="middle">-</text>
<text x="621.1" y="938.2" font-size="25.15" text-anchor="middle">-</text>
<text x="658.6" y="938.2" font-size="25.15" text-anchor="middle">-</text>
<text x="696.1" y="938.2" font-size="25.15" text-anchor="middle">-</text>
<text x="733.6" y="937.9" font-size="25.15" text-anchor="middle">+</text>
<text x="771.1" y="937.9" font-size="25.15" text-anchor="middle">+</text>
<text x="808.6" y="937.9" font-size="25.15" text-anchor="middle">+</text>
<text x="846.1" y="937.9" font-size="25.15" text-anchor="middle">+</text>
<rect x="1469.8" y="97.8" width="294.4" height="30" fill="#cdcdcd" stroke="none" stroke-width="0"/>
<g filter="url(#bl3)" opacity="0.05">
<rect x="1479.5" y="99.8" width="26" height="26" fill="#000" stroke="none" stroke-width="0"/>
<rect x="1514.5" y="99.8" width="26" height="26" fill="#000" stroke="none" stroke-width="0"/>
<rect x="1549.5" y="99.8" width="26" height="26" fill="#000" stroke="none" stroke-width="0"/>
<rect x="1584.5" y="99.8" width="26" height="26" fill="#000" stroke="none" stroke-width="0"/>
<rect x="1619.5" y="99.8" width="26" height="26" fill="#000" stroke="none" stroke-width="0"/>
<rect x="1654.5" y="99.8" width="26" height="26" fill="#000" stroke="none" stroke-width="0"/>
<rect x="1689.5" y="99.8" width="26" height="26" fill="#000" stroke="none" stroke-width="0"/>
<rect x="1724.5" y="99.8" width="26" height="26" fill="#000" stroke="none" stroke-width="0"/>
</g>
<g filter="url(#bl3)" opacity="0.06">
<rect x="1507" y="99.8" width="6" height="26" fill="#fff" stroke="none" stroke-width="0"/>
<rect x="1542" y="99.8" width="6" height="26" fill="#fff" stroke="none" stroke-width="0"/>
<rect x="1577" y="99.8" width="6" height="26" fill="#fff" stroke="none" stroke-width="0"/>
<rect x="1612" y="99.8" width="6" height="26" fill="#fff" stroke="none" stroke-width="0"/>
<rect x="1647" y="99.8" width="6" height="26" fill="#fff" stroke="none" stroke-width="0"/>
<rect x="1682" y="99.8" width="6" height="26" fill="#fff" stroke="none" stroke-width="0"/>
<rect x="1717" y="99.8" width="6" height="26" fill="#fff" stroke="none" stroke-width="0"/>
</g>
<g filter="url(#bl)">
<rect x="1482.5" y="108.4" width="20" height="8" rx="4" fill="#1a1a1a" opacity="0.24"/>
<rect x="1517.5" y="108.4" width="20" height="8" rx="4" fill="#1a1a1a" opacity="0.21"/>
<rect x="1550.5" y="108.4" width="24" height="8" rx="4" fill="#1a1a1a" opacity="0.68"/>
<rect x="1585.5" y="108.4" width="24" height="8" rx="4" fill="#1a1a1a" opacity="0.66"/>
<rect x="1621.5" y="108.4" width="22" height="8" rx="4" fill="#1a1a1a" opacity="0.33"/>
<rect x="1656.5" y="108.4" width="22" height="8" rx="4" fill="#1a1a1a" opacity="0.27"/>
<rect x="1690.5" y="108.4" width="24" height="8" rx="4" fill="#1a1a1a" opacity="0.68"/>
<rect x="1725.5" y="108.4" width="24" height="8" rx="4" fill="#1a1a1a" opacity="0.68"/>
</g>
<rect x="1469.8" y="97.8" width="294.4" height="30" fill="none" stroke="#1a1a1a" stroke-width="1.7"/>
<rect x="1469.8" y="149" width="294.4" height="30.4" fill="#cdcdcd" stroke="none" stroke-width="0"/>
<g filter="url(#bl3)" opacity="0.05">
<rect x="1480.5" y="151" width="24" height="26.4" fill="#000" stroke="none" stroke-width="0"/>
<rect x="1515.5" y="151" width="24" height="26.4" fill="#000" stroke="none" stroke-width="0"/>
<rect x="1550.5" y="151" width="24" height="26.4" fill="#000" stroke="none" stroke-width="0"/>
<rect x="1585.5" y="151" width="24" height="26.4" fill="#000" stroke="none" stroke-width="0"/>
<rect x="1620.5" y="151" width="24" height="26.4" fill="#000" stroke="none" stroke-width="0"/>
<rect x="1655.5" y="151" width="24" height="26.4" fill="#000" stroke="none" stroke-width="0"/>
<rect x="1690.5" y="151" width="24" height="26.4" fill="#000" stroke="none" stroke-width="0"/>
<rect x="1725.5" y="151" width="24" height="26.4" fill="#000" stroke="none" stroke-width="0"/>
</g>
<g filter="url(#bl3)" opacity="0.06">
<rect x="1507" y="151" width="6" height="26.4" fill="#fff" stroke="none" stroke-width="0"/>
<rect x="1542" y="151" width="6" height="26.4" fill="#fff" stroke="none" stroke-width="0"/>
<rect x="1577" y="151" width="6" height="26.4" fill="#fff" stroke="none" stroke-width="0"/>
<rect x="1612" y="151" width="6" height="26.4" fill="#fff" stroke="none" stroke-width="0"/>
<rect x="1647" y="151" width="6" height="26.4" fill="#fff" stroke="none" stroke-width="0"/>
<rect x="1682" y="151" width="6" height="26.4" fill="#fff" stroke="none" stroke-width="0"/>
<rect x="1717" y="151" width="6" height="26.4" fill="#fff" stroke="none" stroke-width="0"/>
</g>
<g filter="url(#bl2)">
<rect x="1483" y="155.5" width="19" height="9.5" fill="#1a1a1a" stroke="none" stroke-width="0" opacity="0.22"/>
<rect x="1518" y="153.5" width="19" height="9.5" fill="#1a1a1a" stroke="none" stroke-width="0" opacity="0.22"/>
<rect x="1553" y="153.5" width="19" height="9.5" fill="#1a1a1a" stroke="none" stroke-width="0" opacity="0.22"/>
<rect x="1588" y="153.5" width="19" height="9.5" fill="#1a1a1a" stroke="none" stroke-width="0" opacity="0.22"/>
<rect x="1623" y="153.5" width="19" height="9.5" fill="#1a1a1a" stroke="none" stroke-width="0" opacity="0.22"/>
<rect x="1658" y="153.5" width="19" height="9.5" fill="#1a1a1a" stroke="none" stroke-width="0" opacity="0.22"/>
<rect x="1693" y="154.5" width="19" height="9.5" fill="#1a1a1a" stroke="none" stroke-width="0" opacity="0.22"/>
<rect x="1728" y="156.5" width="19" height="9.5" fill="#1a1a1a" stroke="none" stroke-width="0" opacity="0.22"/>
</g>
<g filter="url(#bl)">
<rect x="1483" y="160.5" width="19" height="9" rx="4.5" fill="#1a1a1a" opacity="0.68"/>
<rect x="1518" y="158.5" width="19" height="9" rx="4.5" fill="#1a1a1a" opacity="0.68"/>
<rect x="1553" y="158.5" width="19" height="9" rx="4.5" fill="#1a1a1a" opacity="0.68"/>
<rect x="1588" y="158.5" width="19" height="9" rx="4.5" fill="#1a1a1a" opacity="0.68"/>
<rect x="1623" y="158.5" width="19" height="9" rx="4.5" fill="#1a1a1a" opacity="0.68"/>
<rect x="1658" y="158.5" width="19" height="9" rx="4.5" fill="#1a1a1a" opacity="0.68"/>
<rect x="1693" y="159.5" width="19" height="9" rx="4.5" fill="#1a1a1a" opacity="0.68"/>
<rect x="1728" y="161.5" width="19" height="9" rx="4.5" fill="#1a1a1a" opacity="0.68"/>
</g>
<rect x="1469.8" y="149" width="294.4" height="30.4" fill="none" stroke="#1a1a1a" stroke-width="1.7"/>
<rect x="1469.8" y="201" width="294.4" height="30" fill="#cdcdcd" stroke="none" stroke-width="0"/>
<g filter="url(#bl3)" opacity="0.05">
<rect x="1480.5" y="203" width="24" height="26" fill="#000" stroke="none" stroke-width="0"/>
<rect x="1515.5" y="203" width="24" height="26" fill="#000" stroke="none" stroke-width="0"/>
<rect x="1550.5" y="203" width="24" height="26" fill="#000" stroke="none" stroke-width="0"/>
<rect x="1585.5" y="203" width="24" height="26" fill="#000" stroke="none" stroke-width="0"/>
<rect x="1620.5" y="203" width="24" height="26" fill="#000" stroke="none" stroke-width="0"/>
<rect x="1655.5" y="203" width="24" height="26" fill="#000" stroke="none" stroke-width="0"/>
<rect x="1690.5" y="203" width="24" height="26" fill="#000" stroke="none" stroke-width="0"/>
<rect x="1725.5" y="203" width="24" height="26" fill="#000" stroke="none" stroke-width="0"/>
</g>
<g filter="url(#bl3)" opacity="0.06">
<rect x="1507" y="203" width="6" height="26" fill="#fff" stroke="none" stroke-width="0"/>
<rect x="1542" y="203" width="6" height="26" fill="#fff" stroke="none" stroke-width="0"/>
<rect x="1577" y="203" width="6" height="26" fill="#fff" stroke="none" stroke-width="0"/>
<rect x="1612" y="203" width="6" height="26" fill="#fff" stroke="none" stroke-width="0"/>
<rect x="1647" y="203" width="6" height="26" fill="#fff" stroke="none" stroke-width="0"/>
<rect x="1682" y="203" width="6" height="26" fill="#fff" stroke="none" stroke-width="0"/>
<rect x="1717" y="203" width="6" height="26" fill="#fff" stroke="none" stroke-width="0"/>
</g>
<g filter="url(#bl2)">
<rect x="1482.5" y="208.5" width="20" height="9.5" fill="#1a1a1a" stroke="none" stroke-width="0" opacity="0.22"/>
<rect x="1517.5" y="208" width="20" height="9.5" fill="#1a1a1a" stroke="none" stroke-width="0" opacity="0.22"/>
<rect x="1552.5" y="205.5" width="20" height="9.5" fill="#1a1a1a" stroke="none" stroke-width="0" opacity="0.22"/>
<rect x="1587.5" y="204.5" width="20" height="9.5" fill="#1a1a1a" stroke="none" stroke-width="0" opacity="0.22"/>
<rect x="1622.5" y="205.5" width="20" height="9.5" fill="#1a1a1a" stroke="none" stroke-width="0" opacity="0.22"/>
<rect x="1657.5" y="208.5" width="20" height="9.5" fill="#1a1a1a" stroke="none" stroke-width="0" opacity="0.22"/>
<rect x="1692.5" y="208.5" width="20" height="9.5" fill="#1a1a1a" stroke="none" stroke-width="0" opacity="0.22"/>
<rect x="1727.5" y="208.5" width="20" height="9.5" fill="#1a1a1a" stroke="none" stroke-width="0" opacity="0.22"/>
</g>
<g filter="url(#bl)">
<rect x="1482.5" y="214.5" width="20" height="7" rx="3.5" fill="#1a1a1a" opacity="0.68"/>
<rect x="1517.5" y="214" width="20" height="7" rx="3.5" fill="#1a1a1a" opacity="0.68"/>
<rect x="1552.5" y="211.5" width="20" height="7" rx="3.5" fill="#1a1a1a" opacity="0.68"/>
<rect x="1587.5" y="210.5" width="20" height="7" rx="3.5" fill="#1a1a1a" opacity="0.68"/>
<rect x="1622.5" y="211.5" width="20" height="7" rx="3.5" fill="#1a1a1a" opacity="0.68"/>
<rect x="1657.5" y="214.5" width="20" height="7" rx="3.5" fill="#1a1a1a" opacity="0.68"/>
<rect x="1692.5" y="214.5" width="20" height="7" rx="3.5" fill="#1a1a1a" opacity="0.68"/>
<rect x="1727.5" y="214.5" width="20" height="7" rx="3.5" fill="#1a1a1a" opacity="0.68"/>
</g>
<rect x="1469.8" y="201" width="294.4" height="30" fill="none" stroke="#1a1a1a" stroke-width="1.7"/>
<rect x="1469.8" y="399.9" width="294.4" height="29.9" fill="#c8c8c8" stroke="none" stroke-width="0"/>
<g filter="url(#bl3)" opacity="0.05">
<rect x="1482" y="401.9" width="26" height="25.9" fill="#000" stroke="none" stroke-width="0"/>
<rect x="1516.7" y="401.9" width="26" height="25.9" fill="#000" stroke="none" stroke-width="0"/>
<rect x="1551.4" y="401.9" width="26" height="25.9" fill="#000" stroke="none" stroke-width="0"/>
<rect x="1586.1" y="401.9" width="26" height="25.9" fill="#000" stroke="none" stroke-width="0"/>
<rect x="1620.8" y="401.9" width="26" height="25.9" fill="#000" stroke="none" stroke-width="0"/>
<rect x="1655.5" y="401.9" width="26" height="25.9" fill="#000" stroke="none" stroke-width="0"/>
<rect x="1690.2" y="401.9" width="26" height="25.9" fill="#000" stroke="none" stroke-width="0"/>
<rect x="1724.9" y="401.9" width="26" height="25.9" fill="#000" stroke="none" stroke-width="0"/>
</g>
<g filter="url(#bl3)" opacity="0.06">
<rect x="1509.35" y="401.9" width="6" height="25.9" fill="#fff" stroke="none" stroke-width="0"/>
<rect x="1544.05" y="401.9" width="6" height="25.9" fill="#fff" stroke="none" stroke-width="0"/>
<rect x="1578.75" y="401.9" width="6" height="25.9" fill="#fff" stroke="none" stroke-width="0"/>
<rect x="1613.45" y="401.9" width="6" height="25.9" fill="#fff" stroke="none" stroke-width="0"/>
<rect x="1648.15" y="401.9" width="6" height="25.9" fill="#fff" stroke="none" stroke-width="0"/>
<rect x="1682.85" y="401.9" width="6" height="25.9" fill="#fff" stroke="none" stroke-width="0"/>
<rect x="1717.55" y="401.9" width="6" height="25.9" fill="#fff" stroke="none" stroke-width="0"/>
</g>
<g filter="url(#bl)">
<rect x="1484" y="413" width="22" height="9" rx="4.5" fill="#1a1a1a" opacity="0.38"/>
<rect x="1518.7" y="413" width="22" height="9" rx="4.5" fill="#1a1a1a" opacity="0.36"/>
<rect x="1552.4" y="411.5" width="24" height="12" rx="6" fill="#1a1a1a" opacity="0.74"/>
<rect x="1586.6" y="411.5" width="25" height="12" rx="6" fill="#1a1a1a" opacity="0.74"/>
<rect x="1622.8" y="413" width="22" height="9" rx="4.5" fill="#1a1a1a" opacity="0.38"/>
<rect x="1657.5" y="413" width="22" height="9" rx="4.5" fill="#1a1a1a" opacity="0.36"/>
<rect x="1691.2" y="411.5" width="24" height="12" rx="6" fill="#1a1a1a" opacity="0.74"/>
<rect x="1725.9" y="411.5" width="24" height="12" rx="6" fill="#1a1a1a" opacity="0.71"/>
</g>
<rect x="1469.8" y="399.9" width="294.4" height="29.9" fill="none" stroke="#1a1a1a" stroke-width="1.7"/>
<rect x="1469.8" y="451.3" width="294.4" height="30.1" fill="#bababa" stroke="none" stroke-width="0"/>
<g filter="url(#bl3)" opacity="0.05">
<rect x="1482" y="453.3" width="26" height="26.1" fill="#000" stroke="none" stroke-width="0"/>
<rect x="1516.7" y="453.3" width="26" height="26.1" fill="#000" stroke="none" stroke-width="0"/>
<rect x="1551.4" y="453.3" width="26" height="26.1" fill="#000" stroke="none" stroke-width="0"/>
<rect x="1586.1" y="453.3" width="26" height="26.1" fill="#000" stroke="none" stroke-width="0"/>
<rect x="1620.8" y="453.3" width="26" height="26.1" fill="#000" stroke="none" stroke-width="0"/>
<rect x="1655.5" y="453.3" width="26" height="26.1" fill="#000" stroke="none" stroke-width="0"/>
<rect x="1690.2" y="453.3" width="26" height="26.1" fill="#000" stroke="none" stroke-width="0"/>
<rect x="1724.9" y="453.3" width="26" height="26.1" fill="#000" stroke="none" stroke-width="0"/>
</g>
<g filter="url(#bl3)" opacity="0.06">
<rect x="1509.35" y="453.3" width="6" height="26.1" fill="#fff" stroke="none" stroke-width="0"/>
<rect x="1544.05" y="453.3" width="6" height="26.1" fill="#fff" stroke="none" stroke-width="0"/>
<rect x="1578.75" y="453.3" width="6" height="26.1" fill="#fff" stroke="none" stroke-width="0"/>
<rect x="1613.45" y="453.3" width="6" height="26.1" fill="#fff" stroke="none" stroke-width="0"/>
<rect x="1648.15" y="453.3" width="6" height="26.1" fill="#fff" stroke="none" stroke-width="0"/>
<rect x="1682.85" y="453.3" width="6" height="26.1" fill="#fff" stroke="none" stroke-width="0"/>
<rect x="1717.55" y="453.3" width="6" height="26.1" fill="#fff" stroke="none" stroke-width="0"/>
</g>
<g filter="url(#bl)">
<rect x="1482.5" y="461.5" width="25" height="9" rx="4.5" fill="#1a1a1a" opacity="0.78"/>
<rect x="1517.2" y="461.5" width="25" height="9" rx="4.5" fill="#1a1a1a" opacity="0.78"/>
<rect x="1551.9" y="461.5" width="25" height="9" rx="4.5" fill="#1a1a1a" opacity="0.78"/>
<rect x="1586.6" y="461.5" width="25" height="9" rx="4.5" fill="#1a1a1a" opacity="0.78"/>
<rect x="1621.3" y="461.5" width="25" height="9" rx="4.5" fill="#1a1a1a" opacity="0.78"/>
<rect x="1656" y="461.5" width="25" height="9" rx="4.5" fill="#1a1a1a" opacity="0.78"/>
<rect x="1690.7" y="461.5" width="25" height="9" rx="4.5" fill="#1a1a1a" opacity="0.78"/>
<rect x="1725.4" y="461.5" width="25" height="9" rx="4.5" fill="#1a1a1a" opacity="0.78"/>
</g>
<rect x="1469.8" y="451.3" width="294.4" height="30.1" fill="none" stroke="#1a1a1a" stroke-width="1.7"/>
<rect x="1469.8" y="503.4" width="294.4" height="42.1" fill="#bcbcbc" stroke="none" stroke-width="0"/>
<g filter="url(#bl3)" opacity="0.06">
<rect x="1481" y="505.4" width="28" height="38.1" fill="#000" stroke="none" stroke-width="0"/>
<rect x="1515.7" y="505.4" width="28" height="38.1" fill="#000" stroke="none" stroke-width="0"/>
<rect x="1550.4" y="505.4" width="28" height="38.1" fill="#000" stroke="none" stroke-width="0"/>
<rect x="1585.1" y="505.4" width="28" height="38.1" fill="#000" stroke="none" stroke-width="0"/>
<rect x="1619.8" y="505.4" width="28" height="38.1" fill="#000" stroke="none" stroke-width="0"/>
<rect x="1654.5" y="505.4" width="28" height="38.1" fill="#000" stroke="none" stroke-width="0"/>
<rect x="1689.2" y="505.4" width="28" height="38.1" fill="#000" stroke="none" stroke-width="0"/>
<rect x="1723.9" y="505.4" width="28" height="38.1" fill="#000" stroke="none" stroke-width="0"/>
</g>
<g filter="url(#bl3)" opacity="0.06">
<rect x="1509.35" y="505.4" width="6" height="38.1" fill="#fff" stroke="none" stroke-width="0"/>
<rect x="1544.05" y="505.4" width="6" height="38.1" fill="#fff" stroke="none" stroke-width="0"/>
<rect x="1578.75" y="505.4" width="6" height="38.1" fill="#fff" stroke="none" stroke-width="0"/>
<rect x="1613.45" y="505.4" width="6" height="38.1" fill="#fff" stroke="none" stroke-width="0"/>
<rect x="1648.15" y="505.4" width="6" height="38.1" fill="#fff" stroke="none" stroke-width="0"/>
<rect x="1682.85" y="505.4" width="6" height="38.1" fill="#fff" stroke="none" stroke-width="0"/>
<rect x="1717.55" y="505.4" width="6" height="38.1" fill="#fff" stroke="none" stroke-width="0"/>
</g>
<g filter="url(#bl)">
<rect x="1481" y="519" width="28" height="19" rx="6" fill="#1a1a1a" opacity="0.76"/>
<rect x="1515.7" y="519" width="28" height="19" rx="6" fill="#1a1a1a" opacity="0.76"/>
<rect x="1550.4" y="519" width="28" height="19" rx="6" fill="#1a1a1a" opacity="0.76"/>
<rect x="1585.1" y="519" width="28" height="19" rx="6" fill="#1a1a1a" opacity="0.76"/>
<rect x="1619.8" y="519" width="28" height="19" rx="6" fill="#1a1a1a" opacity="0.76"/>
<rect x="1654.5" y="519" width="28" height="19" rx="6" fill="#1a1a1a" opacity="0.76"/>
<rect x="1689.2" y="519" width="28" height="19" rx="6" fill="#1a1a1a" opacity="0.76"/>
<rect x="1723.9" y="519" width="28" height="19" rx="6" fill="#1a1a1a" opacity="0.76"/>
</g>
<rect x="1469.8" y="503.4" width="294.4" height="42.1" fill="none" stroke="#1a1a1a" stroke-width="1.7"/>
<rect x="1469.8" y="712.7" width="294.4" height="30.5" fill="#cdcdcd" stroke="none" stroke-width="0"/>
<g filter="url(#bl3)" opacity="0.05">
<rect x="1481.6" y="714.7" width="26" height="26.5" fill="#000" stroke="none" stroke-width="0"/>
<rect x="1516.8" y="714.7" width="26" height="26.5" fill="#000" stroke="none" stroke-width="0"/>
<rect x="1552" y="714.7" width="26" height="26.5" fill="#000" stroke="none" stroke-width="0"/>
<rect x="1587.2" y="714.7" width="26" height="26.5" fill="#000" stroke="none" stroke-width="0"/>
<rect x="1622.4" y="714.7" width="26" height="26.5" fill="#000" stroke="none" stroke-width="0"/>
<rect x="1657.6" y="714.7" width="26" height="26.5" fill="#000" stroke="none" stroke-width="0"/>
<rect x="1692.8" y="714.7" width="26" height="26.5" fill="#000" stroke="none" stroke-width="0"/>
<rect x="1728" y="714.7" width="26" height="26.5" fill="#000" stroke="none" stroke-width="0"/>
</g>
<g filter="url(#bl3)" opacity="0.06">
<rect x="1509.2" y="714.7" width="6" height="26.5" fill="#fff" stroke="none" stroke-width="0"/>
<rect x="1544.4" y="714.7" width="6" height="26.5" fill="#fff" stroke="none" stroke-width="0"/>
<rect x="1579.6" y="714.7" width="6" height="26.5" fill="#fff" stroke="none" stroke-width="0"/>
<rect x="1614.8" y="714.7" width="6" height="26.5" fill="#fff" stroke="none" stroke-width="0"/>
<rect x="1650" y="714.7" width="6" height="26.5" fill="#fff" stroke="none" stroke-width="0"/>
<rect x="1685.2" y="714.7" width="6" height="26.5" fill="#fff" stroke="none" stroke-width="0"/>
<rect x="1720.4" y="714.7" width="6" height="26.5" fill="#fff" stroke="none" stroke-width="0"/>
</g>
<g filter="url(#bl)">
<rect x="1484.1" y="725.2" width="21" height="6" rx="3" fill="#1a1a1a" opacity="0.28"/>
<rect x="1519.3" y="725.2" width="21" height="6" rx="3" fill="#1a1a1a" opacity="0.24"/>
<rect x="1553" y="724.2" width="24" height="8" rx="4" fill="#1a1a1a" opacity="0.76"/>
<rect x="1588.2" y="724.2" width="24" height="8" rx="4" fill="#1a1a1a" opacity="0.74"/>
<rect x="1623.9" y="725.2" width="23" height="6" rx="3" fill="#1a1a1a" opacity="0.36"/>
<rect x="1659.1" y="725.2" width="23" height="6" rx="3" fill="#1a1a1a" opacity="0.33"/>
<rect x="1693.8" y="724.2" width="24" height="8" rx="4" fill="#1a1a1a" opacity="0.76"/>
<rect x="1729" y="724.2" width="24" height="8" rx="4" fill="#1a1a1a" opacity="0.74"/>
</g>
<rect x="1469.8" y="712.7" width="294.4" height="30.5" fill="none" stroke="#1a1a1a" stroke-width="1.7"/>
<rect x="1469.8" y="764.8" width="294.4" height="30" fill="#cdcdcd" stroke="none" stroke-width="0"/>
<g filter="url(#bl3)" opacity="0.04">
<rect x="1482.6" y="766.8" width="24" height="26" fill="#000" stroke="none" stroke-width="0"/>
<rect x="1517.8" y="766.8" width="24" height="26" fill="#000" stroke="none" stroke-width="0"/>
<rect x="1553" y="766.8" width="24" height="26" fill="#000" stroke="none" stroke-width="0"/>
<rect x="1588.2" y="766.8" width="24" height="26" fill="#000" stroke="none" stroke-width="0"/>
<rect x="1623.4" y="766.8" width="24" height="26" fill="#000" stroke="none" stroke-width="0"/>
<rect x="1658.6" y="766.8" width="24" height="26" fill="#000" stroke="none" stroke-width="0"/>
<rect x="1693.8" y="766.8" width="24" height="26" fill="#000" stroke="none" stroke-width="0"/>
<rect x="1729" y="766.8" width="24" height="26" fill="#000" stroke="none" stroke-width="0"/>
</g>
<g filter="url(#bl3)" opacity="0.06">
<rect x="1509.2" y="766.8" width="6" height="26" fill="#fff" stroke="none" stroke-width="0"/>
<rect x="1544.4" y="766.8" width="6" height="26" fill="#fff" stroke="none" stroke-width="0"/>
<rect x="1579.6" y="766.8" width="6" height="26" fill="#fff" stroke="none" stroke-width="0"/>
<rect x="1614.8" y="766.8" width="6" height="26" fill="#fff" stroke="none" stroke-width="0"/>
<rect x="1650" y="766.8" width="6" height="26" fill="#fff" stroke="none" stroke-width="0"/>
<rect x="1685.2" y="766.8" width="6" height="26" fill="#fff" stroke="none" stroke-width="0"/>
<rect x="1720.4" y="766.8" width="6" height="26" fill="#fff" stroke="none" stroke-width="0"/>
</g>
<g filter="url(#bl)">
<rect x="1483.6" y="777.5" width="22" height="8" rx="4" fill="#1a1a1a" opacity="0.81"/>
<rect x="1518.8" y="777.5" width="22" height="8" rx="4" fill="#1a1a1a" opacity="0.81"/>
<rect x="1554" y="777.5" width="22" height="8" rx="4" fill="#1a1a1a" opacity="0.81"/>
<rect x="1589.2" y="777.5" width="22" height="8" rx="4" fill="#1a1a1a" opacity="0.81"/>
<rect x="1624.4" y="777.5" width="22" height="8" rx="4" fill="#1a1a1a" opacity="0.81"/>
<rect x="1659.6" y="777.5" width="22" height="8" rx="4" fill="#1a1a1a" opacity="0.81"/>
<rect x="1694.8" y="777.5" width="22" height="8" rx="4" fill="#1a1a1a" opacity="0.81"/>
<rect x="1730" y="777.5" width="22" height="8" rx="4" fill="#1a1a1a" opacity="0.81"/>
</g>
<rect x="1469.8" y="764.8" width="294.4" height="30" fill="none" stroke="#1a1a1a" stroke-width="1.7"/>
<rect x="1469.8" y="815.9" width="294.4" height="46.9" fill="#bababa" stroke="none" stroke-width="0"/>
<g filter="url(#bl3)" opacity="0.06">
<rect x="1479.6" y="817.9" width="30" height="42.9" fill="#000" stroke="none" stroke-width="0"/>
<rect x="1514.8" y="817.9" width="30" height="42.9" fill="#000" stroke="none" stroke-width="0"/>
<rect x="1550" y="817.9" width="30" height="42.9" fill="#000" stroke="none" stroke-width="0"/>
<rect x="1585.2" y="817.9" width="30" height="42.9" fill="#000" stroke="none" stroke-width="0"/>
<rect x="1620.4" y="817.9" width="30" height="42.9" fill="#000" stroke="none" stroke-width="0"/>
<rect x="1655.6" y="817.9" width="30" height="42.9" fill="#000" stroke="none" stroke-width="0"/>
<rect x="1690.8" y="817.9" width="30" height="42.9" fill="#000" stroke="none" stroke-width="0"/>
<rect x="1726" y="817.9" width="30" height="42.9" fill="#000" stroke="none" stroke-width="0"/>
</g>
<g filter="url(#bl3)" opacity="0.06">
<rect x="1509.2" y="817.9" width="6" height="42.9" fill="#fff" stroke="none" stroke-width="0"/>
<rect x="1544.4" y="817.9" width="6" height="42.9" fill="#fff" stroke="none" stroke-width="0"/>
<rect x="1579.6" y="817.9" width="6" height="42.9" fill="#fff" stroke="none" stroke-width="0"/>
<rect x="1614.8" y="817.9" width="6" height="42.9" fill="#fff" stroke="none" stroke-width="0"/>
<rect x="1650" y="817.9" width="6" height="42.9" fill="#fff" stroke="none" stroke-width="0"/>
<rect x="1685.2" y="817.9" width="6" height="42.9" fill="#fff" stroke="none" stroke-width="0"/>
<rect x="1720.4" y="817.9" width="6" height="42.9" fill="#fff" stroke="none" stroke-width="0"/>
</g>
<g filter="url(#bl)">
<rect x="1480.6" y="832" width="28" height="19" rx="6" fill="#1a1a1a" opacity="0.78"/>
<rect x="1515.8" y="832" width="28" height="19" rx="6" fill="#1a1a1a" opacity="0.78"/>
<rect x="1551" y="832" width="28" height="19" rx="6" fill="#1a1a1a" opacity="0.78"/>
<rect x="1586.2" y="832" width="28" height="19" rx="6" fill="#1a1a1a" opacity="0.78"/>
<rect x="1621.4" y="832" width="28" height="19" rx="6" fill="#1a1a1a" opacity="0.78"/>
<rect x="1656.6" y="830" width="28" height="19" rx="6" fill="#1a1a1a" opacity="0.78"/>
<rect x="1691.8" y="827.5" width="28" height="19" rx="6" fill="#1a1a1a" opacity="0.78"/>
<rect x="1727" y="828" width="28" height="19" rx="6" fill="#1a1a1a" opacity="0.78"/>
</g>
<rect x="1469.8" y="815.9" width="294.4" height="46.9" fill="none" stroke="#1a1a1a" stroke-width="1.7"/>
<text x="1463" y="118.8" font-size="25" text-anchor="end">pWIP</text>
<text x="1463" y="170.2" font-size="25" text-anchor="end">WIP</text>
<text x="1463" y="221.5" font-size="25" text-anchor="end">β-actin</text>
<text x="1764" y="82.3" font-size="20.8">kDa</text>
<line x1="1764.5" y1="100" x2="1769.5" y2="100" stroke="#000" stroke-width="2"/>
<text x="1770" y="107" font-size="20.5">75</text>
<line x1="1764.5" y1="174.4" x2="1769.5" y2="174.4" stroke="#000" stroke-width="2"/>
<text x="1770" y="179.4" font-size="20.5">50</text>
<line x1="1764.5" y1="222" x2="1769.5" y2="222" stroke="#000" stroke-width="2"/>
<text x="1770" y="227" font-size="20.5">37</text>
<text x="1471.2" y="259.6" font-size="25.15" text-anchor="end">MG-132:</text>
<text x="1485.8" y="259.9" font-size="25.15" text-anchor="middle">-</text>
<text x="1523.28" y="259.6" font-size="25.15" text-anchor="middle">+</text>
<text x="1560.76" y="259.9" font-size="25.15" text-anchor="middle">-</text>
<text x="1598.24" y="259.6" font-size="25.15" text-anchor="middle">+</text>
<text x="1635.72" y="259.9" font-size="25.15" text-anchor="middle">-</text>
<text x="1673.2" y="259.6" font-size="25.15" text-anchor="middle">+</text>
<text x="1710.68" y="259.9" font-size="25.15" text-anchor="middle">-</text>
<text x="1748.16" y="259.6" font-size="25.15" text-anchor="middle">+</text>
<text x="1471.2" y="282.6" font-size="25.15" text-anchor="end">I3A:</text>
<text x="1485.8" y="282.9" font-size="25.15" text-anchor="middle">-</text>
<text x="1523.28" y="282.9" font-size="25.15" text-anchor="middle">-</text>
<text x="1560.76" y="282.6" font-size="25.15" text-anchor="middle">+</text>
<text x="1598.24" y="282.6" font-size="25.15" text-anchor="middle">+</text>
<text x="1635.72" y="282.9" font-size="25.15" text-anchor="middle">-</text>
<text x="1673.2" y="282.9" font-size="25.15" text-anchor="middle">-</text>
<text x="1710.68" y="282.6" font-size="25.15" text-anchor="middle">+</text>
<text x="1748.16" y="282.6" font-size="25.15" text-anchor="middle">+</text>
<text x="1471.2" y="305.9" font-size="25.15" text-anchor="end">EHEC:</text>
<text x="1485.8" y="306.2" font-size="25.15" text-anchor="middle">-</text>
<text x="1523.28" y="306.2" font-size="25.15" text-anchor="middle">-</text>
<text x="1560.76" y="306.2" font-size="25.15" text-anchor="middle">-</text>
<text x="1598.24" y="306.2" font-size="25.15" text-anchor="middle">-</text>
<text x="1635.72" y="305.9" font-size="25.15" text-anchor="middle">+</text>
<text x="1673.2" y="305.9" font-size="25.15" text-anchor="middle">+</text>
<text x="1710.68" y="305.9" font-size="25.15" text-anchor="middle">+</text>
<text x="1748.16" y="305.9" font-size="25.15" text-anchor="middle">+</text>
<text x="1463" y="420.85" font-size="25" text-anchor="end">pWIP</text>
<text x="1463" y="472.4" font-size="25" text-anchor="end">WIP</text>
<text x="1463" y="529.65" font-size="25" text-anchor="end">β-actin</text>
<text x="1764" y="384.4" font-size="20.8">kDa</text>
<line x1="1764.5" y1="403.5" x2="1769.5" y2="403.5" stroke="#000" stroke-width="2"/>
<text x="1770" y="408.5" font-size="20.5">75</text>
<line x1="1764.5" y1="474.8" x2="1769.5" y2="474.8" stroke="#000" stroke-width="2"/>
<text x="1770" y="479.7" font-size="20.5">50</text>
<line x1="1764.5" y1="531.8" x2="1769.5" y2="531.8" stroke="#000" stroke-width="2"/>
<text x="1770" y="537.4" font-size="20.5">37</text>
<text x="1471.2" y="574.3" font-size="25.15" text-anchor="end">MG-132:</text>
<text x="1485.8" y="574.6" font-size="25.15" text-anchor="middle">-</text>
<text x="1523.28" y="574.3" font-size="25.15" text-anchor="middle">+</text>
<text x="1560.76" y="574.6" font-size="25.15" text-anchor="middle">-</text>
<text x="1598.24" y="574.3" font-size="25.15" text-anchor="middle">+</text>
<text x="1635.72" y="574.6" font-size="25.15" text-anchor="middle">-</text>
<text x="1673.2" y="574.3" font-size="25.15" text-anchor="middle">+</text>
<text x="1710.68" y="574.6" font-size="25.15" text-anchor="middle">-</text>
<text x="1748.16" y="574.3" font-size="25.15" text-anchor="middle">+</text>
<text x="1471.2" y="597.5" font-size="25.15" text-anchor="end">IPyA:</text>
<text x="1485.8" y="597.8" font-size="25.15" text-anchor="middle">-</text>
<text x="1523.28" y="597.8" font-size="25.15" text-anchor="middle">-</text>
<text x="1560.76" y="597.5" font-size="25.15" text-anchor="middle">+</text>
<text x="1598.24" y="597.5" font-size="25.15" text-anchor="middle">+</text>
<text x="1635.72" y="597.8" font-size="25.15" text-anchor="middle">-</text>
<text x="1673.2" y="597.8" font-size="25.15" text-anchor="middle">-</text>
<text x="1710.68" y="597.5" font-size="25.15" text-anchor="middle">+</text>
<text x="1748.16" y="597.5" font-size="25.15" text-anchor="middle">+</text>
<text x="1471.2" y="620.8" font-size="25.15" text-anchor="end">EHEC:</text>
<text x="1485.8" y="621.1" font-size="25.15" text-anchor="middle">-</text>
<text x="1523.28" y="621.1" font-size="25.15" text-anchor="middle">-</text>
<text x="1560.76" y="621.1" font-size="25.15" text-anchor="middle">-</text>
<text x="1598.24" y="621.1" font-size="25.15" text-anchor="middle">-</text>
<text x="1635.72" y="620.8" font-size="25.15" text-anchor="middle">+</text>
<text x="1673.2" y="620.8" font-size="25.15" text-anchor="middle">+</text>
<text x="1710.68" y="620.8" font-size="25.15" text-anchor="middle">+</text>
<text x="1748.16" y="620.8" font-size="25.15" text-anchor="middle">+</text>
<text x="1463" y="734.5" font-size="25" text-anchor="end">pWIP</text>
<text x="1463" y="785.8" font-size="25" text-anchor="end">WIP</text>
<text x="1463" y="844.85" font-size="25" text-anchor="end">β-actin</text>
<text x="1764" y="697.6" font-size="20.8">kDa</text>
<line x1="1764.5" y1="716" x2="1769.5" y2="716" stroke="#000" stroke-width="2"/>
<text x="1770" y="722" font-size="20.5">75</text>
<line x1="1764.5" y1="791" x2="1769.5" y2="791" stroke="#000" stroke-width="2"/>
<text x="1770" y="795.8" font-size="20.5">50</text>
<line x1="1764.5" y1="846.2" x2="1769.5" y2="846.2" stroke="#000" stroke-width="2"/>
<text x="1770" y="851" font-size="20.5">37</text>
<text x="1471.2" y="891.8" font-size="25.15" text-anchor="end">MG-132:</text>
<text x="1485.8" y="892.1" font-size="25.15" text-anchor="middle">-</text>
<text x="1523.28" y="891.8" font-size="25.15" text-anchor="middle">+</text>
<text x="1560.76" y="892.1" font-size="25.15" text-anchor="middle">-</text>
<text x="1598.24" y="891.8" font-size="25.15" text-anchor="middle">+</text>
<text x="1635.72" y="892.1" font-size="25.15" text-anchor="middle">-</text>
<text x="1673.2" y="891.8" font-size="25.15" text-anchor="middle">+</text>
<text x="1710.68" y="892.1" font-size="25.15" text-anchor="middle">-</text>
<text x="1748.16" y="891.8" font-size="25.15" text-anchor="middle">+</text>
<text x="1471.2" y="914.8" font-size="25.15" text-anchor="end">IEt:</text>
<text x="1485.8" y="915.1" font-size="25.15" text-anchor="middle">-</text>
<text x="1523.28" y="915.1" font-size="25.15" text-anchor="middle">-</text>
<text x="1560.76" y="914.8" font-size="25.15" text-anchor="middle">+</text>
<text x="1598.24" y="914.8" font-size="25.15" text-anchor="middle">+</text>
<text x="1635.72" y="915.1" font-size="25.15" text-anchor="middle">-</text>
<text x="1673.2" y="915.1" font-size="25.15" text-anchor="middle">-</text>
<text x="1710.68" y="914.8" font-size="25.15" text-anchor="middle">+</text>
<text x="1748.16" y="914.8" font-size="25.15" text-anchor="middle">+</text>
<text x="1471.2" y="937.9" font-size="25.15" text-anchor="end">EHEC:</text>
<text x="1485.8" y="938.2" font-size="25.15" text-anchor="middle">-</text>
<text x="1523.28" y="938.2" font-size="25.15" text-anchor="middle">-</text>
<text x="1560.76" y="938.2" font-size="25.15" text-anchor="middle">-</text>
<text x="1598.24" y="938.2" font-size="25.15" text-anchor="middle">-</text>
<text x="1635.72" y="937.9" font-size="25.15" text-anchor="middle">+</text>
<text x="1673.2" y="937.9" font-size="25.15" text-anchor="middle">+</text>
<text x="1710.68" y="937.9" font-size="25.15" text-anchor="middle">+</text>
<text x="1748.16" y="937.9" font-size="25.15" text-anchor="middle">+</text>
<rect x="567" y="1052.7" width="294.7" height="29.3" fill="#c8c8c8" stroke="none" stroke-width="0"/>
<g filter="url(#bl3)" opacity="0.16">
<rect x="574" y="1054.7" width="27" height="25.3" fill="#000" stroke="none" stroke-width="0"/>
<rect x="609.7" y="1054.7" width="27" height="25.3" fill="#000" stroke="none" stroke-width="0"/>
<rect x="645.4" y="1054.7" width="27" height="25.3" fill="#000" stroke="none" stroke-width="0"/>
<rect x="681.1" y="1054.7" width="27" height="25.3" fill="#000" stroke="none" stroke-width="0"/>
<rect x="716.8" y="1054.7" width="27" height="25.3" fill="#000" stroke="none" stroke-width="0"/>
<rect x="752.5" y="1054.7" width="27" height="25.3" fill="#000" stroke="none" stroke-width="0"/>
<rect x="788.2" y="1054.7" width="27" height="25.3" fill="#000" stroke="none" stroke-width="0"/>
<rect x="823.9" y="1054.7" width="27" height="25.3" fill="#000" stroke="none" stroke-width="0"/>
</g>
<g filter="url(#bl3)" opacity="0.12">
<rect x="602.35" y="1054.7" width="6" height="25.3" fill="#fff" stroke="none" stroke-width="0"/>
<rect x="638.05" y="1054.7" width="6" height="25.3" fill="#fff" stroke="none" stroke-width="0"/>
<rect x="673.75" y="1054.7" width="6" height="25.3" fill="#fff" stroke="none" stroke-width="0"/>
<rect x="709.45" y="1054.7" width="6" height="25.3" fill="#fff" stroke="none" stroke-width="0"/>
<rect x="745.15" y="1054.7" width="6" height="25.3" fill="#fff" stroke="none" stroke-width="0"/>
<rect x="780.85" y="1054.7" width="6" height="25.3" fill="#fff" stroke="none" stroke-width="0"/>
<rect x="816.55" y="1054.7" width="6" height="25.3" fill="#fff" stroke="none" stroke-width="0"/>
</g>
<g filter="url(#bl)">
<rect x="576.5" y="1067.5" width="22" height="9" rx="4.5" fill="#1a1a1a" opacity="0.52"/>
<rect x="611.7" y="1065" width="23" height="9" rx="4.5" fill="#1a1a1a" opacity="0.59"/>
<rect x="646.9" y="1062.5" width="24" height="9" rx="4.5" fill="#1a1a1a" opacity="0.66"/>
<rect x="682.6" y="1060.5" width="24" height="9" rx="4.5" fill="#1a1a1a" opacity="0.71"/>
<rect x="717.8" y="1059.5" width="25" height="9" rx="4.5" fill="#1a1a1a" opacity="0.71"/>
<rect x="753.5" y="1059.5" width="25" height="9" rx="4.5" fill="#1a1a1a" opacity="0.76"/>
<rect x="789.7" y="1058.5" width="24" height="9" rx="4.5" fill="#1a1a1a" opacity="0.62"/>
<rect x="824.9" y="1057.5" width="25" height="9" rx="4.5" fill="#1a1a1a" opacity="0.68"/>
</g>
<rect x="567" y="1052.7" width="294.7" height="29.3" fill="none" stroke="#1a1a1a" stroke-width="1.7"/>
<rect x="567" y="1104" width="294.7" height="30" fill="#c8c8c8" stroke="none" stroke-width="0"/>
<g filter="url(#bl3)" opacity="0.14">
<rect x="574" y="1106" width="27" height="26" fill="#000" stroke="none" stroke-width="0"/>
<rect x="609.7" y="1106" width="27" height="26" fill="#000" stroke="none" stroke-width="0"/>
<rect x="645.4" y="1106" width="27" height="26" fill="#000" stroke="none" stroke-width="0"/>
<rect x="681.1" y="1106" width="27" height="26" fill="#000" stroke="none" stroke-width="0"/>
<rect x="716.8" y="1106" width="27" height="26" fill="#000" stroke="none" stroke-width="0"/>
<rect x="752.5" y="1106" width="27" height="26" fill="#000" stroke="none" stroke-width="0"/>
<rect x="788.2" y="1106" width="27" height="26" fill="#000" stroke="none" stroke-width="0"/>
<rect x="823.9" y="1106" width="27" height="26" fill="#000" stroke="none" stroke-width="0"/>
</g>
<g filter="url(#bl3)" opacity="0.12">
<rect x="602.35" y="1106" width="6" height="26" fill="#fff" stroke="none" stroke-width="0"/>
<rect x="638.05" y="1106" width="6" height="26" fill="#fff" stroke="none" stroke-width="0"/>
<rect x="673.75" y="1106" width="6" height="26" fill="#fff" stroke="none" stroke-width="0"/>
<rect x="709.45" y="1106" width="6" height="26" fill="#fff" stroke="none" stroke-width="0"/>
<rect x="745.15" y="1106" width="6" height="26" fill="#fff" stroke="none" stroke-width="0"/>
<rect x="780.85" y="1106" width="6" height="26" fill="#fff" stroke="none" stroke-width="0"/>
<rect x="816.55" y="1106" width="6" height="26" fill="#fff" stroke="none" stroke-width="0"/>
</g>
<g filter="url(#bl)">
<rect x="575.5" y="1114" width="24" height="10" rx="5" fill="#1a1a1a" opacity="0.43"/>
<rect x="611.2" y="1114" width="24" height="10" rx="5" fill="#1a1a1a" opacity="0.62"/>
<rect x="646.9" y="1114" width="24" height="10" rx="5" fill="#1a1a1a" opacity="0.21"/>
<rect x="682.6" y="1114" width="24" height="10" rx="5" fill="#1a1a1a" opacity="0.62"/>
<rect x="718.3" y="1113.5" width="24" height="10" rx="5" fill="#1a1a1a" opacity="0.68"/>
<rect x="754" y="1113.5" width="24" height="10" rx="5" fill="#1a1a1a" opacity="0.84"/>
<rect x="789.7" y="1112.5" width="24" height="10" rx="5" fill="#1a1a1a" opacity="0.38"/>
<rect x="825.4" y="1110.5" width="24" height="10" rx="5" fill="#1a1a1a" opacity="0.76"/>
</g>
<rect x="567" y="1104" width="294.7" height="30" fill="none" stroke="#1a1a1a" stroke-width="1.7"/>
<rect x="567" y="1153" width="294.7" height="29.5" fill="#c8c8c8" stroke="none" stroke-width="0"/>
<g filter="url(#bl3)" opacity="0.14">
<rect x="574" y="1155" width="27" height="25.5" fill="#000" stroke="none" stroke-width="0"/>
<rect x="609.7" y="1155" width="27" height="25.5" fill="#000" stroke="none" stroke-width="0"/>
<rect x="645.4" y="1155" width="27" height="25.5" fill="#000" stroke="none" stroke-width="0"/>
<rect x="681.1" y="1155" width="27" height="25.5" fill="#000" stroke="none" stroke-width="0"/>
<rect x="716.8" y="1155" width="27" height="25.5" fill="#000" stroke="none" stroke-width="0"/>
<rect x="752.5" y="1155" width="27" height="25.5" fill="#000" stroke="none" stroke-width="0"/>
<rect x="788.2" y="1155" width="27" height="25.5" fill="#000" stroke="none" stroke-width="0"/>
<rect x="823.9" y="1155" width="27" height="25.5" fill="#000" stroke="none" stroke-width="0"/>
</g>
<g filter="url(#bl3)" opacity="0.12">
<rect x="602.35" y="1155" width="6" height="25.5" fill="#fff" stroke="none" stroke-width="0"/>
<rect x="638.05" y="1155" width="6" height="25.5" fill="#fff" stroke="none" stroke-width="0"/>
<rect x="673.75" y="1155" width="6" height="25.5" fill="#fff" stroke="none" stroke-width="0"/>
<rect x="709.45" y="1155" width="6" height="25.5" fill="#fff" stroke="none" stroke-width="0"/>
<rect x="745.15" y="1155" width="6" height="25.5" fill="#fff" stroke="none" stroke-width="0"/>
<rect x="780.85" y="1155" width="6" height="25.5" fill="#fff" stroke="none" stroke-width="0"/>
<rect x="816.55" y="1155" width="6" height="25.5" fill="#fff" stroke="none" stroke-width="0"/>
</g>
<g filter="url(#bl2)">
<rect x="576.5" y="1157.5" width="22" height="10" fill="#1a1a1a" stroke="none" stroke-width="0" opacity="0.22"/>
<rect x="612.2" y="1157.5" width="22" height="10" fill="#1a1a1a" stroke="none" stroke-width="0" opacity="0.22"/>
<rect x="647.9" y="1155.5" width="22" height="10" fill="#1a1a1a" stroke="none" stroke-width="0" opacity="0.22"/>
<rect x="683.6" y="1155.5" width="22" height="10" fill="#1a1a1a" stroke="none" stroke-width="0" opacity="0.22"/>
<rect x="719.3" y="1155" width="22" height="10" fill="#1a1a1a" stroke="none" stroke-width="0" opacity="0.22"/>
<rect x="755" y="1156.5" width="22" height="10" fill="#1a1a1a" stroke="none" stroke-width="0" opacity="0.22"/>
<rect x="790.7" y="1158" width="22" height="10" fill="#1a1a1a" stroke="none" stroke-width="0" opacity="0.22"/>
<rect x="826.4" y="1160" width="22" height="10" fill="#1a1a1a" stroke="none" stroke-width="0" opacity="0.22"/>
</g>
<g filter="url(#bl)">
<rect x="576.5" y="1163.5" width="22" height="8" rx="4" fill="#1a1a1a" opacity="0.71"/>
<rect x="612.2" y="1163.5" width="22" height="8" rx="4" fill="#1a1a1a" opacity="0.71"/>
<rect x="647.9" y="1161.5" width="22" height="8" rx="4" fill="#1a1a1a" opacity="0.71"/>
<rect x="683.6" y="1161.5" width="22" height="8" rx="4" fill="#1a1a1a" opacity="0.71"/>
<rect x="719.3" y="1161" width="22" height="8" rx="4" fill="#1a1a1a" opacity="0.71"/>
<rect x="755" y="1162.5" width="22" height="8" rx="4" fill="#1a1a1a" opacity="0.71"/>
<rect x="790.7" y="1164" width="22" height="8" rx="4" fill="#1a1a1a" opacity="0.71"/>
<rect x="826.4" y="1166" width="22" height="8" rx="4" fill="#1a1a1a" opacity="0.71"/>
</g>
<rect x="567" y="1153" width="294.7" height="29.5" fill="none" stroke="#1a1a1a" stroke-width="1.7"/>
<rect x="567" y="1364.2" width="294.7" height="29.8" fill="#cccccc" stroke="none" stroke-width="0"/>
<g filter="url(#bl3)" opacity="0.06">
<rect x="575" y="1366.2" width="25" height="25.8" fill="#000" stroke="none" stroke-width="0"/>
<rect x="610.7" y="1366.2" width="25" height="25.8" fill="#000" stroke="none" stroke-width="0"/>
<rect x="646.4" y="1366.2" width="25" height="25.8" fill="#000" stroke="none" stroke-width="0"/>
<rect x="682.1" y="1366.2" width="25" height="25.8" fill="#000" stroke="none" stroke-width="0"/>
<rect x="717.8" y="1366.2" width="25" height="25.8" fill="#000" stroke="none" stroke-width="0"/>
<rect x="753.5" y="1366.2" width="25" height="25.8" fill="#000" stroke="none" stroke-width="0"/>
<rect x="789.2" y="1366.2" width="25" height="25.8" fill="#000" stroke="none" stroke-width="0"/>
<rect x="824.9" y="1366.2" width="25" height="25.8" fill="#000" stroke="none" stroke-width="0"/>
</g>
<g filter="url(#bl3)" opacity="0.06">
<rect x="602.35" y="1366.2" width="6" height="25.8" fill="#fff" stroke="none" stroke-width="0"/>
<rect x="638.05" y="1366.2" width="6" height="25.8" fill="#fff" stroke="none" stroke-width="0"/>
<rect x="673.75" y="1366.2" width="6" height="25.8" fill="#fff" stroke="none" stroke-width="0"/>
<rect x="709.45" y="1366.2" width="6" height="25.8" fill="#fff" stroke="none" stroke-width="0"/>
<rect x="745.15" y="1366.2" width="6" height="25.8" fill="#fff" stroke="none" stroke-width="0"/>
<rect x="780.85" y="1366.2" width="6" height="25.8" fill="#fff" stroke="none" stroke-width="0"/>
<rect x="816.55" y="1366.2" width="6" height="25.8" fill="#fff" stroke="none" stroke-width="0"/>
</g>
<g filter="url(#bl)">
<rect x="577.5" y="1378" width="20" height="7" rx="3.5" fill="#1a1a1a" opacity="0.38"/>
<rect x="612.2" y="1377.5" width="22" height="7" rx="3.5" fill="#1a1a1a" opacity="0.43"/>
<rect x="647.4" y="1376.5" width="23" height="7" rx="3.5" fill="#1a1a1a" opacity="0.52"/>
<rect x="682.1" y="1376.5" width="25" height="7" rx="3.5" fill="#1a1a1a" opacity="0.55"/>
<rect x="718.3" y="1376" width="24" height="7" rx="3.5" fill="#1a1a1a" opacity="0.52"/>
<rect x="753.5" y="1377.5" width="25" height="7" rx="3.5" fill="#1a1a1a" opacity="0.57"/>
<rect x="790.2" y="1377.5" width="23" height="7" rx="3.5" fill="#1a1a1a" opacity="0.47"/>
<rect x="824.9" y="1378.5" width="25" height="7" rx="3.5" fill="#1a1a1a" opacity="0.52"/>
</g>
<rect x="567" y="1364.2" width="294.7" height="29.8" fill="none" stroke="#1a1a1a" stroke-width="1.7"/>
<rect x="567" y="1416.3" width="294.7" height="29.7" fill="#b8b8b8" stroke="none" stroke-width="0"/>
<g filter="url(#bl3)" opacity="0.08">
<rect x="574" y="1418.3" width="27" height="25.7" fill="#000" stroke="none" stroke-width="0"/>
<rect x="609.7" y="1418.3" width="27" height="25.7" fill="#000" stroke="none" stroke-width="0"/>
<rect x="645.4" y="1418.3" width="27" height="25.7" fill="#000" stroke="none" stroke-width="0"/>
<rect x="681.1" y="1418.3" width="27" height="25.7" fill="#000" stroke="none" stroke-width="0"/>
<rect x="716.8" y="1418.3" width="27" height="25.7" fill="#000" stroke="none" stroke-width="0"/>
<rect x="752.5" y="1418.3" width="27" height="25.7" fill="#000" stroke="none" stroke-width="0"/>
<rect x="788.2" y="1418.3" width="27" height="25.7" fill="#000" stroke="none" stroke-width="0"/>
<rect x="823.9" y="1418.3" width="27" height="25.7" fill="#000" stroke="none" stroke-width="0"/>
</g>
<g filter="url(#bl3)" opacity="0.06">
<rect x="602.35" y="1418.3" width="6" height="25.7" fill="#fff" stroke="none" stroke-width="0"/>
<rect x="638.05" y="1418.3" width="6" height="25.7" fill="#fff" stroke="none" stroke-width="0"/>
<rect x="673.75" y="1418.3" width="6" height="25.7" fill="#fff" stroke="none" stroke-width="0"/>
<rect x="709.45" y="1418.3" width="6" height="25.7" fill="#fff" stroke="none" stroke-width="0"/>
<rect x="745.15" y="1418.3" width="6" height="25.7" fill="#fff" stroke="none" stroke-width="0"/>
<rect x="780.85" y="1418.3" width="6" height="25.7" fill="#fff" stroke="none" stroke-width="0"/>
<rect x="816.55" y="1418.3" width="6" height="25.7" fill="#fff" stroke="none" stroke-width="0"/>
</g>
<g filter="url(#bl)">
<rect x="575.5" y="1423.5" width="24" height="13" rx="6" fill="#1a1a1a" opacity="0.47"/>
<rect x="611.2" y="1423.5" width="24" height="13" rx="6" fill="#1a1a1a" opacity="0.59"/>
<rect x="646.9" y="1423.5" width="24" height="13" rx="6" fill="#1a1a1a" opacity="0.21"/>
<rect x="682.6" y="1423.5" width="24" height="13" rx="6" fill="#1a1a1a" opacity="0.59"/>
<rect x="718.3" y="1423.5" width="24" height="13" rx="6" fill="#1a1a1a" opacity="0.66"/>
<rect x="754" y="1423.5" width="24" height="13" rx="6" fill="#1a1a1a" opacity="0.84"/>
<rect x="789.7" y="1423.5" width="24" height="13" rx="6" fill="#1a1a1a" opacity="0.43"/>
<rect x="825.4" y="1423.5" width="24" height="13" rx="6" fill="#1a1a1a" opacity="0.71"/>
</g>
<rect x="567" y="1416.3" width="294.7" height="29.7" fill="none" stroke="#1a1a1a" stroke-width="1.7"/>
<rect x="567" y="1465" width="294.7" height="30" fill="#c8c8c8" stroke="none" stroke-width="0"/>
<g filter="url(#bl3)" opacity="0.06">
<rect x="574.5" y="1467" width="26" height="26" fill="#000" stroke="none" stroke-width="0"/>
<rect x="610.2" y="1467" width="26" height="26" fill="#000" stroke="none" stroke-width="0"/>
<rect x="645.9" y="1467" width="26" height="26" fill="#000" stroke="none" stroke-width="0"/>
<rect x="681.6" y="1467" width="26" height="26" fill="#000" stroke="none" stroke-width="0"/>
<rect x="717.3" y="1467" width="26" height="26" fill="#000" stroke="none" stroke-width="0"/>
<rect x="753" y="1467" width="26" height="26" fill="#000" stroke="none" stroke-width="0"/>
<rect x="788.7" y="1467" width="26" height="26" fill="#000" stroke="none" stroke-width="0"/>
<rect x="824.4" y="1467" width="26" height="26" fill="#000" stroke="none" stroke-width="0"/>
</g>
<g filter="url(#bl3)" opacity="0.06">
<rect x="602.35" y="1467" width="6" height="26" fill="#fff" stroke="none" stroke-width="0"/>
<rect x="638.05" y="1467" width="6" height="26" fill="#fff" stroke="none" stroke-width="0"/>
<rect x="673.75" y="1467" width="6" height="26" fill="#fff" stroke="none" stroke-width="0"/>
<rect x="709.45" y="1467" width="6" height="26" fill="#fff" stroke="none" stroke-width="0"/>
<rect x="745.15" y="1467" width="6" height="26" fill="#fff" stroke="none" stroke-width="0"/>
<rect x="780.85" y="1467" width="6" height="26" fill="#fff" stroke="none" stroke-width="0"/>
<rect x="816.55" y="1467" width="6" height="26" fill="#fff" stroke="none" stroke-width="0"/>
</g>
<g filter="url(#bl)">
<rect x="575.5" y="1474" width="24" height="11" rx="5.5" fill="#1a1a1a" opacity="0.76"/>
<rect x="611.2" y="1474" width="24" height="11" rx="5.5" fill="#1a1a1a" opacity="0.76"/>
<rect x="646.9" y="1474" width="24" height="11" rx="5.5" fill="#1a1a1a" opacity="0.76"/>
<rect x="682.6" y="1474" width="24" height="11" rx="5.5" fill="#1a1a1a" opacity="0.76"/>
<rect x="718.3" y="1474" width="24" height="11" rx="5.5" fill="#1a1a1a" opacity="0.76"/>
<rect x="754" y="1474" width="24" height="11" rx="5.5" fill="#1a1a1a" opacity="0.76"/>
<rect x="789.7" y="1474" width="24" height="11" rx="5.5" fill="#1a1a1a" opacity="0.76"/>
<rect x="825.4" y="1474" width="24" height="11" rx="5.5" fill="#1a1a1a" opacity="0.76"/>
</g>
<rect x="567" y="1465" width="294.7" height="30" fill="none" stroke="#1a1a1a" stroke-width="1.7"/>
<rect x="567" y="1679.7" width="294.7" height="28.4" fill="#c4c4c4" stroke="none" stroke-width="0"/>
<g filter="url(#bl3)" opacity="0.05">
<rect x="575" y="1681.7" width="25" height="24.4" fill="#000" stroke="none" stroke-width="0"/>
<rect x="610.7" y="1681.7" width="25" height="24.4" fill="#000" stroke="none" stroke-width="0"/>
<rect x="646.4" y="1681.7" width="25" height="24.4" fill="#000" stroke="none" stroke-width="0"/>
<rect x="682.1" y="1681.7" width="25" height="24.4" fill="#000" stroke="none" stroke-width="0"/>
<rect x="717.8" y="1681.7" width="25" height="24.4" fill="#000" stroke="none" stroke-width="0"/>
<rect x="753.5" y="1681.7" width="25" height="24.4" fill="#000" stroke="none" stroke-width="0"/>
<rect x="789.2" y="1681.7" width="25" height="24.4" fill="#000" stroke="none" stroke-width="0"/>
<rect x="824.9" y="1681.7" width="25" height="24.4" fill="#000" stroke="none" stroke-width="0"/>
</g>
<g filter="url(#bl3)" opacity="0.06">
<rect x="602.35" y="1681.7" width="6" height="24.4" fill="#fff" stroke="none" stroke-width="0"/>
<rect x="638.05" y="1681.7" width="6" height="24.4" fill="#fff" stroke="none" stroke-width="0"/>
<rect x="673.75" y="1681.7" width="6" height="24.4" fill="#fff" stroke="none" stroke-width="0"/>
<rect x="709.45" y="1681.7" width="6" height="24.4" fill="#fff" stroke="none" stroke-width="0"/>
<rect x="745.15" y="1681.7" width="6" height="24.4" fill="#fff" stroke="none" stroke-width="0"/>
<rect x="780.85" y="1681.7" width="6" height="24.4" fill="#fff" stroke="none" stroke-width="0"/>
<rect x="816.55" y="1681.7" width="6" height="24.4" fill="#fff" stroke="none" stroke-width="0"/>
</g>
<g filter="url(#bl)">
<rect x="578.5" y="1690.5" width="18" height="9" rx="4.5" fill="#1a1a1a" opacity="0.33"/>
<rect x="613.2" y="1688.5" width="20" height="9" rx="4.5" fill="#1a1a1a" opacity="0.38"/>
<rect x="647.9" y="1687" width="22" height="9" rx="4.5" fill="#1a1a1a" opacity="0.47"/>
<rect x="682.6" y="1687" width="24" height="9" rx="4.5" fill="#1a1a1a" opacity="0.52"/>
<rect x="718.8" y="1686.5" width="23" height="9" rx="4.5" fill="#1a1a1a" opacity="0.47"/>
<rect x="754" y="1686.5" width="24" height="9" rx="4.5" fill="#1a1a1a" opacity="0.52"/>
<rect x="790.7" y="1687" width="22" height="9" rx="4.5" fill="#1a1a1a" opacity="0.43"/>
<rect x="825.4" y="1687" width="24" height="9" rx="4.5" fill="#1a1a1a" opacity="0.47"/>
</g>
<rect x="567" y="1679.7" width="294.7" height="28.4" fill="none" stroke="#1a1a1a" stroke-width="1.7"/>
<rect x="567" y="1731.3" width="294.7" height="29.7" fill="#c8c8c8" stroke="none" stroke-width="0"/>
<g filter="url(#bl3)" opacity="0.08">
<rect x="574.5" y="1733.3" width="26" height="25.7" fill="#000" stroke="none" stroke-width="0"/>
<rect x="610.2" y="1733.3" width="26" height="25.7" fill="#000" stroke="none" stroke-width="0"/>
<rect x="645.9" y="1733.3" width="26" height="25.7" fill="#000" stroke="none" stroke-width="0"/>
<rect x="681.6" y="1733.3" width="26" height="25.7" fill="#000" stroke="none" stroke-width="0"/>
<rect x="717.3" y="1733.3" width="26" height="25.7" fill="#000" stroke="none" stroke-width="0"/>
<rect x="753" y="1733.3" width="26" height="25.7" fill="#000" stroke="none" stroke-width="0"/>
<rect x="788.7" y="1733.3" width="26" height="25.7" fill="#000" stroke="none" stroke-width="0"/>
<rect x="824.4" y="1733.3" width="26" height="25.7" fill="#000" stroke="none" stroke-width="0"/>
</g>
<g filter="url(#bl3)" opacity="0.08">
<rect x="602.35" y="1733.3" width="6" height="25.7" fill="#fff" stroke="none" stroke-width="0"/>
<rect x="638.05" y="1733.3" width="6" height="25.7" fill="#fff" stroke="none" stroke-width="0"/>
<rect x="673.75" y="1733.3" width="6" height="25.7" fill="#fff" stroke="none" stroke-width="0"/>
<rect x="709.45" y="1733.3" width="6" height="25.7" fill="#fff" stroke="none" stroke-width="0"/>
<rect x="745.15" y="1733.3" width="6" height="25.7" fill="#fff" stroke="none" stroke-width="0"/>
<rect x="780.85" y="1733.3" width="6" height="25.7" fill="#fff" stroke="none" stroke-width="0"/>
<rect x="816.55" y="1733.3" width="6" height="25.7" fill="#fff" stroke="none" stroke-width="0"/>
</g>
<g filter="url(#bl)">
<rect x="575" y="1745" width="25" height="5" rx="2.5" fill="#1a1a1a" opacity="0.71"/>
<rect x="610.2" y="1745" width="26" height="5" rx="2.5" fill="#1a1a1a" opacity="0.76"/>
<rect x="646.9" y="1745.5" width="24" height="4" rx="2" fill="#1a1a1a" opacity="0.47"/>
<rect x="681.6" y="1745" width="26" height="5" rx="2.5" fill="#1a1a1a" opacity="0.57"/>
<rect x="716.8" y="1744.5" width="27" height="6" rx="3" fill="#1a1a1a" opacity="0.76"/>
<rect x="752.5" y="1744" width="27" height="7" rx="3.5" fill="#1a1a1a" opacity="0.9"/>
<rect x="788.7" y="1745.5" width="26" height="4" rx="2" fill="#1a1a1a" opacity="0.47"/>
<rect x="824.4" y="1744" width="26" height="7" rx="3.5" fill="#1a1a1a" opacity="0.9"/>
</g>
<rect x="567" y="1731.3" width="294.7" height="29.7" fill="none" stroke="#1a1a1a" stroke-width="1.7"/>
<rect x="567" y="1780" width="294.7" height="30" fill="#c6c6c6" stroke="none" stroke-width="0"/>
<g filter="url(#bl3)" opacity="0.06">
<rect x="574.5" y="1782" width="26" height="26" fill="#000" stroke="none" stroke-width="0"/>
<rect x="610.2" y="1782" width="26" height="26" fill="#000" stroke="none" stroke-width="0"/>
<rect x="645.9" y="1782" width="26" height="26" fill="#000" stroke="none" stroke-width="0"/>
<rect x="681.6" y="1782" width="26" height="26" fill="#000" stroke="none" stroke-width="0"/>
<rect x="717.3" y="1782" width="26" height="26" fill="#000" stroke="none" stroke-width="0"/>
<rect x="753" y="1782" width="26" height="26" fill="#000" stroke="none" stroke-width="0"/>
<rect x="788.7" y="1782" width="26" height="26" fill="#000" stroke="none" stroke-width="0"/>
<rect x="824.4" y="1782" width="26" height="26" fill="#000" stroke="none" stroke-width="0"/>
</g>
<g filter="url(#bl3)" opacity="0.06">
<rect x="602.35" y="1782" width="6" height="26" fill="#fff" stroke="none" stroke-width="0"/>
<rect x="638.05" y="1782" width="6" height="26" fill="#fff" stroke="none" stroke-width="0"/>
<rect x="673.75" y="1782" width="6" height="26" fill="#fff" stroke="none" stroke-width="0"/>
<rect x="709.45" y="1782" width="6" height="26" fill="#fff" stroke="none" stroke-width="0"/>
<rect x="745.15" y="1782" width="6" height="26" fill="#fff" stroke="none" stroke-width="0"/>
<rect x="780.85" y="1782" width="6" height="26" fill="#fff" stroke="none" stroke-width="0"/>
<rect x="816.55" y="1782" width="6" height="26" fill="#fff" stroke="none" stroke-width="0"/>
</g>
<g filter="url(#bl2)">
<rect x="575" y="1783" width="25" height="11.5" fill="#1a1a1a" stroke="none" stroke-width="0" opacity="0.3"/>
<rect x="610.7" y="1781.5" width="25" height="11.5" fill="#1a1a1a" stroke="none" stroke-width="0" opacity="0.3"/>
<rect x="646.4" y="1782.5" width="25" height="11.5" fill="#1a1a1a" stroke="none" stroke-width="0" opacity="0.3"/>
<rect x="682.1" y="1783.5" width="25" height="11.5" fill="#1a1a1a" stroke="none" stroke-width="0" opacity="0.3"/>
<rect x="717.8" y="1783" width="25" height="11.5" fill="#1a1a1a" stroke="none" stroke-width="0" opacity="0.3"/>
<rect x="753.5" y="1783" width="25" height="11.5" fill="#1a1a1a" stroke="none" stroke-width="0" opacity="0.3"/>
<rect x="789.2" y="1782.5" width="25" height="11.5" fill="#1a1a1a" stroke="none" stroke-width="0" opacity="0.3"/>
<rect x="824.9" y="1783" width="25" height="11.5" fill="#1a1a1a" stroke="none" stroke-width="0" opacity="0.3"/>
</g>
<g filter="url(#bl)">
<rect x="575" y="1788" width="25" height="13" rx="6" fill="#1a1a1a" opacity="0.81"/>
<rect x="610.7" y="1786.5" width="25" height="13" rx="6" fill="#1a1a1a" opacity="0.81"/>
<rect x="646.4" y="1787.5" width="25" height="13" rx="6" fill="#1a1a1a" opacity="0.81"/>
<rect x="682.1" y="1788.5" width="25" height="13" rx="6" fill="#1a1a1a" opacity="0.81"/>
<rect x="717.8" y="1788" width="25" height="13" rx="6" fill="#1a1a1a" opacity="0.81"/>
<rect x="753.5" y="1788" width="25" height="13" rx="6" fill="#1a1a1a" opacity="0.81"/>
<rect x="789.2" y="1787.5" width="25" height="13" rx="6" fill="#1a1a1a" opacity="0.81"/>
<rect x="824.9" y="1788" width="25" height="13" rx="6" fill="#1a1a1a" opacity="0.81"/>
</g>
<rect x="567" y="1780" width="294.7" height="30" fill="none" stroke="#1a1a1a" stroke-width="1.7"/>
<text x="559.5" y="1073.7" font-size="25" text-anchor="end">pN-WASP</text>
<text x="559.5" y="1124.75" font-size="25" text-anchor="end">N-WASP</text>
<text x="559.5" y="1173.25" font-size="25" text-anchor="end">β-actin</text>
<text x="862" y="1038" font-size="20.8">kDa</text>
<line x1="862.5" y1="1057" x2="867.5" y2="1057" stroke="#000" stroke-width="2"/>
<text x="868" y="1062.2" font-size="20.5">75</text>
<line x1="862.5" y1="1128.6" x2="867.5" y2="1128.6" stroke="#000" stroke-width="2"/>
<text x="868" y="1132.4" font-size="20.5">50</text>
<line x1="862.5" y1="1172" x2="867.5" y2="1172" stroke="#000" stroke-width="2"/>
<text x="868" y="1175.8" font-size="20.5">37</text>
<text x="568.3" y="1211.5" font-size="25.15" text-anchor="end">MG-132:</text>
<text x="583.6" y="1211.8" font-size="25.15" text-anchor="middle">-</text>
<text x="621.1" y="1211.5" font-size="25.15" text-anchor="middle">+</text>
<text x="658.6" y="1211.8" font-size="25.15" text-anchor="middle">-</text>
<text x="696.1" y="1211.5" font-size="25.15" text-anchor="middle">+</text>
<text x="733.6" y="1211.8" font-size="25.15" text-anchor="middle">-</text>
<text x="771.1" y="1211.5" font-size="25.15" text-anchor="middle">+</text>
<text x="808.6" y="1211.8" font-size="25.15" text-anchor="middle">-</text>
<text x="846.1" y="1211.5" font-size="25.15" text-anchor="middle">+</text>
<text x="568.3" y="1234.6" font-size="25.15" text-anchor="end">I3A:</text>
<text x="583.6" y="1234.9" font-size="25.15" text-anchor="middle">-</text>
<text x="621.1" y="1234.9" font-size="25.15" text-anchor="middle">-</text>
<text x="658.6" y="1234.6" font-size="25.15" text-anchor="middle">+</text>
<text x="696.1" y="1234.6" font-size="25.15" text-anchor="middle">+</text>
<text x="733.6" y="1234.9" font-size="25.15" text-anchor="middle">-</text>
<text x="771.1" y="1234.9" font-size="25.15" text-anchor="middle">-</text>
<text x="808.6" y="1234.6" font-size="25.15" text-anchor="middle">+</text>
<text x="846.1" y="1234.6" font-size="25.15" text-anchor="middle">+</text>
<text x="568.3" y="1257.8" font-size="25.15" text-anchor="end">EHEC:</text>
<text x="583.6" y="1258.1" font-size="25.15" text-anchor="middle">-</text>
<text x="621.1" y="1258.1" font-size="25.15" text-anchor="middle">-</text>
<text x="658.6" y="1258.1" font-size="25.15" text-anchor="middle">-</text>
<text x="696.1" y="1258.1" font-size="25.15" text-anchor="middle">-</text>
<text x="733.6" y="1257.8" font-size="25.15" text-anchor="middle">+</text>
<text x="771.1" y="1257.8" font-size="25.15" text-anchor="middle">+</text>
<text x="808.6" y="1257.8" font-size="25.15" text-anchor="middle">+</text>
<text x="846.1" y="1257.8" font-size="25.15" text-anchor="middle">+</text>
<text x="559.5" y="1385.2" font-size="25" text-anchor="end">pN-WASP</text>
<text x="559.5" y="1436.9" font-size="25" text-anchor="end">N-WASP</text>
<text x="559.5" y="1485.25" font-size="25" text-anchor="end">β-actin</text>
<text x="862" y="1350.6" font-size="20.8">kDa</text>
<line x1="862.5" y1="1371" x2="867.5" y2="1371" stroke="#000" stroke-width="2"/>
<text x="868" y="1376" font-size="20.5">75</text>
<line x1="862.5" y1="1438.6" x2="867.5" y2="1438.6" stroke="#000" stroke-width="2"/>
<text x="868" y="1442.4" font-size="20.5">50</text>
<line x1="862.5" y1="1485.8" x2="867.5" y2="1485.8" stroke="#000" stroke-width="2"/>
<text x="868" y="1490.9" font-size="20.5">37</text>
<text x="568.3" y="1523.8" font-size="25.15" text-anchor="end">MG-132:</text>
<text x="583.6" y="1524.1" font-size="25.15" text-anchor="middle">-</text>
<text x="621.1" y="1523.8" font-size="25.15" text-anchor="middle">+</text>
<text x="658.6" y="1524.1" font-size="25.15" text-anchor="middle">-</text>
<text x="696.1" y="1523.8" font-size="25.15" text-anchor="middle">+</text>
<text x="733.6" y="1524.1" font-size="25.15" text-anchor="middle">-</text>
<text x="771.1" y="1523.8" font-size="25.15" text-anchor="middle">+</text>
<text x="808.6" y="1524.1" font-size="25.15" text-anchor="middle">-</text>
<text x="846.1" y="1523.8" font-size="25.15" text-anchor="middle">+</text>
<text x="568.3" y="1546.8" font-size="25.15" text-anchor="end">IPyA:</text>
<text x="583.6" y="1547.1" font-size="25.15" text-anchor="middle">-</text>
<text x="621.1" y="1547.1" font-size="25.15" text-anchor="middle">-</text>
<text x="658.6" y="1546.8" font-size="25.15" text-anchor="middle">+</text>
<text x="696.1" y="1546.8" font-size="25.15" text-anchor="middle">+</text>
<text x="733.6" y="1547.1" font-size="25.15" text-anchor="middle">-</text>
<text x="771.1" y="1547.1" font-size="25.15" text-anchor="middle">-</text>
<text x="808.6" y="1546.8" font-size="25.15" text-anchor="middle">+</text>
<text x="846.1" y="1546.8" font-size="25.15" text-anchor="middle">+</text>
<text x="568.3" y="1569.9" font-size="25.15" text-anchor="end">EHEC:</text>
<text x="583.6" y="1570.2" font-size="25.15" text-anchor="middle">-</text>
<text x="621.1" y="1570.2" font-size="25.15" text-anchor="middle">-</text>
<text x="658.6" y="1570.2" font-size="25.15" text-anchor="middle">-</text>
<text x="696.1" y="1570.2" font-size="25.15" text-anchor="middle">-</text>
<text x="733.6" y="1569.9" font-size="25.15" text-anchor="middle">+</text>
<text x="771.1" y="1569.9" font-size="25.15" text-anchor="middle">+</text>
<text x="808.6" y="1569.9" font-size="25.15" text-anchor="middle">+</text>
<text x="846.1" y="1569.9" font-size="25.15" text-anchor="middle">+</text>
<text x="559.5" y="1700" font-size="25" text-anchor="end">pN-WASP</text>
<text x="559.5" y="1751.95" font-size="25" text-anchor="end">N-WASP</text>
<text x="559.5" y="1800.15" font-size="25" text-anchor="end">β-actin</text>
<text x="862" y="1665" font-size="20.8">kDa</text>
<line x1="862.5" y1="1684" x2="867.5" y2="1684" stroke="#000" stroke-width="2"/>
<text x="868" y="1690" font-size="20.5">75</text>
<line x1="862.5" y1="1754.7" x2="867.5" y2="1754.7" stroke="#000" stroke-width="2"/>
<text x="868" y="1759.3" font-size="20.5">50</text>
<line x1="862.5" y1="1798.9" x2="867.5" y2="1798.9" stroke="#000" stroke-width="2"/>
<text x="868" y="1802.7" font-size="20.5">37</text>
<text x="568.3" y="1838.8" font-size="25.15" text-anchor="end">MG-132:</text>
<text x="583.6" y="1839.1" font-size="25.15" text-anchor="middle">-</text>
<text x="621.1" y="1838.8" font-size="25.15" text-anchor="middle">+</text>
<text x="658.6" y="1839.1" font-size="25.15" text-anchor="middle">-</text>
<text x="696.1" y="1838.8" font-size="25.15" text-anchor="middle">+</text>
<text x="733.6" y="1839.1" font-size="25.15" text-anchor="middle">-</text>
<text x="771.1" y="1838.8" font-size="25.15" text-anchor="middle">+</text>
<text x="808.6" y="1839.1" font-size="25.15" text-anchor="middle">-</text>
<text x="846.1" y="1838.8" font-size="25.15" text-anchor="middle">+</text>
<text x="568.3" y="1861.7" font-size="25.15" text-anchor="end">IEt:</text>
<text x="583.6" y="1862" font-size="25.15" text-anchor="middle">-</text>
<text x="621.1" y="1862" font-size="25.15" text-anchor="middle">-</text>
<text x="658.6" y="1861.7" font-size="25.15" text-anchor="middle">+</text>
<text x="696.1" y="1861.7" font-size="25.15" text-anchor="middle">+</text>
<text x="733.6" y="1862" font-size="25.15" text-anchor="middle">-</text>
<text x="771.1" y="1862" font-size="25.15" text-anchor="middle">-</text>
<text x="808.6" y="1861.7" font-size="25.15" text-anchor="middle">+</text>
<text x="846.1" y="1861.7" font-size="25.15" text-anchor="middle">+</text>
<text x="568.3" y="1885" font-size="25.15" text-anchor="end">EHEC:</text>
<text x="583.6" y="1885.3" font-size="25.15" text-anchor="middle">-</text>
<text x="621.1" y="1885.3" font-size="25.15" text-anchor="middle">-</text>
<text x="658.6" y="1885.3" font-size="25.15" text-anchor="middle">-</text>
<text x="696.1" y="1885.3" font-size="25.15" text-anchor="middle">-</text>
<text x="733.6" y="1885" font-size="25.15" text-anchor="middle">+</text>
<text x="771.1" y="1885" font-size="25.15" text-anchor="middle">+</text>
<text x="808.6" y="1885" font-size="25.15" text-anchor="middle">+</text>
<text x="846.1" y="1885" font-size="25.15" text-anchor="middle">+</text>
</svg>
</body></html>
